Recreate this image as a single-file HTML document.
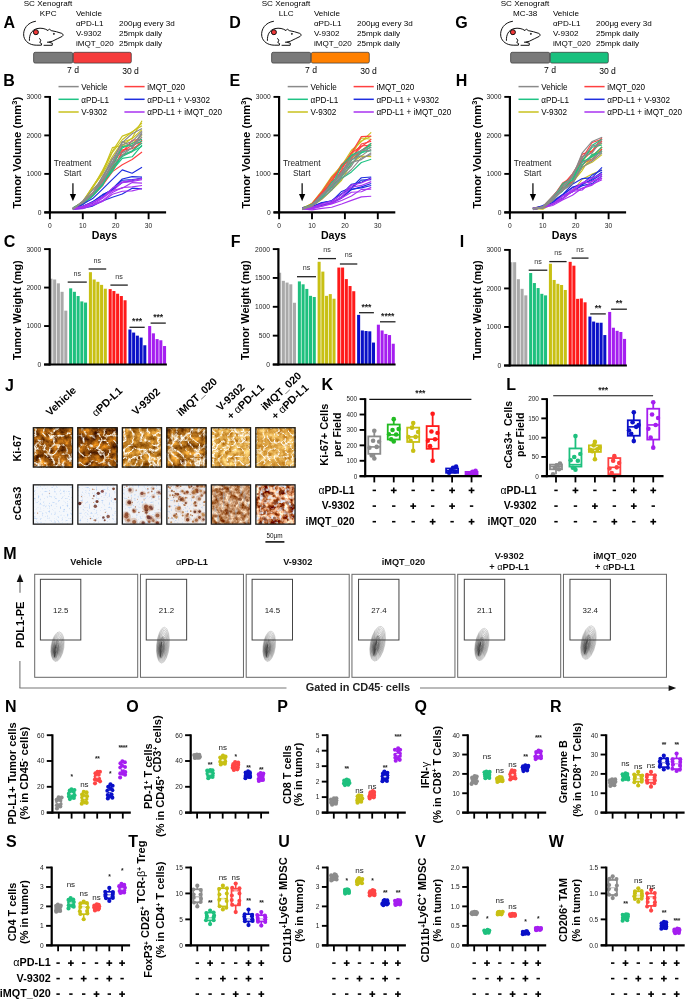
<!DOCTYPE html>
<html><head><meta charset="utf-8"><style>
html,body{margin:0;padding:0;background:#fff;}
svg{display:block;font-family:"Liberation Sans", sans-serif;will-change:transform;}
</style></head><body>
<svg width="685" height="1000" viewBox="0 0 685 1000">
<defs><filter id="ki0" x="0" y="0" width="1" height="1" color-interpolation-filters="sRGB"><feTurbulence type="fractalNoise" baseFrequency="0.15" numOctaves="4" seed="3" result="n1"/><feColorMatrix in="n1" type="matrix" values="1.155 0 0 0 0.033  0.852 0 0 0 -0.086  0.275 0 0 0 -0.083  0 0 0 0 1" result="c1"/><feTurbulence type="turbulence" baseFrequency="0.11" numOctaves="3" seed="53" result="n2"/><feColorMatrix in="n2" type="matrix" values="0 0 0 0 1  0 0 0 0 0.99  0 0 0 0 0.95  -4.6 0 0 0 1.26" result="w"/><feMerge><feMergeNode in="c1"/><feMergeNode in="w"/></feMerge></filter><filter id="ki1" x="0" y="0" width="1" height="1" color-interpolation-filters="sRGB"><feTurbulence type="fractalNoise" baseFrequency="0.14" numOctaves="4" seed="5" result="n1"/><feColorMatrix in="n1" type="matrix" values="1.210 0 0 0 -0.023  0.880 0 0 0 -0.124  0.220 0 0 0 -0.066  0 0 0 0 1" result="c1"/><feTurbulence type="turbulence" baseFrequency="0.11" numOctaves="3" seed="55" result="n2"/><feColorMatrix in="n2" type="matrix" values="0 0 0 0 1  0 0 0 0 0.99  0 0 0 0 0.95  -4.6 0 0 0 1.18" result="w"/><feMerge><feMergeNode in="c1"/><feMergeNode in="w"/></feMerge></filter><filter id="ki2" x="0" y="0" width="1" height="1" color-interpolation-filters="sRGB"><feTurbulence type="fractalNoise" baseFrequency="0.16" numOctaves="4" seed="8" result="n1"/><feColorMatrix in="n1" type="matrix" values="0.840 0 0 0 0.308  0.787 0 0 0 0.084  0.499 0 0 0 -0.120  0 0 0 0 1" result="c1"/><feTurbulence type="turbulence" baseFrequency="0.12" numOctaves="3" seed="58" result="n2"/><feColorMatrix in="n2" type="matrix" values="0 0 0 0 1  0 0 0 0 0.99  0 0 0 0 0.95  -4.4 0 0 0 1.32" result="w"/><feMerge><feMergeNode in="c1"/><feMergeNode in="w"/></feMerge></filter><filter id="ki3" x="0" y="0" width="1" height="1" color-interpolation-filters="sRGB"><feTurbulence type="fractalNoise" baseFrequency="0.14" numOctaves="4" seed="11" result="n1"/><feColorMatrix in="n1" type="matrix" values="0.998 0 0 0 0.181  0.866 0 0 0 -0.010  0.446 0 0 0 -0.124  0 0 0 0 1" result="c1"/><feTurbulence type="turbulence" baseFrequency="0.11" numOctaves="3" seed="61" result="n2"/><feColorMatrix in="n2" type="matrix" values="0 0 0 0 1  0 0 0 0 0.99  0 0 0 0 0.95  -4.4 0 0 0 1.24" result="w"/><feMerge><feMergeNode in="c1"/><feMergeNode in="w"/></feMerge></filter><filter id="ki4" x="0" y="0" width="1" height="1" color-interpolation-filters="sRGB"><feTurbulence type="fractalNoise" baseFrequency="0.18" numOctaves="4" seed="14" result="n1"/><feColorMatrix in="n1" type="matrix" values="0.551 0 0 0 0.595  0.788 0 0 0 0.264  0.840 0 0 0 -0.132  0 0 0 0 1" result="c1"/><feTurbulence type="turbulence" baseFrequency="0.14" numOctaves="3" seed="64" result="n2"/><feColorMatrix in="n2" type="matrix" values="0 0 0 0 1  0 0 0 0 0.99  0 0 0 0 0.95  -4.6 0 0 0 1.3" result="w"/><feMerge><feMergeNode in="c1"/><feMergeNode in="w"/></feMerge></filter><filter id="ki5" x="0" y="0" width="1" height="1" color-interpolation-filters="sRGB"><feTurbulence type="fractalNoise" baseFrequency="0.18" numOctaves="4" seed="17" result="n1"/><feColorMatrix in="n1" type="matrix" values="0.450 0 0 0 0.645  0.650 0 0 0 0.325  0.700 0 0 0 -0.070  0 0 0 0 1" result="c1"/><feTurbulence type="turbulence" baseFrequency="0.14" numOctaves="3" seed="67" result="n2"/><feColorMatrix in="n2" type="matrix" values="0 0 0 0 1  0 0 0 0 0.99  0 0 0 0 0.95  -5.0 0 0 0 1.22" result="w"/><feMerge><feMergeNode in="c1"/><feMergeNode in="w"/></feMerge></filter><filter id="ccbg" x="0" y="0" width="1" height="1" color-interpolation-filters="sRGB"><feTurbulence type="fractalNoise" baseFrequency="0.55" numOctaves="1" seed="4"/><feColorMatrix type="matrix" values="0 0 0 0 0.55  0 0 0 0 0.72  0 0 0 0 0.95  2.6 0 0 0 -1.45"/></filter><filter id="bl" x="-50%" y="-50%" width="200%" height="200%"><feGaussianBlur stdDeviation="0.45"/></filter><filter id="cc4" x="0" y="0" width="1" height="1" color-interpolation-filters="sRGB"><feTurbulence type="fractalNoise" baseFrequency="0.2" numOctaves="3" seed="21" result="n"/><feColorMatrix in="n" type="matrix" values="-1.0 0 0 0 1.28  -1.4 0 0 0 1.28  -1.6 0 0 0 1.22  0 0 0 0 1" result="c"/><feTurbulence type="fractalNoise" baseFrequency="0.35 0.12" numOctaves="2" seed="5" result="n3"/><feColorMatrix in="n3" type="matrix" values="0 0 0 0 0.64  0 0 0 0 0.68  0 0 0 0 0.74  2.6 0 0 0 -1.45" result="b"/><feMerge><feMergeNode in="c"/><feMergeNode in="b"/></feMerge></filter><filter id="cc5" x="0" y="0" width="1" height="1" color-interpolation-filters="sRGB"><feTurbulence type="fractalNoise" baseFrequency="0.2" numOctaves="3" seed="33" result="n"/><feColorMatrix in="n" type="matrix" values="-1.5 0 0 0 1.55  -1.9 0 0 0 1.45  -2.0 0 0 0 1.32  0 0 0 0 1" result="c"/><feTurbulence type="fractalNoise" baseFrequency="0.25" numOctaves="2" seed="9" result="n3"/><feColorMatrix in="n3" type="matrix" values="0 0 0 0 0.88  0 0 0 0 0.92  0 0 0 0 0.98  4.0 0 0 0 -2.0" result="b"/><feMerge><feMergeNode in="c"/><feMergeNode in="b"/></feMerge></filter><clipPath id="cc0c"><rect x="33.35" y="484.85" width="39.2" height="39.3"/></clipPath><clipPath id="cc1c"><rect x="77.85" y="484.85" width="39.2" height="39.3"/></clipPath><clipPath id="cc2c"><rect x="122.35" y="484.85" width="39.2" height="39.3"/></clipPath><clipPath id="cc3c"><rect x="166.85" y="484.85" width="39.2" height="39.3"/></clipPath><clipPath id="cc4c"><rect x="211.35" y="484.85" width="39.2" height="39.3"/></clipPath><clipPath id="cc5c"><rect x="255.85" y="484.85" width="39.2" height="39.3"/></clipPath><filter id="mb" x="-50%" y="-50%" width="200%" height="200%"><feGaussianBlur stdDeviation="0.7"/></filter></defs>
<rect x="0" y="0" width="685" height="1000" fill="#fff"/>
<text x="48.00" y="5.60" font-size="8.1" text-anchor="middle" fill="#000">SC Xenograft</text>
<text x="48.20" y="15.90" font-size="8.1" text-anchor="middle" fill="#000">KPC</text>
<text x="75.90" y="15.90" font-size="8.1" text-anchor="start" fill="#000">Vehicle</text>
<text x="75.90" y="25.85" font-size="8.1" text-anchor="start" fill="#000">&#945;PD-L1</text>
<text x="75.90" y="35.80" font-size="8.1" text-anchor="start" fill="#000">V-9302</text>
<text x="75.90" y="45.75" font-size="8.1" text-anchor="start" fill="#000">iMQT_020</text>
<text x="118.90" y="25.80" font-size="8.1" text-anchor="start" fill="#000">200&#956;g every 3d</text>
<text x="118.90" y="35.80" font-size="8.1" text-anchor="start" fill="#000">25mpk daily</text>
<text x="118.90" y="45.70" font-size="8.1" text-anchor="start" fill="#000">25mpk daily</text>
<g transform="translate(0.00,0.00)" fill="none" stroke="#111" stroke-width="1.0" stroke-linecap="round" stroke-linejoin="round"><path d="M35.5,21.3 C27.5,22.4 22.6,29.2 23.8,36.4 C25,41.8 29.8,45 36.2,45.2 L41.4,45.2 L41.6,43.6 L39.8,42.6 L40.8,40.2 L39.6,38.6"/><path d="M29.4,40.4 C29.2,35 31.2,30.2 37,28.6 C41,27.6 45.5,28.6 48,30.6 L49.4,29 L51.2,30.6 C54.5,31.3 58.5,32 61.8,33.4 C63.5,34.2 63.4,35.6 62.2,36.4 C59,38 55.5,39.6 52.2,41.3 L49,42 M44,45.3 L52.2,45.3 L52.4,43.3 L49,42.2 L47.4,42.2"/><circle cx="53.8" cy="33.9" r="0.35" fill="#111"/></g>
<circle cx="35.90" cy="32.20" r="2.5" fill="#f03838" stroke="#111" stroke-width="1.0"/>
<rect x="33.60" y="52.3" width="39.2" height="10.8" rx="1.6" fill="#7a7a7a" stroke="#333" stroke-width="0.7"/>
<rect x="73.30" y="52.3" width="58.0" height="10.8" rx="1.6" fill="#f53c3c" stroke="#333" stroke-width="0.7"/>
<text x="73.00" y="73.00" font-size="8.6" text-anchor="middle" fill="#000">7 d</text>
<text x="130.50" y="73.60" font-size="8.6" text-anchor="middle" fill="#000">30 d</text>
<text x="286.00" y="5.60" font-size="8.1" text-anchor="middle" fill="#000">SC Xenograft</text>
<text x="286.20" y="15.90" font-size="8.1" text-anchor="middle" fill="#000">LLC</text>
<text x="313.90" y="15.90" font-size="8.1" text-anchor="start" fill="#000">Vehicle</text>
<text x="313.90" y="25.85" font-size="8.1" text-anchor="start" fill="#000">&#945;PD-L1</text>
<text x="313.90" y="35.80" font-size="8.1" text-anchor="start" fill="#000">V-9302</text>
<text x="313.90" y="45.75" font-size="8.1" text-anchor="start" fill="#000">iMQT_020</text>
<text x="356.90" y="25.80" font-size="8.1" text-anchor="start" fill="#000">200&#956;g every 3d</text>
<text x="356.90" y="35.80" font-size="8.1" text-anchor="start" fill="#000">25mpk daily</text>
<text x="356.90" y="45.70" font-size="8.1" text-anchor="start" fill="#000">25mpk daily</text>
<g transform="translate(238.00,0.00)" fill="none" stroke="#111" stroke-width="1.0" stroke-linecap="round" stroke-linejoin="round"><path d="M35.5,21.3 C27.5,22.4 22.6,29.2 23.8,36.4 C25,41.8 29.8,45 36.2,45.2 L41.4,45.2 L41.6,43.6 L39.8,42.6 L40.8,40.2 L39.6,38.6"/><path d="M29.4,40.4 C29.2,35 31.2,30.2 37,28.6 C41,27.6 45.5,28.6 48,30.6 L49.4,29 L51.2,30.6 C54.5,31.3 58.5,32 61.8,33.4 C63.5,34.2 63.4,35.6 62.2,36.4 C59,38 55.5,39.6 52.2,41.3 L49,42 M44,45.3 L52.2,45.3 L52.4,43.3 L49,42.2 L47.4,42.2"/><circle cx="53.8" cy="33.9" r="0.35" fill="#111"/></g>
<circle cx="273.90" cy="32.20" r="2.5" fill="#f03838" stroke="#111" stroke-width="1.0"/>
<rect x="271.60" y="52.3" width="39.2" height="10.8" rx="1.6" fill="#7a7a7a" stroke="#333" stroke-width="0.7"/>
<rect x="311.30" y="52.3" width="58.0" height="10.8" rx="1.6" fill="#ff8000" stroke="#333" stroke-width="0.7"/>
<text x="311.00" y="73.00" font-size="8.6" text-anchor="middle" fill="#000">7 d</text>
<text x="368.50" y="73.60" font-size="8.6" text-anchor="middle" fill="#000">30 d</text>
<text x="525.00" y="5.60" font-size="8.1" text-anchor="middle" fill="#000">SC Xenograft</text>
<text x="525.20" y="15.90" font-size="8.1" text-anchor="middle" fill="#000">MC-38</text>
<text x="552.90" y="15.90" font-size="8.1" text-anchor="start" fill="#000">Vehicle</text>
<text x="552.90" y="25.85" font-size="8.1" text-anchor="start" fill="#000">&#945;PD-L1</text>
<text x="552.90" y="35.80" font-size="8.1" text-anchor="start" fill="#000">V-9302</text>
<text x="552.90" y="45.75" font-size="8.1" text-anchor="start" fill="#000">iMQT_020</text>
<text x="595.90" y="25.80" font-size="8.1" text-anchor="start" fill="#000">200&#956;g every 3d</text>
<text x="595.90" y="35.80" font-size="8.1" text-anchor="start" fill="#000">25mpk daily</text>
<text x="595.90" y="45.70" font-size="8.1" text-anchor="start" fill="#000">25mpk daily</text>
<g transform="translate(477.00,0.00)" fill="none" stroke="#111" stroke-width="1.0" stroke-linecap="round" stroke-linejoin="round"><path d="M35.5,21.3 C27.5,22.4 22.6,29.2 23.8,36.4 C25,41.8 29.8,45 36.2,45.2 L41.4,45.2 L41.6,43.6 L39.8,42.6 L40.8,40.2 L39.6,38.6"/><path d="M29.4,40.4 C29.2,35 31.2,30.2 37,28.6 C41,27.6 45.5,28.6 48,30.6 L49.4,29 L51.2,30.6 C54.5,31.3 58.5,32 61.8,33.4 C63.5,34.2 63.4,35.6 62.2,36.4 C59,38 55.5,39.6 52.2,41.3 L49,42 M44,45.3 L52.2,45.3 L52.4,43.3 L49,42.2 L47.4,42.2"/><circle cx="53.8" cy="33.9" r="0.35" fill="#111"/></g>
<circle cx="512.90" cy="32.20" r="2.5" fill="#f03838" stroke="#111" stroke-width="1.0"/>
<rect x="510.60" y="52.3" width="39.2" height="10.8" rx="1.6" fill="#7a7a7a" stroke="#333" stroke-width="0.7"/>
<rect x="550.30" y="52.3" width="58.0" height="10.8" rx="1.6" fill="#19c07e" stroke="#333" stroke-width="0.7"/>
<text x="550.00" y="73.00" font-size="8.6" text-anchor="middle" fill="#000">7 d</text>
<text x="607.50" y="73.60" font-size="8.6" text-anchor="middle" fill="#000">30 d</text>
<line x1="58.50" y1="86.60" x2="78.70" y2="86.60" stroke="#8a8a8a" stroke-width="1.5"/>
<text x="81.30" y="90.00" font-size="8.15" text-anchor="start" fill="#000">Vehicle</text>
<line x1="58.50" y1="99.30" x2="78.70" y2="99.30" stroke="#1fc384" stroke-width="1.5"/>
<text x="81.30" y="102.70" font-size="8.15" text-anchor="start" fill="#000">&#945;PD-L1</text>
<line x1="58.50" y1="112.00" x2="78.70" y2="112.00" stroke="#c9c21e" stroke-width="1.5"/>
<text x="81.30" y="115.40" font-size="8.15" text-anchor="start" fill="#000">V-9302</text>
<line x1="124.40" y1="86.60" x2="144.60" y2="86.60" stroke="#ff4040" stroke-width="1.5"/>
<text x="147.20" y="90.00" font-size="8.15" text-anchor="start" fill="#000">iMQT_020</text>
<line x1="124.40" y1="99.30" x2="144.60" y2="99.30" stroke="#1e2ee0" stroke-width="1.5"/>
<text x="147.20" y="102.70" font-size="8.15" text-anchor="start" fill="#000">&#945;PD-L1 + V-9302</text>
<line x1="124.40" y1="112.00" x2="144.60" y2="112.00" stroke="#a832f0" stroke-width="1.5"/>
<text x="147.20" y="115.40" font-size="8.15" text-anchor="start" fill="#000">&#945;PD-L1 + iMQT_020</text>
<path d="M72.93,209.25 L82.80,201.31 L92.67,186.52 L102.54,172.18 L112.41,147.59 L122.28,145.47 L132.15,137.96 L142.02,120.77" fill="none" stroke="#c9c21e" stroke-width="1.15" stroke-linejoin="round"/>
<path d="M72.93,208.09 L82.80,202.20 L92.67,187.87 L102.54,170.19 L112.41,151.14 L122.28,136.14 L132.15,132.39 L142.02,123.08" fill="none" stroke="#c9c21e" stroke-width="1.15" stroke-linejoin="round"/>
<path d="M72.93,208.47 L82.80,202.73 L92.67,186.60 L102.54,172.41 L112.41,152.35 L122.28,139.76 L132.15,131.76 L142.02,125.78" fill="none" stroke="#c9c21e" stroke-width="1.15" stroke-linejoin="round"/>
<path d="M72.93,209.58 L82.80,202.68 L92.67,189.66 L102.54,180.61 L112.41,164.25 L122.28,146.30 L132.15,143.48 L142.02,135.40" fill="none" stroke="#c9c21e" stroke-width="1.15" stroke-linejoin="round"/>
<path d="M72.93,208.32 L82.80,201.71 L92.67,187.37 L102.54,173.81 L112.41,156.49 L122.28,142.19 L132.15,138.73 L142.02,129.62" fill="none" stroke="#c9c21e" stroke-width="1.15" stroke-linejoin="round"/>
<path d="M72.93,209.25 L82.80,203.85 L92.67,194.21 L102.54,183.80 L112.41,169.91 L122.28,152.16 L132.15,140.27 L142.02,139.25" fill="none" stroke="#ff4040" stroke-width="1.15" stroke-linejoin="round"/>
<path d="M72.93,208.16 L82.80,202.72 L92.67,195.04 L102.54,181.78 L112.41,168.42 L122.28,155.58 L132.15,151.72 L142.02,140.02" fill="none" stroke="#ff4040" stroke-width="1.15" stroke-linejoin="round"/>
<path d="M72.93,209.29 L82.80,204.07 L92.67,196.04 L102.54,185.46 L112.41,171.65 L122.28,164.74 L132.15,159.49 L142.02,151.96" fill="none" stroke="#ff4040" stroke-width="1.15" stroke-linejoin="round"/>
<path d="M72.93,208.50 L82.80,202.93 L92.67,193.03 L102.54,180.21 L112.41,170.85 L122.28,151.30 L132.15,145.36 L142.02,141.18" fill="none" stroke="#ff4040" stroke-width="1.15" stroke-linejoin="round"/>
<path d="M72.93,208.73 L82.80,204.17 L92.67,194.89 L102.54,185.68 L112.41,164.49 L122.28,149.93 L132.15,148.74 L142.02,143.10" fill="none" stroke="#ff4040" stroke-width="1.15" stroke-linejoin="round"/>
<path d="M72.93,207.86 L82.80,202.28 L92.67,195.47 L102.54,184.23 L112.41,162.75 L122.28,148.05 L132.15,143.57 L142.02,139.25" fill="none" stroke="#1fc384" stroke-width="1.15" stroke-linejoin="round"/>
<path d="M72.93,209.11 L82.80,203.41 L92.67,194.42 L102.54,182.82 L112.41,171.34 L122.28,155.00 L132.15,150.68 L142.02,143.10" fill="none" stroke="#1fc384" stroke-width="1.15" stroke-linejoin="round"/>
<path d="M72.93,208.31 L82.80,203.00 L92.67,193.75 L102.54,183.85 L112.41,170.02 L122.28,158.43 L132.15,156.78 L142.02,145.03" fill="none" stroke="#1fc384" stroke-width="1.15" stroke-linejoin="round"/>
<path d="M72.93,209.65 L82.80,204.05 L92.67,196.19 L102.54,185.26 L112.41,166.98 L122.28,156.49 L132.15,151.41 L142.02,146.18" fill="none" stroke="#1fc384" stroke-width="1.15" stroke-linejoin="round"/>
<path d="M72.93,209.25 L82.80,204.22 L92.67,194.94 L102.54,184.66 L112.41,167.01 L122.28,146.60 L132.15,145.32 L142.02,141.18" fill="none" stroke="#1fc384" stroke-width="1.15" stroke-linejoin="round"/>
<path d="M72.93,208.51 L82.80,204.37 L92.67,198.57 L102.54,189.11 L112.41,179.36 L122.28,169.90 L132.15,173.23 L142.02,167.36" fill="none" stroke="#1e2ee0" stroke-width="1.15" stroke-linejoin="round"/>
<path d="M72.93,208.81 L82.80,205.99 L92.67,202.05 L102.54,194.62 L112.41,190.02 L122.28,182.44 L132.15,180.82 L142.02,177.75" fill="none" stroke="#1e2ee0" stroke-width="1.15" stroke-linejoin="round"/>
<path d="M72.93,208.66 L82.80,206.29 L92.67,203.13 L102.54,196.53 L112.41,188.70 L122.28,179.02 L132.15,176.59 L142.02,176.98" fill="none" stroke="#1e2ee0" stroke-width="1.15" stroke-linejoin="round"/>
<path d="M72.93,209.40 L82.80,208.17 L92.67,206.08 L102.54,200.98 L112.41,197.19 L122.28,194.00 L132.15,188.18 L142.02,188.92" fill="none" stroke="#1e2ee0" stroke-width="1.15" stroke-linejoin="round"/>
<path d="M72.93,209.30 L82.80,206.97 L92.67,201.63 L102.54,195.11 L112.41,189.68 L122.28,180.20 L132.15,179.62 L142.02,178.52" fill="none" stroke="#1e2ee0" stroke-width="1.15" stroke-linejoin="round"/>
<path d="M72.93,208.18 L82.80,206.27 L92.67,202.60 L102.54,197.07 L112.41,191.05 L122.28,181.96 L132.15,180.07 L142.02,178.52" fill="none" stroke="#a832f0" stroke-width="1.15" stroke-linejoin="round"/>
<path d="M72.93,208.24 L82.80,206.98 L92.67,202.40 L102.54,197.56 L112.41,188.11 L122.28,182.62 L132.15,181.52 L142.02,179.68" fill="none" stroke="#a832f0" stroke-width="1.15" stroke-linejoin="round"/>
<path d="M72.93,208.67 L82.80,207.24 L92.67,204.44 L102.54,198.35 L112.41,190.67 L122.28,188.14 L132.15,182.61 L142.02,183.14" fill="none" stroke="#a832f0" stroke-width="1.15" stroke-linejoin="round"/>
<path d="M72.93,208.39 L82.80,207.50 L92.67,204.84 L102.54,200.64 L112.41,192.40 L122.28,187.52 L132.15,186.81 L142.02,185.45" fill="none" stroke="#a832f0" stroke-width="1.15" stroke-linejoin="round"/>
<path d="M72.93,209.52 L82.80,208.59 L92.67,205.29 L102.54,201.54 L112.41,194.18 L122.28,191.27 L132.15,190.86 L142.02,188.53" fill="none" stroke="#a832f0" stroke-width="1.15" stroke-linejoin="round"/>
<path d="M72.93,209.45 L82.80,201.00 L92.67,189.96 L102.54,178.88 L112.41,159.07 L122.28,142.61 L132.15,133.71 L142.02,128.47" fill="none" stroke="#8a8a8a" stroke-width="1.15" stroke-linejoin="round"/>
<path d="M72.93,208.19 L82.80,203.06 L92.67,193.98 L102.54,176.51 L112.41,162.15 L122.28,141.60 L132.15,146.78 L142.02,132.32" fill="none" stroke="#8a8a8a" stroke-width="1.15" stroke-linejoin="round"/>
<path d="M72.93,208.85 L82.80,201.98 L92.67,193.53 L102.54,176.48 L112.41,158.44 L122.28,152.62 L132.15,147.71 L142.02,133.86" fill="none" stroke="#8a8a8a" stroke-width="1.15" stroke-linejoin="round"/>
<path d="M72.93,208.66 L82.80,201.97 L92.67,193.69 L102.54,182.50 L112.41,165.16 L122.28,154.98 L132.15,147.55 L142.02,136.94" fill="none" stroke="#8a8a8a" stroke-width="1.15" stroke-linejoin="round"/>
<path d="M72.93,208.86 L82.80,202.09 L92.67,192.87 L102.54,180.12 L112.41,163.64 L122.28,144.71 L132.15,141.58 L142.02,131.17" fill="none" stroke="#8a8a8a" stroke-width="1.15" stroke-linejoin="round"/>
<line x1="49.90" y1="96.00" x2="49.90" y2="213.40" stroke="#000" stroke-width="2.2"/>
<line x1="44.30" y1="212.40" x2="166.10" y2="212.40" stroke="#000" stroke-width="2.2"/>
<line x1="44.30" y1="212.40" x2="49.90" y2="212.40" stroke="#000" stroke-width="1.9"/>
<text x="41.50" y="214.80" font-size="6.5" text-anchor="end" fill="#222" textLength="3.72" lengthAdjust="spacingAndGlyphs">0</text>
<line x1="44.30" y1="173.90" x2="49.90" y2="173.90" stroke="#000" stroke-width="1.9"/>
<text x="41.50" y="176.30" font-size="6.5" text-anchor="end" fill="#222" textLength="14.88" lengthAdjust="spacingAndGlyphs">1000</text>
<line x1="44.30" y1="135.40" x2="49.90" y2="135.40" stroke="#000" stroke-width="1.9"/>
<text x="41.50" y="137.80" font-size="6.5" text-anchor="end" fill="#222" textLength="14.88" lengthAdjust="spacingAndGlyphs">2000</text>
<line x1="44.30" y1="96.90" x2="49.90" y2="96.90" stroke="#000" stroke-width="1.9"/>
<text x="41.50" y="99.30" font-size="6.5" text-anchor="end" fill="#222" textLength="14.88" lengthAdjust="spacingAndGlyphs">3000</text>
<line x1="49.90" y1="212.40" x2="49.90" y2="219.20" stroke="#000" stroke-width="1.9"/>
<text x="49.90" y="227.60" font-size="6.5" text-anchor="middle" fill="#222" textLength="3.72" lengthAdjust="spacingAndGlyphs">0</text>
<line x1="82.80" y1="212.40" x2="82.80" y2="219.20" stroke="#000" stroke-width="1.9"/>
<text x="82.80" y="227.60" font-size="6.5" text-anchor="middle" fill="#222" textLength="7.44" lengthAdjust="spacingAndGlyphs">10</text>
<line x1="115.70" y1="212.40" x2="115.70" y2="219.20" stroke="#000" stroke-width="1.9"/>
<text x="115.70" y="227.60" font-size="6.5" text-anchor="middle" fill="#222" textLength="7.44" lengthAdjust="spacingAndGlyphs">20</text>
<line x1="148.60" y1="212.40" x2="148.60" y2="219.20" stroke="#000" stroke-width="1.9"/>
<text x="148.60" y="227.60" font-size="6.5" text-anchor="middle" fill="#222" textLength="7.44" lengthAdjust="spacingAndGlyphs">30</text>
<text x="104.40" y="238.70" font-size="10.6" font-weight="bold" text-anchor="middle" fill="#000">Days</text>
<text x="21.00" y="152.80" font-size="10.9" font-weight="bold" fill="#000" text-anchor="middle" textLength="111.9" lengthAdjust="spacingAndGlyphs" transform="rotate(-90 21.00 152.80)">Tumor Volume (mm<tspan font-size="7.2" dy="-3.8">3</tspan><tspan dy="3.8">)</tspan></text>
<text x="72.50" y="166.20" font-size="8.3" text-anchor="middle" fill="#222">Treatment</text>
<text x="72.50" y="175.60" font-size="8.3" text-anchor="middle" fill="#222">Start</text>
<line x1="72.93" y1="183.20" x2="72.93" y2="195.00" stroke="#000" stroke-width="1.2"/>
<path d="M69.83,194 L76.03,194 L72.93,201.2 Z" fill="#000"/>
<line x1="287.70" y1="86.60" x2="307.90" y2="86.60" stroke="#8a8a8a" stroke-width="1.5"/>
<text x="310.50" y="90.00" font-size="8.15" text-anchor="start" fill="#000">Vehicle</text>
<line x1="287.70" y1="99.30" x2="307.90" y2="99.30" stroke="#1fc384" stroke-width="1.5"/>
<text x="310.50" y="102.70" font-size="8.15" text-anchor="start" fill="#000">&#945;PD-L1</text>
<line x1="287.70" y1="112.00" x2="307.90" y2="112.00" stroke="#c9c21e" stroke-width="1.5"/>
<text x="310.50" y="115.40" font-size="8.15" text-anchor="start" fill="#000">V-9302</text>
<line x1="353.60" y1="86.60" x2="373.80" y2="86.60" stroke="#ff4040" stroke-width="1.5"/>
<text x="376.40" y="90.00" font-size="8.15" text-anchor="start" fill="#000">iMQT_020</text>
<line x1="353.60" y1="99.30" x2="373.80" y2="99.30" stroke="#1e2ee0" stroke-width="1.5"/>
<text x="376.40" y="102.70" font-size="8.15" text-anchor="start" fill="#000">&#945;PD-L1 + V-9302</text>
<line x1="353.60" y1="112.00" x2="373.80" y2="112.00" stroke="#a832f0" stroke-width="1.5"/>
<text x="376.40" y="115.40" font-size="8.15" text-anchor="start" fill="#000">&#945;PD-L1 + iMQT_020</text>
<path d="M302.13,209.21 L312.00,203.26 L321.87,190.81 L331.74,176.42 L341.61,165.87 L351.48,150.27 L361.35,141.69 L371.22,132.32" fill="none" stroke="#c9c21e" stroke-width="1.15" stroke-linejoin="round"/>
<path d="M302.13,209.27 L312.00,203.62 L321.87,194.05 L331.74,180.18 L341.61,167.84 L351.48,152.46 L361.35,140.97 L371.22,136.17" fill="none" stroke="#c9c21e" stroke-width="1.15" stroke-linejoin="round"/>
<path d="M302.13,208.09 L312.00,206.13 L321.87,199.30 L331.74,190.00 L341.61,180.23 L351.48,163.22 L361.35,156.08 L371.22,156.57" fill="none" stroke="#c9c21e" stroke-width="1.15" stroke-linejoin="round"/>
<path d="M302.13,208.15 L312.00,203.83 L321.87,192.45 L331.74,178.92 L341.61,164.38 L351.48,155.34 L361.35,138.04 L371.22,139.25" fill="none" stroke="#c9c21e" stroke-width="1.15" stroke-linejoin="round"/>
<path d="M302.13,208.77 L312.00,204.61 L321.87,194.66 L331.74,184.50 L341.61,171.76 L351.48,157.93 L361.35,150.78 L371.22,145.03" fill="none" stroke="#c9c21e" stroke-width="1.15" stroke-linejoin="round"/>
<path d="M302.13,209.50 L312.00,203.67 L321.87,191.98 L331.74,177.56 L341.61,167.30 L351.48,152.94 L361.35,136.59 L371.22,136.17" fill="none" stroke="#ff4040" stroke-width="1.15" stroke-linejoin="round"/>
<path d="M302.13,208.44 L312.00,204.67 L321.87,192.68 L331.74,182.31 L341.61,164.53 L351.48,156.99 L361.35,146.75 L371.22,139.25" fill="none" stroke="#ff4040" stroke-width="1.15" stroke-linejoin="round"/>
<path d="M302.13,207.97 L312.00,204.79 L321.87,194.77 L331.74,180.67 L341.61,167.08 L351.48,158.09 L361.35,144.04 L371.22,141.18" fill="none" stroke="#ff4040" stroke-width="1.15" stroke-linejoin="round"/>
<path d="M302.13,208.43 L312.00,205.29 L321.87,193.84 L331.74,185.49 L341.61,170.83 L351.48,160.31 L361.35,150.46 L371.22,143.10" fill="none" stroke="#ff4040" stroke-width="1.15" stroke-linejoin="round"/>
<path d="M302.13,207.82 L312.00,205.13 L321.87,193.16 L331.74,184.45 L341.61,169.73 L351.48,153.04 L361.35,146.00 L371.22,145.03" fill="none" stroke="#ff4040" stroke-width="1.15" stroke-linejoin="round"/>
<path d="M302.13,208.79 L312.00,204.97 L321.87,194.82 L331.74,186.88 L341.61,175.79 L351.48,160.08 L361.35,153.03 L371.22,146.95" fill="none" stroke="#1fc384" stroke-width="1.15" stroke-linejoin="round"/>
<path d="M302.13,208.15 L312.00,206.33 L321.87,198.31 L331.74,189.83 L341.61,178.40 L351.48,171.92 L361.35,162.53 L371.22,159.27" fill="none" stroke="#1fc384" stroke-width="1.15" stroke-linejoin="round"/>
<path d="M302.13,209.39 L312.00,204.39 L321.87,196.43 L331.74,182.30 L341.61,174.18 L351.48,155.09 L361.35,150.48 L371.22,145.03" fill="none" stroke="#1fc384" stroke-width="1.15" stroke-linejoin="round"/>
<path d="M302.13,208.93 L312.00,204.25 L321.87,196.12 L331.74,185.85 L341.61,165.87 L351.48,155.47 L361.35,151.95 L371.22,143.10" fill="none" stroke="#1fc384" stroke-width="1.15" stroke-linejoin="round"/>
<path d="M302.13,207.80 L312.00,205.02 L321.87,197.63 L331.74,186.93 L341.61,177.00 L351.48,163.78 L361.35,152.46 L371.22,150.80" fill="none" stroke="#1fc384" stroke-width="1.15" stroke-linejoin="round"/>
<path d="M302.13,207.85 L312.00,207.45 L321.87,202.76 L331.74,201.18 L341.61,191.41 L351.48,187.44 L361.35,177.72 L371.22,176.98" fill="none" stroke="#1e2ee0" stroke-width="1.15" stroke-linejoin="round"/>
<path d="M302.13,208.39 L312.00,206.65 L321.87,202.49 L331.74,201.23 L341.61,194.29 L351.48,184.25 L361.35,182.25 L371.22,177.75" fill="none" stroke="#1e2ee0" stroke-width="1.15" stroke-linejoin="round"/>
<path d="M302.13,209.20 L312.00,207.60 L321.87,203.28 L331.74,200.44 L341.61,193.68 L351.48,188.29 L361.35,180.09 L371.22,179.68" fill="none" stroke="#1e2ee0" stroke-width="1.15" stroke-linejoin="round"/>
<path d="M302.13,208.72 L312.00,208.16 L321.87,204.96 L331.74,202.74 L341.61,198.12 L351.48,189.59 L361.35,186.86 L371.22,183.53" fill="none" stroke="#1e2ee0" stroke-width="1.15" stroke-linejoin="round"/>
<path d="M302.13,208.61 L312.00,207.86 L321.87,205.19 L331.74,203.41 L341.61,196.79 L351.48,189.30 L361.35,187.92 L371.22,185.45" fill="none" stroke="#1e2ee0" stroke-width="1.15" stroke-linejoin="round"/>
<path d="M302.13,209.01 L312.00,207.17 L321.87,203.74 L331.74,201.00 L341.61,194.44 L351.48,185.14 L361.35,183.06 L371.22,178.52" fill="none" stroke="#a832f0" stroke-width="1.15" stroke-linejoin="round"/>
<path d="M302.13,208.48 L312.00,208.09 L321.87,204.71 L331.74,202.27 L341.61,196.96 L351.48,187.21 L361.35,185.44 L371.22,181.60" fill="none" stroke="#a832f0" stroke-width="1.15" stroke-linejoin="round"/>
<path d="M302.13,208.19 L312.00,208.17 L321.87,206.21 L331.74,203.22 L341.61,198.06 L351.48,192.23 L361.35,191.78 L371.22,187.38" fill="none" stroke="#a832f0" stroke-width="1.15" stroke-linejoin="round"/>
<path d="M302.13,208.83 L312.00,209.83 L321.87,208.37 L331.74,207.21 L341.61,204.00 L351.48,200.40 L361.35,196.84 L371.22,196.23" fill="none" stroke="#a832f0" stroke-width="1.15" stroke-linejoin="round"/>
<path d="M302.13,209.04 L312.00,208.87 L321.87,206.22 L331.74,203.84 L341.61,200.44 L351.48,196.03 L361.35,189.39 L371.22,189.30" fill="none" stroke="#a832f0" stroke-width="1.15" stroke-linejoin="round"/>
<path d="M302.13,208.83 L312.00,205.33 L321.87,194.48 L331.74,185.90 L341.61,172.95 L351.48,159.40 L361.35,155.86 L371.22,148.88" fill="none" stroke="#8a8a8a" stroke-width="1.15" stroke-linejoin="round"/>
<path d="M302.13,208.72 L312.00,205.45 L321.87,195.45 L331.74,188.63 L341.61,175.71 L351.48,166.02 L361.35,150.26 L371.22,150.80" fill="none" stroke="#8a8a8a" stroke-width="1.15" stroke-linejoin="round"/>
<path d="M302.13,208.37 L312.00,206.44 L321.87,195.39 L331.74,185.01 L341.61,174.26 L351.48,162.34 L361.35,159.59 L371.22,152.73" fill="none" stroke="#8a8a8a" stroke-width="1.15" stroke-linejoin="round"/>
<path d="M302.13,209.68 L312.00,206.01 L321.87,198.71 L331.74,189.65 L341.61,178.44 L351.48,169.50 L361.35,157.93 L371.22,154.65" fill="none" stroke="#8a8a8a" stroke-width="1.15" stroke-linejoin="round"/>
<path d="M302.13,208.86 L312.00,204.71 L321.87,195.32 L331.74,184.14 L341.61,171.82 L351.48,156.99 L361.35,150.75 L371.22,146.95" fill="none" stroke="#8a8a8a" stroke-width="1.15" stroke-linejoin="round"/>
<line x1="279.10" y1="96.00" x2="279.10" y2="213.40" stroke="#000" stroke-width="2.2"/>
<line x1="273.50" y1="212.40" x2="395.30" y2="212.40" stroke="#000" stroke-width="2.2"/>
<line x1="273.50" y1="212.40" x2="279.10" y2="212.40" stroke="#000" stroke-width="1.9"/>
<text x="270.70" y="214.80" font-size="6.5" text-anchor="end" fill="#222" textLength="3.72" lengthAdjust="spacingAndGlyphs">0</text>
<line x1="273.50" y1="173.90" x2="279.10" y2="173.90" stroke="#000" stroke-width="1.9"/>
<text x="270.70" y="176.30" font-size="6.5" text-anchor="end" fill="#222" textLength="14.88" lengthAdjust="spacingAndGlyphs">1000</text>
<line x1="273.50" y1="135.40" x2="279.10" y2="135.40" stroke="#000" stroke-width="1.9"/>
<text x="270.70" y="137.80" font-size="6.5" text-anchor="end" fill="#222" textLength="14.88" lengthAdjust="spacingAndGlyphs">2000</text>
<line x1="273.50" y1="96.90" x2="279.10" y2="96.90" stroke="#000" stroke-width="1.9"/>
<text x="270.70" y="99.30" font-size="6.5" text-anchor="end" fill="#222" textLength="14.88" lengthAdjust="spacingAndGlyphs">3000</text>
<line x1="279.10" y1="212.40" x2="279.10" y2="219.20" stroke="#000" stroke-width="1.9"/>
<text x="279.10" y="227.60" font-size="6.5" text-anchor="middle" fill="#222" textLength="3.72" lengthAdjust="spacingAndGlyphs">0</text>
<line x1="312.00" y1="212.40" x2="312.00" y2="219.20" stroke="#000" stroke-width="1.9"/>
<text x="312.00" y="227.60" font-size="6.5" text-anchor="middle" fill="#222" textLength="7.44" lengthAdjust="spacingAndGlyphs">10</text>
<line x1="344.90" y1="212.40" x2="344.90" y2="219.20" stroke="#000" stroke-width="1.9"/>
<text x="344.90" y="227.60" font-size="6.5" text-anchor="middle" fill="#222" textLength="7.44" lengthAdjust="spacingAndGlyphs">20</text>
<line x1="377.80" y1="212.40" x2="377.80" y2="219.20" stroke="#000" stroke-width="1.9"/>
<text x="377.80" y="227.60" font-size="6.5" text-anchor="middle" fill="#222" textLength="7.44" lengthAdjust="spacingAndGlyphs">30</text>
<text x="333.60" y="238.70" font-size="10.6" font-weight="bold" text-anchor="middle" fill="#000">Days</text>
<text x="250.20" y="152.80" font-size="10.9" font-weight="bold" fill="#000" text-anchor="middle" textLength="111.9" lengthAdjust="spacingAndGlyphs" transform="rotate(-90 250.20 152.80)">Tumor Volume (mm<tspan font-size="7.2" dy="-3.8">3</tspan><tspan dy="3.8">)</tspan></text>
<text x="301.70" y="166.20" font-size="8.3" text-anchor="middle" fill="#222">Treatment</text>
<text x="301.70" y="175.60" font-size="8.3" text-anchor="middle" fill="#222">Start</text>
<line x1="302.13" y1="183.20" x2="302.13" y2="195.00" stroke="#000" stroke-width="1.2"/>
<path d="M299.03,194 L305.23,194 L302.13,201.2 Z" fill="#000"/>
<line x1="518.50" y1="86.60" x2="538.70" y2="86.60" stroke="#8a8a8a" stroke-width="1.5"/>
<text x="541.30" y="90.00" font-size="8.15" text-anchor="start" fill="#000">Vehicle</text>
<line x1="518.50" y1="99.30" x2="538.70" y2="99.30" stroke="#1fc384" stroke-width="1.5"/>
<text x="541.30" y="102.70" font-size="8.15" text-anchor="start" fill="#000">&#945;PD-L1</text>
<line x1="518.50" y1="112.00" x2="538.70" y2="112.00" stroke="#c9c21e" stroke-width="1.5"/>
<text x="541.30" y="115.40" font-size="8.15" text-anchor="start" fill="#000">V-9302</text>
<line x1="584.40" y1="86.60" x2="604.60" y2="86.60" stroke="#ff4040" stroke-width="1.5"/>
<text x="607.20" y="90.00" font-size="8.15" text-anchor="start" fill="#000">iMQT_020</text>
<line x1="584.40" y1="99.30" x2="604.60" y2="99.30" stroke="#1e2ee0" stroke-width="1.5"/>
<text x="607.20" y="102.70" font-size="8.15" text-anchor="start" fill="#000">&#945;PD-L1 + V-9302</text>
<line x1="584.40" y1="112.00" x2="604.60" y2="112.00" stroke="#a832f0" stroke-width="1.5"/>
<text x="607.20" y="115.40" font-size="8.15" text-anchor="start" fill="#000">&#945;PD-L1 + iMQT_020</text>
<path d="M532.93,207.92 L542.80,206.74 L552.67,196.70 L562.54,189.85 L572.41,177.11 L582.28,161.22 L592.15,150.35 L602.02,143.10" fill="none" stroke="#c9c21e" stroke-width="1.15" stroke-linejoin="round"/>
<path d="M532.93,209.45 L542.80,207.79 L552.67,198.81 L562.54,190.46 L572.41,179.97 L582.28,167.98 L592.15,158.98 L602.02,146.95" fill="none" stroke="#c9c21e" stroke-width="1.15" stroke-linejoin="round"/>
<path d="M532.93,208.34 L542.80,207.85 L552.67,199.43 L562.54,189.51 L572.41,182.47 L582.28,170.29 L592.15,154.47 L602.02,150.80" fill="none" stroke="#c9c21e" stroke-width="1.15" stroke-linejoin="round"/>
<path d="M532.93,208.57 L542.80,207.93 L552.67,199.98 L562.54,189.97 L572.41,184.32 L582.28,166.84 L592.15,162.35 L602.02,154.65" fill="none" stroke="#c9c21e" stroke-width="1.15" stroke-linejoin="round"/>
<path d="M532.93,208.60 L542.80,209.12 L552.67,203.84 L562.54,198.61 L572.41,191.33 L582.28,179.25 L592.15,174.03 L602.02,170.05" fill="none" stroke="#c9c21e" stroke-width="1.15" stroke-linejoin="round"/>
<path d="M532.93,208.33 L542.80,206.39 L552.67,197.64 L562.54,183.09 L572.41,177.16 L582.28,154.17 L592.15,151.04 L602.02,137.32" fill="none" stroke="#ff4040" stroke-width="1.15" stroke-linejoin="round"/>
<path d="M532.93,208.25 L542.80,207.30 L552.67,196.40 L562.54,185.27 L572.41,173.88 L582.28,158.18 L592.15,142.53 L602.02,139.25" fill="none" stroke="#ff4040" stroke-width="1.15" stroke-linejoin="round"/>
<path d="M532.93,207.80 L542.80,207.47 L552.67,197.39 L562.54,184.80 L572.41,175.08 L582.28,159.58 L592.15,151.49 L602.02,141.18" fill="none" stroke="#ff4040" stroke-width="1.15" stroke-linejoin="round"/>
<path d="M532.93,207.87 L542.80,207.90 L552.67,197.94 L562.54,187.57 L572.41,181.92 L582.28,165.01 L592.15,156.42 L602.02,146.95" fill="none" stroke="#ff4040" stroke-width="1.15" stroke-linejoin="round"/>
<path d="M532.93,208.66 L542.80,207.76 L552.67,198.01 L562.54,187.93 L572.41,181.81 L582.28,160.99 L592.15,160.73 L602.02,148.88" fill="none" stroke="#ff4040" stroke-width="1.15" stroke-linejoin="round"/>
<path d="M532.93,207.86 L542.80,207.31 L552.67,198.50 L562.54,183.84 L572.41,178.13 L582.28,161.70 L592.15,145.32 L602.02,139.25" fill="none" stroke="#1fc384" stroke-width="1.15" stroke-linejoin="round"/>
<path d="M532.93,209.04 L542.80,206.95 L552.67,199.01 L562.54,186.28 L572.41,179.93 L582.28,160.85 L592.15,147.25 L602.02,145.03" fill="none" stroke="#1fc384" stroke-width="1.15" stroke-linejoin="round"/>
<path d="M532.93,208.39 L542.80,207.08 L552.67,198.08 L562.54,191.26 L572.41,177.18 L582.28,162.43 L592.15,156.36 L602.02,146.95" fill="none" stroke="#1fc384" stroke-width="1.15" stroke-linejoin="round"/>
<path d="M532.93,209.34 L542.80,207.46 L552.67,199.25 L562.54,188.62 L572.41,179.91 L582.28,161.94 L592.15,156.85 L602.02,150.80" fill="none" stroke="#1fc384" stroke-width="1.15" stroke-linejoin="round"/>
<path d="M532.93,208.36 L542.80,207.82 L552.67,200.47 L562.54,189.28 L572.41,183.68 L582.28,165.13 L592.15,154.46 L602.02,152.73" fill="none" stroke="#1fc384" stroke-width="1.15" stroke-linejoin="round"/>
<path d="M532.93,208.98 L542.80,205.56 L552.67,201.33 L562.54,194.56 L572.41,184.33 L582.28,178.62 L592.15,177.62 L602.02,167.36" fill="none" stroke="#1e2ee0" stroke-width="1.15" stroke-linejoin="round"/>
<path d="M532.93,207.87 L542.80,206.76 L552.67,203.04 L562.54,194.88 L572.41,187.40 L582.28,183.81 L592.15,175.06 L602.02,170.05" fill="none" stroke="#1e2ee0" stroke-width="1.15" stroke-linejoin="round"/>
<path d="M532.93,208.10 L542.80,206.73 L552.67,202.55 L562.54,195.00 L572.41,187.43 L582.28,184.77 L592.15,179.01 L602.02,171.98" fill="none" stroke="#1e2ee0" stroke-width="1.15" stroke-linejoin="round"/>
<path d="M532.93,208.80 L542.80,207.44 L552.67,202.71 L562.54,195.79 L572.41,191.86 L582.28,183.83 L592.15,180.24 L602.02,173.90" fill="none" stroke="#1e2ee0" stroke-width="1.15" stroke-linejoin="round"/>
<path d="M532.93,209.34 L542.80,207.63 L552.67,204.05 L562.54,198.36 L572.41,190.92 L582.28,185.62 L592.15,183.63 L602.02,175.82" fill="none" stroke="#1e2ee0" stroke-width="1.15" stroke-linejoin="round"/>
<path d="M532.93,208.27 L542.80,207.33 L552.67,204.07 L562.54,195.90 L572.41,192.05 L582.28,182.74 L592.15,177.94 L602.02,173.90" fill="none" stroke="#a832f0" stroke-width="1.15" stroke-linejoin="round"/>
<path d="M532.93,209.62 L542.80,207.09 L552.67,203.98 L562.54,196.62 L572.41,189.26 L582.28,183.10 L592.15,181.88 L602.02,175.82" fill="none" stroke="#a832f0" stroke-width="1.15" stroke-linejoin="round"/>
<path d="M532.93,208.08 L542.80,207.27 L552.67,203.68 L562.54,199.22 L572.41,190.54 L582.28,188.51 L592.15,185.13 L602.02,177.75" fill="none" stroke="#a832f0" stroke-width="1.15" stroke-linejoin="round"/>
<path d="M532.93,208.55 L542.80,207.34 L552.67,203.90 L562.54,198.56 L572.41,191.46 L582.28,189.99 L592.15,180.90 L602.02,178.52" fill="none" stroke="#a832f0" stroke-width="1.15" stroke-linejoin="round"/>
<path d="M532.93,209.14 L542.80,207.78 L552.67,205.44 L562.54,199.91 L572.41,195.29 L582.28,188.03 L592.15,184.24 L602.02,179.68" fill="none" stroke="#a832f0" stroke-width="1.15" stroke-linejoin="round"/>
<path d="M532.93,209.39 L542.80,206.56 L552.67,196.21 L562.54,185.86 L572.41,176.99 L582.28,152.80 L592.15,141.47 L602.02,137.32" fill="none" stroke="#8a8a8a" stroke-width="1.15" stroke-linejoin="round"/>
<path d="M532.93,208.72 L542.80,206.91 L552.67,197.85 L562.54,189.01 L572.41,176.77 L582.28,156.60 L592.15,152.90 L602.02,139.25" fill="none" stroke="#8a8a8a" stroke-width="1.15" stroke-linejoin="round"/>
<path d="M532.93,208.18 L542.80,207.48 L552.67,198.63 L562.54,190.05 L572.41,174.30 L582.28,157.94 L592.15,146.10 L602.02,143.10" fill="none" stroke="#8a8a8a" stroke-width="1.15" stroke-linejoin="round"/>
<path d="M532.93,208.52 L542.80,208.21 L552.67,199.91 L562.54,190.54 L572.41,183.97 L582.28,162.02 L592.15,159.02 L602.02,150.80" fill="none" stroke="#8a8a8a" stroke-width="1.15" stroke-linejoin="round"/>
<path d="M532.93,209.41 L542.80,207.64 L552.67,200.81 L562.54,189.40 L572.41,182.84 L582.28,167.18 L592.15,160.96 L602.02,152.73" fill="none" stroke="#8a8a8a" stroke-width="1.15" stroke-linejoin="round"/>
<line x1="509.90" y1="96.00" x2="509.90" y2="213.40" stroke="#000" stroke-width="2.2"/>
<line x1="504.30" y1="212.40" x2="626.10" y2="212.40" stroke="#000" stroke-width="2.2"/>
<line x1="504.30" y1="212.40" x2="509.90" y2="212.40" stroke="#000" stroke-width="1.9"/>
<text x="501.50" y="214.80" font-size="6.5" text-anchor="end" fill="#222" textLength="3.72" lengthAdjust="spacingAndGlyphs">0</text>
<line x1="504.30" y1="173.90" x2="509.90" y2="173.90" stroke="#000" stroke-width="1.9"/>
<text x="501.50" y="176.30" font-size="6.5" text-anchor="end" fill="#222" textLength="14.88" lengthAdjust="spacingAndGlyphs">1000</text>
<line x1="504.30" y1="135.40" x2="509.90" y2="135.40" stroke="#000" stroke-width="1.9"/>
<text x="501.50" y="137.80" font-size="6.5" text-anchor="end" fill="#222" textLength="14.88" lengthAdjust="spacingAndGlyphs">2000</text>
<line x1="504.30" y1="96.90" x2="509.90" y2="96.90" stroke="#000" stroke-width="1.9"/>
<text x="501.50" y="99.30" font-size="6.5" text-anchor="end" fill="#222" textLength="14.88" lengthAdjust="spacingAndGlyphs">3000</text>
<line x1="509.90" y1="212.40" x2="509.90" y2="219.20" stroke="#000" stroke-width="1.9"/>
<text x="509.90" y="227.60" font-size="6.5" text-anchor="middle" fill="#222" textLength="3.72" lengthAdjust="spacingAndGlyphs">0</text>
<line x1="542.80" y1="212.40" x2="542.80" y2="219.20" stroke="#000" stroke-width="1.9"/>
<text x="542.80" y="227.60" font-size="6.5" text-anchor="middle" fill="#222" textLength="7.44" lengthAdjust="spacingAndGlyphs">10</text>
<line x1="575.70" y1="212.40" x2="575.70" y2="219.20" stroke="#000" stroke-width="1.9"/>
<text x="575.70" y="227.60" font-size="6.5" text-anchor="middle" fill="#222" textLength="7.44" lengthAdjust="spacingAndGlyphs">20</text>
<line x1="608.60" y1="212.40" x2="608.60" y2="219.20" stroke="#000" stroke-width="1.9"/>
<text x="608.60" y="227.60" font-size="6.5" text-anchor="middle" fill="#222" textLength="7.44" lengthAdjust="spacingAndGlyphs">30</text>
<text x="564.40" y="238.70" font-size="10.6" font-weight="bold" text-anchor="middle" fill="#000">Days</text>
<text x="481.00" y="152.80" font-size="10.9" font-weight="bold" fill="#000" text-anchor="middle" textLength="111.9" lengthAdjust="spacingAndGlyphs" transform="rotate(-90 481.00 152.80)">Tumor Volume (mm<tspan font-size="7.2" dy="-3.8">3</tspan><tspan dy="3.8">)</tspan></text>
<text x="532.50" y="166.20" font-size="8.3" text-anchor="middle" fill="#222">Treatment</text>
<text x="532.50" y="175.60" font-size="8.3" text-anchor="middle" fill="#222">Start</text>
<line x1="532.93" y1="183.20" x2="532.93" y2="195.00" stroke="#000" stroke-width="1.2"/>
<path d="M529.83,194 L536.03,194 L532.93,201.2 Z" fill="#000"/>
<rect x="49.40" y="278.72" width="3.05" height="85.78" fill="#a9a9a9"/>
<rect x="53.12" y="279.49" width="3.05" height="85.01" fill="#a9a9a9"/>
<rect x="56.84" y="283.34" width="3.05" height="81.16" fill="#a9a9a9"/>
<rect x="60.56" y="291.80" width="3.05" height="72.70" fill="#a9a9a9"/>
<rect x="64.28" y="310.65" width="3.05" height="53.85" fill="#a9a9a9"/>
<rect x="69.15" y="288.34" width="3.05" height="76.16" fill="#1ec07e"/>
<rect x="72.87" y="291.80" width="3.05" height="72.70" fill="#1ec07e"/>
<rect x="76.59" y="296.03" width="3.05" height="68.47" fill="#1ec07e"/>
<rect x="80.31" y="301.41" width="3.05" height="63.09" fill="#1ec07e"/>
<rect x="84.03" y="302.57" width="3.05" height="61.93" fill="#1ec07e"/>
<rect x="88.90" y="272.18" width="3.05" height="92.32" fill="#c8c014"/>
<rect x="92.62" y="279.49" width="3.05" height="85.01" fill="#c8c014"/>
<rect x="96.34" y="281.80" width="3.05" height="82.70" fill="#c8c014"/>
<rect x="100.06" y="284.87" width="3.05" height="79.63" fill="#c8c014"/>
<rect x="103.78" y="288.72" width="3.05" height="75.78" fill="#c8c014"/>
<rect x="108.65" y="289.11" width="3.05" height="75.39" fill="#ff1a1a"/>
<rect x="112.37" y="291.03" width="3.05" height="73.47" fill="#ff1a1a"/>
<rect x="116.09" y="293.72" width="3.05" height="70.78" fill="#ff1a1a"/>
<rect x="119.81" y="296.03" width="3.05" height="68.47" fill="#ff1a1a"/>
<rect x="123.53" y="300.26" width="3.05" height="64.24" fill="#ff1a1a"/>
<rect x="128.40" y="329.50" width="3.05" height="35.00" fill="#0a10c8"/>
<rect x="132.12" y="332.57" width="3.05" height="31.93" fill="#0a10c8"/>
<rect x="135.84" y="335.65" width="3.05" height="28.85" fill="#0a10c8"/>
<rect x="139.56" y="337.57" width="3.05" height="26.93" fill="#0a10c8"/>
<rect x="143.28" y="345.27" width="3.05" height="19.23" fill="#0a10c8"/>
<rect x="148.15" y="326.03" width="3.05" height="38.47" fill="#a51ef0"/>
<rect x="151.87" y="333.34" width="3.05" height="31.16" fill="#a51ef0"/>
<rect x="155.59" y="339.11" width="3.05" height="25.39" fill="#a51ef0"/>
<rect x="159.31" y="340.27" width="3.05" height="24.23" fill="#a51ef0"/>
<rect x="163.03" y="346.04" width="3.05" height="18.46" fill="#a51ef0"/>
<line x1="67.70" y1="282.10" x2="86.80" y2="282.10" stroke="#222" stroke-width="1.3"/>
<text x="77.25" y="275.70" font-size="7.2" text-anchor="middle" fill="#333">ns</text>
<line x1="88.60" y1="269.00" x2="106.20" y2="269.00" stroke="#222" stroke-width="1.3"/>
<text x="97.40" y="262.50" font-size="7.2" text-anchor="middle" fill="#333">ns</text>
<line x1="110.40" y1="285.10" x2="127.80" y2="285.10" stroke="#222" stroke-width="1.3"/>
<text x="119.10" y="278.60" font-size="7.2" text-anchor="middle" fill="#333">ns</text>
<line x1="129.50" y1="327.30" x2="144.70" y2="327.30" stroke="#222" stroke-width="1.3"/>
<text x="137.10" y="324.30" font-size="8.6" font-weight="bold" text-anchor="middle" fill="#222">***</text>
<line x1="150.60" y1="323.10" x2="165.80" y2="323.10" stroke="#222" stroke-width="1.3"/>
<text x="158.20" y="320.30" font-size="8.6" font-weight="bold" text-anchor="middle" fill="#222">***</text>
<line x1="49.70" y1="248.20" x2="49.70" y2="365.50" stroke="#000" stroke-width="2.2"/>
<line x1="44.10" y1="364.50" x2="166.90" y2="364.50" stroke="#000" stroke-width="2.2"/>
<line x1="44.10" y1="364.50" x2="49.70" y2="364.50" stroke="#000" stroke-width="1.9"/>
<text x="41.30" y="366.90" font-size="6.5" text-anchor="end" fill="#222" textLength="3.72" lengthAdjust="spacingAndGlyphs">0</text>
<line x1="44.10" y1="326.03" x2="49.70" y2="326.03" stroke="#000" stroke-width="1.9"/>
<text x="41.30" y="328.43" font-size="6.5" text-anchor="end" fill="#222" textLength="14.88" lengthAdjust="spacingAndGlyphs">1000</text>
<line x1="44.10" y1="287.57" x2="49.70" y2="287.57" stroke="#000" stroke-width="1.9"/>
<text x="41.30" y="289.97" font-size="6.5" text-anchor="end" fill="#222" textLength="14.88" lengthAdjust="spacingAndGlyphs">2000</text>
<line x1="44.10" y1="249.10" x2="49.70" y2="249.10" stroke="#000" stroke-width="1.9"/>
<text x="41.30" y="251.50" font-size="6.5" text-anchor="end" fill="#222" textLength="14.88" lengthAdjust="spacingAndGlyphs">3000</text>
<text x="20.60" y="310.30" font-size="10.9" font-weight="bold" fill="#000" text-anchor="middle" textLength="99.8" lengthAdjust="spacingAndGlyphs" transform="rotate(-90 20.60 310.30)">Tumor Weight (mg)</text>
<rect x="278.10" y="272.76" width="3.05" height="91.74" fill="#a9a9a9"/>
<rect x="281.82" y="280.83" width="3.05" height="83.67" fill="#a9a9a9"/>
<rect x="285.54" y="282.57" width="3.05" height="81.93" fill="#a9a9a9"/>
<rect x="289.26" y="284.30" width="3.05" height="80.20" fill="#a9a9a9"/>
<rect x="292.98" y="302.76" width="3.05" height="61.74" fill="#a9a9a9"/>
<rect x="297.85" y="281.41" width="3.05" height="83.09" fill="#1ec07e"/>
<rect x="301.57" y="284.30" width="3.05" height="80.20" fill="#1ec07e"/>
<rect x="305.29" y="288.91" width="3.05" height="75.59" fill="#1ec07e"/>
<rect x="309.01" y="295.84" width="3.05" height="68.66" fill="#1ec07e"/>
<rect x="312.73" y="296.99" width="3.05" height="67.51" fill="#1ec07e"/>
<rect x="317.60" y="261.79" width="3.05" height="102.71" fill="#c8c014"/>
<rect x="321.32" y="271.60" width="3.05" height="92.90" fill="#c8c014"/>
<rect x="325.04" y="295.84" width="3.05" height="68.66" fill="#c8c014"/>
<rect x="328.76" y="294.11" width="3.05" height="70.39" fill="#c8c014"/>
<rect x="332.48" y="298.72" width="3.05" height="65.78" fill="#c8c014"/>
<rect x="337.35" y="267.56" width="3.05" height="96.94" fill="#ff1a1a"/>
<rect x="341.07" y="267.56" width="3.05" height="96.94" fill="#ff1a1a"/>
<rect x="344.79" y="279.10" width="3.05" height="85.40" fill="#ff1a1a"/>
<rect x="348.51" y="286.03" width="3.05" height="78.47" fill="#ff1a1a"/>
<rect x="352.23" y="291.22" width="3.05" height="73.28" fill="#ff1a1a"/>
<rect x="357.10" y="314.88" width="3.05" height="49.62" fill="#0a10c8"/>
<rect x="360.82" y="330.46" width="3.05" height="34.04" fill="#0a10c8"/>
<rect x="364.54" y="331.03" width="3.05" height="33.47" fill="#0a10c8"/>
<rect x="368.26" y="331.32" width="3.05" height="33.18" fill="#0a10c8"/>
<rect x="371.98" y="342.57" width="3.05" height="21.93" fill="#0a10c8"/>
<rect x="376.85" y="324.69" width="3.05" height="39.81" fill="#a51ef0"/>
<rect x="380.57" y="330.46" width="3.05" height="34.04" fill="#a51ef0"/>
<rect x="384.29" y="333.92" width="3.05" height="30.58" fill="#a51ef0"/>
<rect x="388.01" y="335.07" width="3.05" height="29.43" fill="#a51ef0"/>
<rect x="391.73" y="343.73" width="3.05" height="20.77" fill="#a51ef0"/>
<line x1="297.00" y1="276.70" x2="316.00" y2="276.70" stroke="#222" stroke-width="1.3"/>
<text x="306.50" y="270.00" font-size="7.2" text-anchor="middle" fill="#333">ns</text>
<line x1="318.00" y1="258.60" x2="336.00" y2="258.60" stroke="#222" stroke-width="1.3"/>
<text x="327.00" y="252.10" font-size="7.2" text-anchor="middle" fill="#333">ns</text>
<line x1="339.90" y1="264.00" x2="357.30" y2="264.00" stroke="#222" stroke-width="1.3"/>
<text x="348.60" y="257.10" font-size="7.2" text-anchor="middle" fill="#333">ns</text>
<line x1="359.00" y1="312.70" x2="373.90" y2="312.70" stroke="#222" stroke-width="1.3"/>
<text x="366.45" y="309.90" font-size="8.6" font-weight="bold" text-anchor="middle" fill="#222">***</text>
<line x1="380.00" y1="321.80" x2="395.50" y2="321.80" stroke="#222" stroke-width="1.3"/>
<text x="387.75" y="319.10" font-size="8.6" font-weight="bold" text-anchor="middle" fill="#222">****</text>
<line x1="278.40" y1="248.20" x2="278.40" y2="365.50" stroke="#000" stroke-width="2.2"/>
<line x1="272.80" y1="364.50" x2="395.60" y2="364.50" stroke="#000" stroke-width="2.2"/>
<line x1="272.80" y1="364.50" x2="278.40" y2="364.50" stroke="#000" stroke-width="1.9"/>
<text x="270.00" y="366.90" font-size="6.5" text-anchor="end" fill="#222" textLength="3.72" lengthAdjust="spacingAndGlyphs">0</text>
<line x1="272.80" y1="335.65" x2="278.40" y2="335.65" stroke="#000" stroke-width="1.9"/>
<text x="270.00" y="338.05" font-size="6.5" text-anchor="end" fill="#222" textLength="11.16" lengthAdjust="spacingAndGlyphs">500</text>
<line x1="272.80" y1="306.80" x2="278.40" y2="306.80" stroke="#000" stroke-width="1.9"/>
<text x="270.00" y="309.20" font-size="6.5" text-anchor="end" fill="#222" textLength="14.88" lengthAdjust="spacingAndGlyphs">1000</text>
<line x1="272.80" y1="277.95" x2="278.40" y2="277.95" stroke="#000" stroke-width="1.9"/>
<text x="270.00" y="280.35" font-size="6.5" text-anchor="end" fill="#222" textLength="14.88" lengthAdjust="spacingAndGlyphs">1500</text>
<line x1="272.80" y1="249.10" x2="278.40" y2="249.10" stroke="#000" stroke-width="1.9"/>
<text x="270.00" y="251.50" font-size="6.5" text-anchor="end" fill="#222" textLength="14.88" lengthAdjust="spacingAndGlyphs">2000</text>
<text x="249.30" y="310.30" font-size="10.9" font-weight="bold" fill="#000" text-anchor="middle" textLength="99.8" lengthAdjust="spacingAndGlyphs" transform="rotate(-90 249.30 310.30)">Tumor Weight (mg)</text>
<rect x="509.40" y="262.23" width="3.05" height="103.27" fill="#a9a9a9"/>
<rect x="513.12" y="262.23" width="3.05" height="103.27" fill="#a9a9a9"/>
<rect x="516.84" y="279.19" width="3.05" height="86.31" fill="#a9a9a9"/>
<rect x="520.56" y="288.82" width="3.05" height="76.68" fill="#a9a9a9"/>
<rect x="524.28" y="295.37" width="3.05" height="70.13" fill="#a9a9a9"/>
<rect x="529.15" y="273.02" width="3.05" height="92.48" fill="#1ec07e"/>
<rect x="532.87" y="283.04" width="3.05" height="82.46" fill="#1ec07e"/>
<rect x="536.59" y="288.05" width="3.05" height="77.45" fill="#1ec07e"/>
<rect x="540.31" y="293.83" width="3.05" height="71.67" fill="#1ec07e"/>
<rect x="544.03" y="295.37" width="3.05" height="70.13" fill="#1ec07e"/>
<rect x="548.90" y="263.77" width="3.05" height="101.73" fill="#c8c014"/>
<rect x="552.62" y="279.96" width="3.05" height="85.54" fill="#c8c014"/>
<rect x="556.34" y="283.81" width="3.05" height="81.69" fill="#c8c014"/>
<rect x="560.06" y="284.97" width="3.05" height="80.53" fill="#c8c014"/>
<rect x="563.78" y="289.97" width="3.05" height="75.53" fill="#c8c014"/>
<rect x="568.65" y="261.85" width="3.05" height="103.65" fill="#ff1a1a"/>
<rect x="572.37" y="265.70" width="3.05" height="99.80" fill="#ff1a1a"/>
<rect x="576.09" y="298.84" width="3.05" height="66.66" fill="#ff1a1a"/>
<rect x="579.81" y="298.45" width="3.05" height="67.05" fill="#ff1a1a"/>
<rect x="583.53" y="302.31" width="3.05" height="63.19" fill="#ff1a1a"/>
<rect x="588.40" y="316.56" width="3.05" height="48.94" fill="#0a10c8"/>
<rect x="592.12" y="321.57" width="3.05" height="43.93" fill="#0a10c8"/>
<rect x="595.84" y="322.73" width="3.05" height="42.77" fill="#0a10c8"/>
<rect x="599.56" y="322.73" width="3.05" height="42.77" fill="#0a10c8"/>
<rect x="603.28" y="335.06" width="3.05" height="30.44" fill="#0a10c8"/>
<rect x="608.15" y="311.94" width="3.05" height="53.56" fill="#a51ef0"/>
<rect x="611.87" y="327.74" width="3.05" height="37.76" fill="#a51ef0"/>
<rect x="615.59" y="330.82" width="3.05" height="34.68" fill="#a51ef0"/>
<rect x="619.31" y="331.98" width="3.05" height="33.52" fill="#a51ef0"/>
<rect x="623.03" y="338.91" width="3.05" height="26.59" fill="#a51ef0"/>
<line x1="528.70" y1="270.20" x2="547.30" y2="270.20" stroke="#222" stroke-width="1.3"/>
<text x="538.00" y="264.00" font-size="7.2" text-anchor="middle" fill="#333">ns</text>
<line x1="549.30" y1="261.60" x2="566.60" y2="261.60" stroke="#222" stroke-width="1.3"/>
<text x="557.95" y="255.10" font-size="7.2" text-anchor="middle" fill="#333">ns</text>
<line x1="571.60" y1="258.10" x2="588.50" y2="258.10" stroke="#222" stroke-width="1.3"/>
<text x="580.05" y="251.60" font-size="7.2" text-anchor="middle" fill="#333">ns</text>
<line x1="590.20" y1="313.90" x2="605.80" y2="313.90" stroke="#222" stroke-width="1.3"/>
<text x="598.00" y="311.20" font-size="8.6" font-weight="bold" text-anchor="middle" fill="#222">**</text>
<line x1="611.10" y1="309.20" x2="626.90" y2="309.20" stroke="#222" stroke-width="1.3"/>
<text x="619.00" y="306.10" font-size="8.6" font-weight="bold" text-anchor="middle" fill="#222">**</text>
<line x1="509.70" y1="249.00" x2="509.70" y2="366.50" stroke="#000" stroke-width="2.2"/>
<line x1="504.10" y1="365.50" x2="626.90" y2="365.50" stroke="#000" stroke-width="2.2"/>
<line x1="504.10" y1="365.50" x2="509.70" y2="365.50" stroke="#000" stroke-width="1.9"/>
<text x="501.30" y="367.90" font-size="6.5" text-anchor="end" fill="#222" textLength="3.72" lengthAdjust="spacingAndGlyphs">0</text>
<line x1="504.10" y1="326.97" x2="509.70" y2="326.97" stroke="#000" stroke-width="1.9"/>
<text x="501.30" y="329.37" font-size="6.5" text-anchor="end" fill="#222" textLength="14.88" lengthAdjust="spacingAndGlyphs">1000</text>
<line x1="504.10" y1="288.43" x2="509.70" y2="288.43" stroke="#000" stroke-width="1.9"/>
<text x="501.30" y="290.83" font-size="6.5" text-anchor="end" fill="#222" textLength="14.88" lengthAdjust="spacingAndGlyphs">2000</text>
<line x1="504.10" y1="249.90" x2="509.70" y2="249.90" stroke="#000" stroke-width="1.9"/>
<text x="501.30" y="252.30" font-size="6.5" text-anchor="end" fill="#222" textLength="14.88" lengthAdjust="spacingAndGlyphs">3000</text>
<text x="480.60" y="310.30" font-size="10.9" font-weight="bold" fill="#000" text-anchor="middle" textLength="99.8" lengthAdjust="spacingAndGlyphs" transform="rotate(-90 480.60 310.30)">Tumor Weight (mg)</text>
<rect x="33.35" y="427.75" width="39.2" height="39.3" filter="url(#ki0)"/>
<rect x="33.35" y="427.75" width="39.20" height="39.30" fill="none" stroke="#1a1a1a" stroke-width="1.3"/>
<rect x="77.85" y="427.75" width="39.2" height="39.3" filter="url(#ki1)"/>
<rect x="77.85" y="427.75" width="39.20" height="39.30" fill="none" stroke="#1a1a1a" stroke-width="1.3"/>
<rect x="122.35" y="427.75" width="39.2" height="39.3" filter="url(#ki2)"/>
<rect x="122.35" y="427.75" width="39.20" height="39.30" fill="none" stroke="#1a1a1a" stroke-width="1.3"/>
<rect x="166.85" y="427.75" width="39.2" height="39.3" filter="url(#ki3)"/>
<rect x="166.85" y="427.75" width="39.20" height="39.30" fill="none" stroke="#1a1a1a" stroke-width="1.3"/>
<rect x="211.35" y="427.75" width="39.2" height="39.3" filter="url(#ki4)"/>
<rect x="211.35" y="427.75" width="39.20" height="39.30" fill="none" stroke="#1a1a1a" stroke-width="1.3"/>
<rect x="255.85" y="427.75" width="39.2" height="39.3" filter="url(#ki5)"/>
<rect x="255.85" y="427.75" width="39.20" height="39.30" fill="none" stroke="#1a1a1a" stroke-width="1.3"/>
<g clip-path="url(#cc0c)">
<rect x="33.35" y="484.85" width="39.20" height="39.30" fill="#f5f8fc"/>
<rect x="33.35" y="484.85" width="39.2" height="39.3" filter="url(#ccbg)" opacity="0.9"/>
<g filter="url(#bl)">
<circle cx="49.38" cy="493.31" r="0.55" fill="#c08060" opacity="0.73"/>
<circle cx="37.57" cy="513.04" r="0.66" fill="#c08060" opacity="0.93"/>
</g></g>
<rect x="33.35" y="484.85" width="39.20" height="39.30" fill="none" stroke="#1a1a1a" stroke-width="1.3"/>
<g clip-path="url(#cc1c)">
<rect x="77.85" y="484.85" width="39.20" height="39.30" fill="#f4f6fa"/>
<rect x="77.85" y="484.85" width="39.2" height="39.3" filter="url(#ccbg)" opacity="0.9"/>
<g filter="url(#bl)">
<circle cx="97.05" cy="501.58" r="1.51" fill="#6a2a18" opacity="0.90"/>
<circle cx="108.18" cy="516.52" r="1.76" fill="#6a2a18" opacity="0.74"/>
<circle cx="103.42" cy="517.55" r="1.24" fill="#5a2018" opacity="0.82"/>
<circle cx="93.83" cy="495.90" r="0.91" fill="#6a2a18" opacity="0.79"/>
<circle cx="113.56" cy="488.86" r="1.42" fill="#6a2a18" opacity="0.85"/>
<circle cx="115.18" cy="499.19" r="1.12" fill="#6a2a18" opacity="0.89"/>
<circle cx="95.28" cy="520.35" r="1.08" fill="#6a2a18" opacity="0.71"/>
<circle cx="79.72" cy="503.52" r="1.72" fill="#5a2018" opacity="0.93"/>
<circle cx="102.36" cy="491.18" r="1.52" fill="#6a2020" opacity="0.78"/>
<circle cx="98.32" cy="493.34" r="1.69" fill="#5a2018" opacity="0.86"/>
<circle cx="95.33" cy="506.20" r="1.73" fill="#6a2a18" opacity="0.79"/>
<circle cx="104.70" cy="520.25" r="1.03" fill="#6a2a18" opacity="0.85"/>
<circle cx="94.04" cy="489.45" r="0.46" fill="#b07048" opacity="0.95"/>
<circle cx="94.10" cy="520.32" r="0.75" fill="#c08058" opacity="0.89"/>
<circle cx="108.53" cy="517.41" r="0.45" fill="#c08058" opacity="0.75"/>
<circle cx="81.54" cy="496.58" r="0.63" fill="#b07048" opacity="0.78"/>
<circle cx="92.87" cy="498.41" r="0.72" fill="#c08058" opacity="0.80"/>
<circle cx="92.65" cy="489.31" r="0.75" fill="#c08058" opacity="0.88"/>
<circle cx="93.68" cy="502.41" r="0.52" fill="#b07048" opacity="0.86"/>
<circle cx="90.41" cy="518.46" r="0.69" fill="#b07048" opacity="0.89"/>
<circle cx="105.32" cy="512.39" r="0.55" fill="#c08058" opacity="0.89"/>
<circle cx="81.83" cy="502.18" r="0.79" fill="#c08058" opacity="0.72"/>
</g></g>
<rect x="77.85" y="484.85" width="39.20" height="39.30" fill="none" stroke="#1a1a1a" stroke-width="1.3"/>
<g clip-path="url(#cc2c)">
<rect x="122.35" y="484.85" width="39.20" height="39.30" fill="#f0f2f6"/>
<rect x="122.35" y="484.85" width="39.2" height="39.3" filter="url(#ccbg)" opacity="0.9"/>
<g filter="url(#bl)">
<circle cx="134.21" cy="510.80" r="2.69" fill="#b8784a" opacity="0.30"/>
<circle cx="134.25" cy="511.39" r="1.42" fill="#8c4428" opacity="0.81"/>
<circle cx="133.63" cy="521.77" r="3.94" fill="#b8784a" opacity="0.30"/>
<circle cx="134.17" cy="521.96" r="2.07" fill="#9a5a38" opacity="0.92"/>
<circle cx="146.10" cy="512.03" r="2.38" fill="#b8784a" opacity="0.30"/>
<circle cx="146.36" cy="512.51" r="1.25" fill="#6a2a1a" opacity="0.87"/>
<circle cx="149.44" cy="521.31" r="2.38" fill="#b8784a" opacity="0.30"/>
<circle cx="149.18" cy="521.83" r="1.25" fill="#8c4428" opacity="0.86"/>
<circle cx="151.57" cy="517.91" r="2.47" fill="#b8784a" opacity="0.30"/>
<circle cx="150.99" cy="518.16" r="1.30" fill="#6a3030" opacity="0.70"/>
<circle cx="142.73" cy="494.17" r="3.19" fill="#b8784a" opacity="0.30"/>
<circle cx="142.01" cy="493.40" r="1.68" fill="#7a3420" opacity="0.83"/>
<circle cx="153.89" cy="520.52" r="2.55" fill="#b8784a" opacity="0.30"/>
<circle cx="153.33" cy="520.65" r="1.34" fill="#9a5a38" opacity="0.83"/>
<circle cx="146.84" cy="508.93" r="3.79" fill="#b8784a" opacity="0.30"/>
<circle cx="146.41" cy="509.41" r="1.99" fill="#6a2a1a" opacity="0.95"/>
<circle cx="152.64" cy="488.35" r="1.98" fill="#b8784a" opacity="0.30"/>
<circle cx="153.35" cy="488.67" r="1.04" fill="#9a5a38" opacity="0.86"/>
<circle cx="149.16" cy="507.88" r="2.38" fill="#b8784a" opacity="0.30"/>
<circle cx="149.80" cy="507.29" r="1.25" fill="#6a3030" opacity="0.80"/>
<circle cx="129.17" cy="502.95" r="2.22" fill="#b8784a" opacity="0.30"/>
<circle cx="129.76" cy="503.04" r="1.17" fill="#6a3030" opacity="0.80"/>
<circle cx="158.49" cy="492.64" r="2.52" fill="#b8784a" opacity="0.30"/>
<circle cx="158.85" cy="492.52" r="1.33" fill="#6a3030" opacity="0.75"/>
<circle cx="157.50" cy="523.75" r="3.31" fill="#b8784a" opacity="0.30"/>
<circle cx="157.30" cy="523.08" r="1.74" fill="#7a3420" opacity="0.95"/>
<circle cx="142.51" cy="523.52" r="3.19" fill="#b8784a" opacity="0.30"/>
<circle cx="143.13" cy="523.04" r="1.68" fill="#6a2a1a" opacity="0.78"/>
<circle cx="150.86" cy="507.23" r="3.22" fill="#b8784a" opacity="0.30"/>
<circle cx="150.64" cy="507.10" r="1.69" fill="#6a3030" opacity="0.77"/>
<circle cx="127.69" cy="520.18" r="2.88" fill="#b8784a" opacity="0.30"/>
<circle cx="128.41" cy="520.17" r="1.52" fill="#9a5a38" opacity="0.89"/>
<circle cx="129.12" cy="502.72" r="3.62" fill="#b8784a" opacity="0.30"/>
<circle cx="129.25" cy="502.23" r="1.90" fill="#6a2a1a" opacity="0.82"/>
<circle cx="134.17" cy="510.79" r="2.07" fill="#b8784a" opacity="0.30"/>
<circle cx="133.50" cy="510.35" r="1.09" fill="#7a3420" opacity="0.88"/>
<circle cx="147.91" cy="516.62" r="2.10" fill="#b8784a" opacity="0.30"/>
<circle cx="147.63" cy="516.26" r="1.11" fill="#7a3420" opacity="0.74"/>
<circle cx="126.03" cy="514.76" r="3.50" fill="#b8784a" opacity="0.30"/>
<circle cx="126.57" cy="514.17" r="1.84" fill="#7a3420" opacity="0.85"/>
<circle cx="150.93" cy="508.39" r="2.74" fill="#b8784a" opacity="0.30"/>
<circle cx="151.64" cy="508.64" r="1.44" fill="#6a3030" opacity="0.75"/>
<circle cx="130.78" cy="490.36" r="3.13" fill="#b8784a" opacity="0.30"/>
<circle cx="130.03" cy="490.00" r="1.65" fill="#6a2a1a" opacity="0.76"/>
<circle cx="158.24" cy="515.55" r="3.83" fill="#b8784a" opacity="0.30"/>
<circle cx="157.46" cy="515.44" r="2.02" fill="#9a5a38" opacity="0.92"/>
<circle cx="126.87" cy="516.77" r="4.06" fill="#b8784a" opacity="0.30"/>
<circle cx="126.33" cy="516.33" r="2.14" fill="#8c4428" opacity="0.76"/>
<circle cx="145.99" cy="507.06" r="1.95" fill="#b8784a" opacity="0.30"/>
<circle cx="145.27" cy="507.65" r="1.03" fill="#6a2a1a" opacity="0.92"/>
<circle cx="153.35" cy="496.20" r="2.21" fill="#b8784a" opacity="0.30"/>
<circle cx="153.47" cy="496.88" r="1.16" fill="#8c4428" opacity="0.74"/>
<circle cx="149.27" cy="518.18" r="3.54" fill="#b8784a" opacity="0.30"/>
<circle cx="148.78" cy="517.43" r="1.86" fill="#6a3030" opacity="0.90"/>
<circle cx="145.28" cy="506.87" r="3.61" fill="#b8784a" opacity="0.30"/>
<circle cx="146.05" cy="506.29" r="1.90" fill="#8c4428" opacity="0.88"/>
<circle cx="138.94" cy="512.54" r="0.79" fill="#a06040" opacity="0.83"/>
<circle cx="160.24" cy="493.76" r="0.72" fill="#a06040" opacity="0.91"/>
<circle cx="126.85" cy="486.01" r="0.87" fill="#a06040" opacity="0.73"/>
<circle cx="158.82" cy="509.32" r="0.43" fill="#b87a50" opacity="0.75"/>
<circle cx="151.78" cy="491.40" r="0.87" fill="#a06040" opacity="0.83"/>
<circle cx="158.20" cy="522.28" r="0.44" fill="#a06040" opacity="0.79"/>
<circle cx="128.26" cy="520.05" r="0.45" fill="#a06040" opacity="0.76"/>
<circle cx="144.66" cy="493.62" r="0.83" fill="#b87a50" opacity="0.85"/>
<circle cx="157.06" cy="492.32" r="0.64" fill="#a06040" opacity="0.74"/>
<circle cx="148.89" cy="492.11" r="0.66" fill="#a06040" opacity="0.76"/>
<circle cx="142.86" cy="511.48" r="0.61" fill="#a06040" opacity="0.76"/>
<circle cx="135.40" cy="506.91" r="0.65" fill="#a06040" opacity="0.90"/>
<circle cx="124.45" cy="487.28" r="0.43" fill="#a06040" opacity="0.93"/>
<circle cx="148.02" cy="492.75" r="0.85" fill="#b87a50" opacity="0.70"/>
<circle cx="143.08" cy="493.17" r="0.58" fill="#a06040" opacity="0.79"/>
<circle cx="128.64" cy="497.23" r="0.53" fill="#b87a50" opacity="0.71"/>
<circle cx="159.00" cy="499.09" r="0.47" fill="#a06040" opacity="0.91"/>
<circle cx="137.47" cy="499.23" r="0.56" fill="#b87a50" opacity="0.76"/>
<circle cx="129.06" cy="488.61" r="0.41" fill="#a06040" opacity="0.76"/>
<circle cx="146.44" cy="514.22" r="0.44" fill="#a06040" opacity="0.81"/>
<circle cx="147.81" cy="488.87" r="0.82" fill="#b87a50" opacity="0.82"/>
<circle cx="144.12" cy="499.87" r="0.68" fill="#b87a50" opacity="0.78"/>
<circle cx="136.18" cy="490.20" r="0.67" fill="#a06040" opacity="0.93"/>
<circle cx="131.52" cy="498.01" r="0.45" fill="#b87a50" opacity="0.86"/>
<circle cx="132.39" cy="502.35" r="0.62" fill="#a06040" opacity="0.85"/>
</g></g>
<rect x="122.35" y="484.85" width="39.20" height="39.30" fill="none" stroke="#1a1a1a" stroke-width="1.3"/>
<g clip-path="url(#cc3c)">
<rect x="166.85" y="484.85" width="39.20" height="39.30" fill="#f1eeee"/>
<rect x="166.85" y="484.85" width="39.2" height="39.3" filter="url(#ccbg)" opacity="0.9"/>
<g filter="url(#bl)">
<circle cx="182.13" cy="512.31" r="1.92" fill="#b8784a" opacity="0.30"/>
<circle cx="182.90" cy="512.32" r="1.01" fill="#b87a40" opacity="0.81"/>
<circle cx="199.17" cy="511.85" r="2.58" fill="#b8784a" opacity="0.30"/>
<circle cx="199.59" cy="511.54" r="1.36" fill="#6a2a14" opacity="0.93"/>
<circle cx="186.83" cy="492.61" r="2.72" fill="#b8784a" opacity="0.30"/>
<circle cx="187.18" cy="492.22" r="1.43" fill="#8c4420" opacity="0.95"/>
<circle cx="177.57" cy="486.13" r="2.67" fill="#b8784a" opacity="0.30"/>
<circle cx="177.36" cy="485.55" r="1.41" fill="#7a3418" opacity="0.81"/>
<circle cx="194.88" cy="505.30" r="1.74" fill="#b8784a" opacity="0.30"/>
<circle cx="195.48" cy="505.59" r="0.92" fill="#7a3418" opacity="0.87"/>
<circle cx="206.54" cy="484.96" r="2.44" fill="#b8784a" opacity="0.30"/>
<circle cx="205.84" cy="485.30" r="1.29" fill="#7a3418" opacity="0.90"/>
<circle cx="195.72" cy="520.71" r="2.92" fill="#b8784a" opacity="0.30"/>
<circle cx="196.35" cy="520.16" r="1.54" fill="#9a5428" opacity="0.80"/>
<circle cx="177.31" cy="495.14" r="2.61" fill="#b8784a" opacity="0.30"/>
<circle cx="177.71" cy="494.36" r="1.37" fill="#7a3418" opacity="0.89"/>
<circle cx="196.82" cy="486.05" r="2.74" fill="#b8784a" opacity="0.30"/>
<circle cx="197.51" cy="486.09" r="1.44" fill="#7a3418" opacity="0.92"/>
<circle cx="193.87" cy="492.23" r="3.41" fill="#b8784a" opacity="0.30"/>
<circle cx="193.43" cy="492.54" r="1.80" fill="#9a5428" opacity="0.76"/>
<circle cx="182.13" cy="491.39" r="2.19" fill="#b8784a" opacity="0.30"/>
<circle cx="182.62" cy="491.37" r="1.15" fill="#a8642e" opacity="0.76"/>
<circle cx="185.72" cy="502.53" r="2.10" fill="#b8784a" opacity="0.30"/>
<circle cx="185.82" cy="503.10" r="1.10" fill="#6a2a14" opacity="0.78"/>
<circle cx="198.54" cy="498.32" r="3.07" fill="#b8784a" opacity="0.30"/>
<circle cx="199.32" cy="498.98" r="1.61" fill="#9a5428" opacity="0.73"/>
<circle cx="174.43" cy="515.11" r="1.86" fill="#b8784a" opacity="0.30"/>
<circle cx="174.84" cy="515.60" r="0.98" fill="#7a3418" opacity="0.88"/>
<circle cx="197.12" cy="490.32" r="2.66" fill="#b8784a" opacity="0.30"/>
<circle cx="196.90" cy="490.98" r="1.40" fill="#6a2a14" opacity="0.78"/>
<circle cx="204.98" cy="492.47" r="2.40" fill="#b8784a" opacity="0.30"/>
<circle cx="204.97" cy="492.56" r="1.26" fill="#8c4420" opacity="0.82"/>
<circle cx="194.35" cy="492.88" r="1.93" fill="#b8784a" opacity="0.30"/>
<circle cx="194.02" cy="492.57" r="1.02" fill="#a8642e" opacity="0.94"/>
<circle cx="203.56" cy="515.11" r="3.10" fill="#b8784a" opacity="0.30"/>
<circle cx="203.35" cy="514.94" r="1.63" fill="#b87a40" opacity="0.82"/>
<circle cx="179.85" cy="497.62" r="2.01" fill="#b8784a" opacity="0.30"/>
<circle cx="179.82" cy="497.14" r="1.06" fill="#8c4420" opacity="0.71"/>
<circle cx="192.96" cy="497.07" r="1.93" fill="#b8784a" opacity="0.30"/>
<circle cx="193.69" cy="497.02" r="1.02" fill="#b87a40" opacity="0.84"/>
<circle cx="201.57" cy="491.27" r="2.27" fill="#b8784a" opacity="0.30"/>
<circle cx="200.84" cy="490.97" r="1.20" fill="#b87a40" opacity="0.84"/>
<circle cx="175.94" cy="516.23" r="2.43" fill="#b8784a" opacity="0.30"/>
<circle cx="175.72" cy="516.97" r="1.28" fill="#b87a40" opacity="0.72"/>
<circle cx="186.75" cy="515.76" r="2.64" fill="#b8784a" opacity="0.30"/>
<circle cx="186.95" cy="515.53" r="1.39" fill="#9a5428" opacity="0.76"/>
<circle cx="202.79" cy="519.87" r="2.31" fill="#b8784a" opacity="0.30"/>
<circle cx="203.49" cy="519.58" r="1.22" fill="#6a2a14" opacity="0.79"/>
<circle cx="184.78" cy="492.89" r="1.92" fill="#b8784a" opacity="0.30"/>
<circle cx="184.52" cy="493.23" r="1.01" fill="#8c4420" opacity="0.80"/>
<circle cx="178.14" cy="509.19" r="3.39" fill="#b8784a" opacity="0.30"/>
<circle cx="178.73" cy="508.44" r="1.78" fill="#b87a40" opacity="0.90"/>
<circle cx="201.19" cy="485.40" r="2.58" fill="#b8784a" opacity="0.30"/>
<circle cx="201.57" cy="485.81" r="1.36" fill="#a8642e" opacity="0.84"/>
<circle cx="183.54" cy="499.96" r="2.37" fill="#b8784a" opacity="0.30"/>
<circle cx="183.00" cy="500.21" r="1.25" fill="#9a5428" opacity="0.76"/>
<circle cx="195.56" cy="503.31" r="2.23" fill="#b8784a" opacity="0.30"/>
<circle cx="195.11" cy="502.53" r="1.17" fill="#7a3418" opacity="0.81"/>
<circle cx="198.93" cy="517.74" r="2.67" fill="#b8784a" opacity="0.30"/>
<circle cx="199.53" cy="517.51" r="1.41" fill="#8c4420" opacity="0.89"/>
<circle cx="191.03" cy="486.65" r="1.74" fill="#b8784a" opacity="0.30"/>
<circle cx="191.49" cy="486.27" r="0.91" fill="#6a2a14" opacity="0.81"/>
<circle cx="195.21" cy="511.35" r="2.56" fill="#b8784a" opacity="0.30"/>
<circle cx="194.86" cy="511.80" r="1.35" fill="#6a2a14" opacity="0.85"/>
<circle cx="178.97" cy="508.08" r="2.03" fill="#b8784a" opacity="0.30"/>
<circle cx="179.57" cy="507.50" r="1.07" fill="#a8642e" opacity="0.81"/>
<circle cx="201.36" cy="485.27" r="3.13" fill="#b8784a" opacity="0.30"/>
<circle cx="200.85" cy="485.59" r="1.65" fill="#b87a40" opacity="0.71"/>
<circle cx="182.92" cy="499.19" r="2.35" fill="#b8784a" opacity="0.30"/>
<circle cx="182.50" cy="498.77" r="1.23" fill="#8c4420" opacity="0.84"/>
<circle cx="197.02" cy="490.26" r="3.28" fill="#b8784a" opacity="0.30"/>
<circle cx="196.56" cy="490.14" r="1.73" fill="#8c4420" opacity="0.83"/>
<circle cx="180.47" cy="499.13" r="2.87" fill="#b8784a" opacity="0.30"/>
<circle cx="180.99" cy="499.53" r="1.51" fill="#6a2a14" opacity="0.80"/>
<circle cx="187.31" cy="519.05" r="3.35" fill="#b8784a" opacity="0.30"/>
<circle cx="187.62" cy="519.85" r="1.76" fill="#7a3418" opacity="0.89"/>
<circle cx="175.92" cy="494.42" r="2.01" fill="#b8784a" opacity="0.30"/>
<circle cx="175.64" cy="493.70" r="1.06" fill="#6a2a14" opacity="0.74"/>
<circle cx="201.48" cy="494.91" r="2.26" fill="#b8784a" opacity="0.30"/>
<circle cx="201.71" cy="495.45" r="1.19" fill="#8c4420" opacity="0.79"/>
<circle cx="174.02" cy="491.66" r="0.82" fill="#a8642e" opacity="0.88"/>
<circle cx="185.76" cy="497.73" r="0.94" fill="#a8642e" opacity="0.84"/>
<circle cx="193.55" cy="487.65" r="0.78" fill="#c08a50" opacity="0.74"/>
<circle cx="203.45" cy="493.76" r="0.58" fill="#b87a40" opacity="0.95"/>
<circle cx="196.61" cy="505.69" r="0.73" fill="#9a5428" opacity="0.88"/>
<circle cx="171.18" cy="522.19" r="1.03" fill="#b87a40" opacity="0.74"/>
<circle cx="176.94" cy="501.05" r="1.17" fill="#a8642e" opacity="0.72"/>
<circle cx="170.06" cy="487.96" r="0.94" fill="#b87a40" opacity="0.75"/>
<circle cx="204.15" cy="502.18" r="0.85" fill="#9a5428" opacity="0.86"/>
<circle cx="204.77" cy="501.84" r="1.11" fill="#b87a40" opacity="0.78"/>
<circle cx="195.26" cy="492.14" r="1.15" fill="#b87a40" opacity="0.84"/>
<circle cx="193.56" cy="490.92" r="0.84" fill="#b87a40" opacity="0.82"/>
<circle cx="184.76" cy="505.20" r="0.92" fill="#a8642e" opacity="0.83"/>
<circle cx="190.72" cy="514.91" r="0.84" fill="#b87a40" opacity="0.75"/>
<circle cx="180.70" cy="486.28" r="0.81" fill="#a8642e" opacity="0.91"/>
<circle cx="194.97" cy="490.56" r="1.05" fill="#c08a50" opacity="0.81"/>
<circle cx="187.98" cy="514.00" r="1.11" fill="#8a4420" opacity="0.73"/>
<circle cx="195.55" cy="490.84" r="0.65" fill="#a8642e" opacity="0.71"/>
<circle cx="194.09" cy="488.09" r="0.53" fill="#9a5428" opacity="0.71"/>
<circle cx="176.02" cy="508.35" r="0.64" fill="#c08a50" opacity="0.89"/>
<circle cx="174.69" cy="495.71" r="0.75" fill="#a8642e" opacity="0.79"/>
<circle cx="201.34" cy="494.95" r="0.51" fill="#b87a40" opacity="0.73"/>
<circle cx="189.49" cy="487.38" r="1.11" fill="#9a5428" opacity="0.90"/>
<circle cx="182.73" cy="515.58" r="1.04" fill="#a8642e" opacity="0.79"/>
<circle cx="194.17" cy="503.41" r="0.96" fill="#b87a40" opacity="0.86"/>
<circle cx="168.39" cy="486.92" r="0.88" fill="#8a4420" opacity="0.78"/>
<circle cx="204.34" cy="486.90" r="0.80" fill="#a8642e" opacity="0.87"/>
<circle cx="202.31" cy="485.98" r="0.76" fill="#a8642e" opacity="0.85"/>
<circle cx="192.93" cy="521.64" r="1.14" fill="#a8642e" opacity="0.80"/>
<circle cx="190.28" cy="494.46" r="0.72" fill="#c08a50" opacity="0.72"/>
<circle cx="192.71" cy="488.54" r="0.56" fill="#9a5428" opacity="0.73"/>
<circle cx="182.31" cy="497.82" r="0.65" fill="#9a5428" opacity="0.71"/>
<circle cx="172.79" cy="495.22" r="0.89" fill="#9a5428" opacity="0.91"/>
<circle cx="168.12" cy="498.58" r="0.63" fill="#a8642e" opacity="0.82"/>
<circle cx="197.36" cy="492.17" r="1.00" fill="#8a4420" opacity="0.86"/>
<circle cx="173.63" cy="497.23" r="0.75" fill="#9a5428" opacity="0.71"/>
<circle cx="178.55" cy="499.05" r="0.68" fill="#a8642e" opacity="0.93"/>
<circle cx="170.17" cy="495.30" r="1.15" fill="#c08a50" opacity="0.72"/>
<circle cx="188.68" cy="485.89" r="0.91" fill="#9a5428" opacity="0.78"/>
<circle cx="182.15" cy="491.06" r="0.93" fill="#9a5428" opacity="0.75"/>
<circle cx="183.78" cy="504.86" r="0.70" fill="#9a5428" opacity="0.81"/>
<circle cx="176.28" cy="513.92" r="0.86" fill="#9a5428" opacity="0.92"/>
<circle cx="203.99" cy="515.13" r="0.64" fill="#c08a50" opacity="0.88"/>
<circle cx="169.27" cy="487.02" r="0.64" fill="#b87a40" opacity="0.70"/>
<circle cx="171.09" cy="486.44" r="0.56" fill="#8a4420" opacity="0.72"/>
<circle cx="168.56" cy="517.94" r="0.69" fill="#a8642e" opacity="0.89"/>
<circle cx="174.33" cy="500.23" r="0.53" fill="#9a5428" opacity="0.82"/>
<circle cx="186.92" cy="497.81" r="0.55" fill="#9a5428" opacity="0.87"/>
<circle cx="192.38" cy="497.31" r="0.53" fill="#9a5428" opacity="0.87"/>
<circle cx="169.51" cy="506.42" r="1.02" fill="#9a5428" opacity="0.85"/>
<circle cx="171.97" cy="517.93" r="0.79" fill="#9a5428" opacity="0.73"/>
<circle cx="173.93" cy="515.81" r="1.05" fill="#9a5428" opacity="0.75"/>
<circle cx="174.22" cy="501.74" r="0.55" fill="#a8642e" opacity="0.72"/>
<circle cx="176.86" cy="516.93" r="1.04" fill="#c08a50" opacity="0.70"/>
<circle cx="190.80" cy="511.15" r="0.82" fill="#a8642e" opacity="0.89"/>
<circle cx="204.00" cy="505.21" r="0.59" fill="#b87a40" opacity="0.83"/>
<circle cx="202.59" cy="513.90" r="1.03" fill="#c08a50" opacity="0.85"/>
<circle cx="171.89" cy="490.89" r="1.11" fill="#8a4420" opacity="0.74"/>
<circle cx="176.61" cy="518.48" r="0.59" fill="#c08a50" opacity="0.80"/>
<circle cx="192.38" cy="515.65" r="0.70" fill="#9a5428" opacity="0.87"/>
</g></g>
<rect x="166.85" y="484.85" width="39.20" height="39.30" fill="none" stroke="#1a1a1a" stroke-width="1.3"/>
<g clip-path="url(#cc4c)">
<rect x="211.35" y="484.85" width="39.20" height="39.30" fill="#d8c2b0"/>
<g filter="url(#bl)">
<rect x="211.35" y="484.85" width="39.2" height="39.3" filter="url(#cc4)"/>
<circle cx="245.02" cy="508.17" r="0.87" fill="#8c4a20" opacity="0.73"/>
<circle cx="240.13" cy="499.32" r="1.75" fill="#7a3a18" opacity="0.73"/>
<circle cx="225.33" cy="517.62" r="1.76" fill="#9a5a28" opacity="0.61"/>
<circle cx="221.37" cy="510.77" r="1.08" fill="#7a3a18" opacity="0.65"/>
<circle cx="216.13" cy="515.93" r="1.50" fill="#8c4a20" opacity="0.64"/>
<circle cx="236.46" cy="502.98" r="1.66" fill="#8c4a20" opacity="0.56"/>
<circle cx="235.50" cy="513.88" r="1.32" fill="#9a5a28" opacity="0.51"/>
<circle cx="225.91" cy="514.60" r="1.18" fill="#8c4a20" opacity="0.69"/>
<circle cx="222.47" cy="489.21" r="1.19" fill="#7a3a18" opacity="0.75"/>
<circle cx="234.88" cy="505.88" r="0.99" fill="#8c4a20" opacity="0.74"/>
<circle cx="216.18" cy="489.75" r="1.68" fill="#9a5a28" opacity="0.70"/>
<circle cx="247.43" cy="500.73" r="1.38" fill="#7a3a18" opacity="0.72"/>
<circle cx="249.35" cy="508.69" r="1.26" fill="#7a3a18" opacity="0.68"/>
<circle cx="221.44" cy="497.93" r="1.49" fill="#8c4a20" opacity="0.69"/>
<circle cx="216.79" cy="491.87" r="1.04" fill="#9a5a28" opacity="0.77"/>
<circle cx="220.12" cy="494.38" r="1.28" fill="#8c4a20" opacity="0.59"/>
<circle cx="226.59" cy="510.81" r="1.64" fill="#7a3a18" opacity="0.52"/>
<circle cx="220.03" cy="489.08" r="1.18" fill="#7a3a18" opacity="0.63"/>
</g></g>
<rect x="211.35" y="484.85" width="39.20" height="39.30" fill="none" stroke="#1a1a1a" stroke-width="1.3"/>
<g clip-path="url(#cc5c)">
<rect x="255.85" y="484.85" width="39.20" height="39.30" fill="#d6b8a2"/>
<g filter="url(#bl)">
<rect x="255.85" y="484.85" width="39.2" height="39.3" filter="url(#cc5)"/>
<circle cx="280.05" cy="493.66" r="1.23" fill="#7a3418" opacity="0.78"/>
<circle cx="259.95" cy="488.41" r="1.13" fill="#7a3418" opacity="0.55"/>
<circle cx="287.62" cy="520.49" r="0.87" fill="#6a2a14" opacity="0.68"/>
<circle cx="274.45" cy="518.06" r="1.59" fill="#7a3418" opacity="0.71"/>
<circle cx="290.23" cy="508.38" r="1.53" fill="#7a3418" opacity="0.55"/>
<circle cx="265.43" cy="501.07" r="1.28" fill="#7a3418" opacity="0.74"/>
<circle cx="269.89" cy="509.01" r="0.85" fill="#7a3418" opacity="0.68"/>
<circle cx="276.72" cy="502.35" r="1.68" fill="#5a2010" opacity="0.52"/>
<circle cx="264.99" cy="489.33" r="1.39" fill="#5a2010" opacity="0.64"/>
<circle cx="257.54" cy="494.24" r="1.05" fill="#5a2010" opacity="0.64"/>
<circle cx="262.08" cy="494.22" r="1.18" fill="#5a2010" opacity="0.73"/>
<circle cx="282.77" cy="507.67" r="1.37" fill="#7a3418" opacity="0.51"/>
<circle cx="264.21" cy="506.58" r="1.71" fill="#5a2010" opacity="0.55"/>
<circle cx="290.18" cy="505.87" r="0.99" fill="#7a3418" opacity="0.54"/>
<circle cx="274.43" cy="503.00" r="1.42" fill="#7a3418" opacity="0.82"/>
<circle cx="281.99" cy="491.72" r="1.80" fill="#6a2a14" opacity="0.79"/>
<circle cx="292.85" cy="504.98" r="1.32" fill="#5a2010" opacity="0.61"/>
<circle cx="287.36" cy="503.13" r="1.65" fill="#5a2010" opacity="0.52"/>
<circle cx="263.77" cy="517.96" r="1.72" fill="#7a3418" opacity="0.61"/>
<circle cx="264.04" cy="495.89" r="1.28" fill="#5a2010" opacity="0.71"/>
<circle cx="271.60" cy="493.37" r="1.67" fill="#7a3418" opacity="0.69"/>
<circle cx="264.91" cy="512.54" r="1.28" fill="#6a2a14" opacity="0.67"/>
<circle cx="260.94" cy="523.12" r="1.40" fill="#5a2010" opacity="0.85"/>
<circle cx="292.92" cy="488.03" r="1.33" fill="#7a3418" opacity="0.58"/>
<circle cx="265.25" cy="519.30" r="1.52" fill="#5a2010" opacity="0.55"/>
</g></g>
<rect x="255.85" y="484.85" width="39.20" height="39.30" fill="none" stroke="#1a1a1a" stroke-width="1.3"/>
<text x="50.00" y="416.40" font-size="10.7" font-weight="bold" transform="rotate(-43 50.00 416.40)">Vehicle</text>
<text x="96.00" y="417.00" font-size="10.7" font-weight="bold" transform="rotate(-43 96.00 417.00)"><tspan font-weight="normal">&#945;</tspan>PD-L1</text>
<text x="136.00" y="415.80" font-size="10.7" font-weight="bold" transform="rotate(-43 136.00 415.80)">V-9302</text>
<text x="181.00" y="416.80" font-size="10.7" font-weight="bold" transform="rotate(-43 181.00 416.80)">iMQT_020</text>
<text x="220.60" y="411.40" font-size="10.7" font-weight="bold" transform="rotate(-43 220.60 411.40)">V-9302</text>
<text x="231.00" y="420.20" font-size="10.7" font-weight="bold" transform="rotate(-43 231.00 420.20)">+ <tspan font-weight="normal">&#945;</tspan>PD-L1</text>
<text x="265.20" y="411.10" font-size="10.7" font-weight="bold" transform="rotate(-43 265.20 411.10)">iMQT_020</text>
<text x="275.40" y="420.20" font-size="10.7" font-weight="bold" transform="rotate(-43 275.40 420.20)">+ <tspan font-weight="normal">&#945;</tspan>PD-L1</text>
<text x="21.30" y="448.30" font-size="10.5" font-weight="bold" fill="#000" text-anchor="middle" textLength="26.5" lengthAdjust="spacingAndGlyphs" transform="rotate(-90 21.30 448.30)">Ki-67</text>
<text x="21.30" y="503.50" font-size="10.5" font-weight="bold" fill="#000" text-anchor="middle" textLength="33.9" lengthAdjust="spacingAndGlyphs" transform="rotate(-90 21.30 503.50)">cCas3</text>
<text x="274.50" y="537.90" font-size="6.4" text-anchor="middle" fill="#111">50&#956;m</text>
<line x1="265.40" y1="541.90" x2="284.40" y2="541.90" stroke="#111" stroke-width="1.6"/>
<line x1="374.30" y1="430.71" x2="374.30" y2="436.42" stroke="#8c8c8c" stroke-width="1.8"/>
<line x1="374.30" y1="453.84" x2="374.30" y2="458.47" stroke="#8c8c8c" stroke-width="1.8"/>
<rect x="368.30" y="436.42" width="12.00" height="17.42" fill="#fff" stroke="#8c8c8c" stroke-width="1.8"/>
<line x1="368.30" y1="446.90" x2="380.30" y2="446.90" stroke="#8c8c8c" stroke-width="1.6"/>
<circle cx="374.30" cy="458.47" r="2.3" fill="#8c8c8c"/>
<circle cx="371.70" cy="455.38" r="2.3" fill="#8c8c8c"/>
<circle cx="376.70" cy="446.90" r="2.3" fill="#8c8c8c"/>
<circle cx="373.10" cy="440.73" r="2.3" fill="#8c8c8c"/>
<circle cx="374.30" cy="430.71" r="2.3" fill="#8c8c8c"/>
<circle cx="369.50" cy="447.74" r="2.2" fill="#8c8c8c"/>
<circle cx="379.10" cy="441.64" r="2.2" fill="#8c8c8c"/>
<line x1="393.75" y1="419.15" x2="393.75" y2="424.54" stroke="#22bb22" stroke-width="1.8"/>
<line x1="393.75" y1="439.50" x2="393.75" y2="441.50" stroke="#22bb22" stroke-width="1.8"/>
<rect x="387.75" y="424.54" width="12.00" height="14.96" fill="#fff" stroke="#22bb22" stroke-width="1.8"/>
<line x1="387.75" y1="434.87" x2="399.75" y2="434.87" stroke="#22bb22" stroke-width="1.6"/>
<circle cx="393.75" cy="441.50" r="2.3" fill="#22bb22"/>
<circle cx="391.15" cy="439.19" r="2.3" fill="#22bb22"/>
<circle cx="396.15" cy="434.57" r="2.3" fill="#22bb22"/>
<circle cx="392.55" cy="429.94" r="2.3" fill="#22bb22"/>
<circle cx="393.75" cy="419.15" r="2.3" fill="#22bb22"/>
<circle cx="388.95" cy="434.27" r="2.2" fill="#22bb22"/>
<circle cx="398.55" cy="429.03" r="2.2" fill="#22bb22"/>
<line x1="413.20" y1="423.00" x2="413.20" y2="427.63" stroke="#c8c014" stroke-width="1.8"/>
<line x1="413.20" y1="441.97" x2="413.20" y2="450.76" stroke="#c8c014" stroke-width="1.8"/>
<rect x="407.20" y="427.63" width="12.00" height="14.34" fill="#fff" stroke="#c8c014" stroke-width="1.8"/>
<line x1="407.20" y1="436.88" x2="419.20" y2="436.88" stroke="#c8c014" stroke-width="1.6"/>
<circle cx="413.20" cy="450.76" r="2.3" fill="#c8c014"/>
<circle cx="410.60" cy="440.73" r="2.3" fill="#c8c014"/>
<circle cx="415.60" cy="436.88" r="2.3" fill="#c8c014"/>
<circle cx="412.00" cy="427.63" r="2.3" fill="#c8c014"/>
<circle cx="413.20" cy="423.00" r="2.3" fill="#c8c014"/>
<circle cx="408.40" cy="436.95" r="2.2" fill="#c8c014"/>
<circle cx="418.00" cy="431.93" r="2.2" fill="#c8c014"/>
<line x1="432.65" y1="413.75" x2="432.65" y2="426.09" stroke="#ff1a1a" stroke-width="1.8"/>
<line x1="432.65" y1="448.75" x2="432.65" y2="460.78" stroke="#ff1a1a" stroke-width="1.8"/>
<rect x="426.65" y="426.09" width="12.00" height="22.67" fill="#fff" stroke="#ff1a1a" stroke-width="1.8"/>
<line x1="426.65" y1="439.19" x2="438.65" y2="439.19" stroke="#ff1a1a" stroke-width="1.6"/>
<circle cx="432.65" cy="460.78" r="2.3" fill="#ff1a1a"/>
<circle cx="430.05" cy="446.13" r="2.3" fill="#ff1a1a"/>
<circle cx="435.05" cy="439.19" r="2.3" fill="#ff1a1a"/>
<circle cx="431.45" cy="431.48" r="2.3" fill="#ff1a1a"/>
<circle cx="432.65" cy="413.75" r="2.3" fill="#ff1a1a"/>
<circle cx="427.85" cy="440.82" r="2.2" fill="#ff1a1a"/>
<circle cx="437.45" cy="432.89" r="2.2" fill="#ff1a1a"/>
<line x1="452.10" y1="466.64" x2="452.10" y2="468.49" stroke="#0a10c8" stroke-width="1.8"/>
<line x1="452.10" y1="472.81" x2="452.10" y2="473.12" stroke="#0a10c8" stroke-width="1.8"/>
<rect x="446.10" y="468.49" width="12.00" height="4.32" fill="#fff" stroke="#0a10c8" stroke-width="1.8"/>
<line x1="446.10" y1="470.80" x2="458.10" y2="470.80" stroke="#0a10c8" stroke-width="1.6"/>
<circle cx="449.10" cy="472.81" r="2.3" fill="#0a10c8"/>
<circle cx="455.10" cy="471.57" r="2.3" fill="#0a10c8"/>
<circle cx="451.10" cy="470.03" r="2.3" fill="#0a10c8"/>
<circle cx="453.10" cy="467.72" r="2.3" fill="#0a10c8"/>
<circle cx="456.10" cy="466.64" r="2.3" fill="#0a10c8"/>
<line x1="471.55" y1="470.80" x2="471.55" y2="471.88" stroke="#a51ef0" stroke-width="1.8"/>
<line x1="471.55" y1="474.35" x2="471.55" y2="474.66" stroke="#a51ef0" stroke-width="1.8"/>
<rect x="465.55" y="471.88" width="12.00" height="2.47" fill="#fff" stroke="#a51ef0" stroke-width="1.8"/>
<line x1="465.55" y1="473.12" x2="477.55" y2="473.12" stroke="#a51ef0" stroke-width="1.6"/>
<circle cx="468.55" cy="474.66" r="2.3" fill="#a51ef0"/>
<circle cx="474.55" cy="473.89" r="2.3" fill="#a51ef0"/>
<circle cx="470.55" cy="473.12" r="2.3" fill="#a51ef0"/>
<circle cx="472.55" cy="471.88" r="2.3" fill="#a51ef0"/>
<circle cx="475.55" cy="470.80" r="2.3" fill="#a51ef0"/>
<line x1="369.30" y1="399.40" x2="471.40" y2="399.40" stroke="#111" stroke-width="1.1"/>
<text x="420.35" y="396.40" font-size="8.6" font-weight="bold" text-anchor="middle" fill="#222">***</text>
<line x1="365.20" y1="398.20" x2="365.20" y2="477.20" stroke="#000" stroke-width="2.2"/>
<line x1="359.60" y1="476.20" x2="481.85" y2="476.20" stroke="#000" stroke-width="2.2"/>
<line x1="359.60" y1="476.20" x2="365.20" y2="476.20" stroke="#000" stroke-width="1.9"/>
<text x="357.20" y="478.50" font-size="6.4" text-anchor="end" fill="#222">0</text>
<line x1="359.60" y1="460.78" x2="365.20" y2="460.78" stroke="#000" stroke-width="1.9"/>
<text x="357.20" y="463.08" font-size="6.4" text-anchor="end" fill="#222">100</text>
<line x1="359.60" y1="445.36" x2="365.20" y2="445.36" stroke="#000" stroke-width="1.9"/>
<text x="357.20" y="447.66" font-size="6.4" text-anchor="end" fill="#222">200</text>
<line x1="359.60" y1="429.94" x2="365.20" y2="429.94" stroke="#000" stroke-width="1.9"/>
<text x="357.20" y="432.24" font-size="6.4" text-anchor="end" fill="#222">300</text>
<line x1="359.60" y1="414.52" x2="365.20" y2="414.52" stroke="#000" stroke-width="1.9"/>
<text x="357.20" y="416.82" font-size="6.4" text-anchor="end" fill="#222">400</text>
<line x1="359.60" y1="399.10" x2="365.20" y2="399.10" stroke="#000" stroke-width="1.9"/>
<text x="357.20" y="401.40" font-size="6.4" text-anchor="end" fill="#222">500</text>
<line x1="374.30" y1="476.20" x2="374.30" y2="482.40" stroke="#000" stroke-width="1.8"/>
<line x1="393.75" y1="476.20" x2="393.75" y2="482.40" stroke="#000" stroke-width="1.8"/>
<line x1="413.20" y1="476.20" x2="413.20" y2="482.40" stroke="#000" stroke-width="1.8"/>
<line x1="432.65" y1="476.20" x2="432.65" y2="482.40" stroke="#000" stroke-width="1.8"/>
<line x1="452.10" y1="476.20" x2="452.10" y2="482.40" stroke="#000" stroke-width="1.8"/>
<line x1="471.55" y1="476.20" x2="471.55" y2="482.40" stroke="#000" stroke-width="1.8"/>
<text x="328.20" y="434.75" font-size="10.7" font-weight="bold" fill="#000" text-anchor="middle" textLength="61.9" lengthAdjust="spacingAndGlyphs" transform="rotate(-90 328.20 434.75)">Ki-67+ Cells</text>
<text x="341.50" y="434.80" font-size="10.7" font-weight="bold" fill="#000" text-anchor="middle" textLength="44.4" lengthAdjust="spacingAndGlyphs" transform="rotate(-90 341.50 434.80)">per Field</text>
<text x="354.60" y="493.60" font-size="10.4" font-weight="bold" text-anchor="end" fill="#000"><tspan font-weight="normal">&#945;</tspan>PD-L1</text>
<line x1="372.60" y1="490.40" x2="376.00" y2="490.40" stroke="#000" stroke-width="1.6"/>
<line x1="390.85" y1="490.40" x2="396.65" y2="490.40" stroke="#000" stroke-width="1.6"/>
<line x1="393.75" y1="487.50" x2="393.75" y2="493.30" stroke="#000" stroke-width="1.6"/>
<line x1="411.50" y1="490.40" x2="414.90" y2="490.40" stroke="#000" stroke-width="1.6"/>
<line x1="430.95" y1="490.40" x2="434.35" y2="490.40" stroke="#000" stroke-width="1.6"/>
<line x1="449.20" y1="490.40" x2="455.00" y2="490.40" stroke="#000" stroke-width="1.6"/>
<line x1="452.10" y1="487.50" x2="452.10" y2="493.30" stroke="#000" stroke-width="1.6"/>
<line x1="468.65" y1="490.40" x2="474.45" y2="490.40" stroke="#000" stroke-width="1.6"/>
<line x1="471.55" y1="487.50" x2="471.55" y2="493.30" stroke="#000" stroke-width="1.6"/>
<text x="354.60" y="509.30" font-size="10.4" font-weight="bold" text-anchor="end" fill="#000">V-9302</text>
<line x1="372.60" y1="506.10" x2="376.00" y2="506.10" stroke="#000" stroke-width="1.6"/>
<line x1="392.05" y1="506.10" x2="395.45" y2="506.10" stroke="#000" stroke-width="1.6"/>
<line x1="410.30" y1="506.10" x2="416.10" y2="506.10" stroke="#000" stroke-width="1.6"/>
<line x1="413.20" y1="503.20" x2="413.20" y2="509.00" stroke="#000" stroke-width="1.6"/>
<line x1="430.95" y1="506.10" x2="434.35" y2="506.10" stroke="#000" stroke-width="1.6"/>
<line x1="449.20" y1="506.10" x2="455.00" y2="506.10" stroke="#000" stroke-width="1.6"/>
<line x1="452.10" y1="503.20" x2="452.10" y2="509.00" stroke="#000" stroke-width="1.6"/>
<line x1="469.85" y1="506.10" x2="473.25" y2="506.10" stroke="#000" stroke-width="1.6"/>
<text x="354.60" y="524.90" font-size="10.4" font-weight="bold" text-anchor="end" fill="#000">iMQT_020</text>
<line x1="372.60" y1="521.70" x2="376.00" y2="521.70" stroke="#000" stroke-width="1.6"/>
<line x1="392.05" y1="521.70" x2="395.45" y2="521.70" stroke="#000" stroke-width="1.6"/>
<line x1="411.50" y1="521.70" x2="414.90" y2="521.70" stroke="#000" stroke-width="1.6"/>
<line x1="429.75" y1="521.70" x2="435.55" y2="521.70" stroke="#000" stroke-width="1.6"/>
<line x1="432.65" y1="518.80" x2="432.65" y2="524.60" stroke="#000" stroke-width="1.6"/>
<line x1="450.40" y1="521.70" x2="453.80" y2="521.70" stroke="#000" stroke-width="1.6"/>
<line x1="468.65" y1="521.70" x2="474.45" y2="521.70" stroke="#000" stroke-width="1.6"/>
<line x1="471.55" y1="518.80" x2="471.55" y2="524.60" stroke="#000" stroke-width="1.6"/>
<line x1="556.00" y1="463.48" x2="556.00" y2="464.63" stroke="#8c8c8c" stroke-width="1.8"/>
<line x1="556.00" y1="469.26" x2="556.00" y2="474.27" stroke="#8c8c8c" stroke-width="1.8"/>
<rect x="550.00" y="464.63" width="12.00" height="4.63" fill="#fff" stroke="#8c8c8c" stroke-width="1.8"/>
<line x1="550.00" y1="466.56" x2="562.00" y2="466.56" stroke="#8c8c8c" stroke-width="1.6"/>
<circle cx="553.00" cy="474.27" r="2.3" fill="#8c8c8c"/>
<circle cx="559.00" cy="469.26" r="2.3" fill="#8c8c8c"/>
<circle cx="555.00" cy="467.72" r="2.3" fill="#8c8c8c"/>
<circle cx="557.00" cy="465.41" r="2.3" fill="#8c8c8c"/>
<circle cx="560.00" cy="463.48" r="2.3" fill="#8c8c8c"/>
<line x1="575.45" y1="436.11" x2="575.45" y2="448.44" stroke="#1ec07e" stroke-width="1.8"/>
<line x1="575.45" y1="466.56" x2="575.45" y2="469.65" stroke="#1ec07e" stroke-width="1.8"/>
<rect x="569.45" y="448.44" width="12.00" height="18.12" fill="#fff" stroke="#1ec07e" stroke-width="1.8"/>
<line x1="569.45" y1="464.63" x2="581.45" y2="464.63" stroke="#1ec07e" stroke-width="1.6"/>
<circle cx="575.45" cy="469.65" r="2.3" fill="#1ec07e"/>
<circle cx="572.85" cy="467.72" r="2.3" fill="#1ec07e"/>
<circle cx="577.85" cy="460.78" r="2.3" fill="#1ec07e"/>
<circle cx="574.25" cy="456.93" r="2.3" fill="#1ec07e"/>
<circle cx="575.45" cy="436.11" r="2.3" fill="#1ec07e"/>
<circle cx="570.65" cy="460.22" r="2.2" fill="#1ec07e"/>
<circle cx="580.25" cy="453.88" r="2.2" fill="#1ec07e"/>
<line x1="594.90" y1="441.89" x2="594.90" y2="445.36" stroke="#c8c014" stroke-width="1.8"/>
<line x1="594.90" y1="451.91" x2="594.90" y2="459.24" stroke="#c8c014" stroke-width="1.8"/>
<rect x="588.90" y="445.36" width="12.00" height="6.55" fill="#fff" stroke="#c8c014" stroke-width="1.8"/>
<line x1="588.90" y1="449.22" x2="600.90" y2="449.22" stroke="#c8c014" stroke-width="1.6"/>
<circle cx="594.90" cy="459.24" r="2.3" fill="#c8c014"/>
<circle cx="592.30" cy="451.14" r="2.3" fill="#c8c014"/>
<circle cx="597.30" cy="449.22" r="2.3" fill="#c8c014"/>
<circle cx="593.70" cy="445.36" r="2.3" fill="#c8c014"/>
<circle cx="594.90" cy="441.89" r="2.3" fill="#c8c014"/>
<circle cx="590.10" cy="449.62" r="2.2" fill="#c8c014"/>
<circle cx="599.70" cy="447.33" r="2.2" fill="#c8c014"/>
<line x1="614.35" y1="456.15" x2="614.35" y2="458.08" stroke="#ff4040" stroke-width="1.8"/>
<line x1="614.35" y1="474.27" x2="614.35" y2="476.20" stroke="#ff4040" stroke-width="1.8"/>
<rect x="608.35" y="458.08" width="12.00" height="16.19" fill="#fff" stroke="#ff4040" stroke-width="1.8"/>
<line x1="608.35" y1="467.33" x2="620.35" y2="467.33" stroke="#ff4040" stroke-width="1.6"/>
<circle cx="614.35" cy="476.20" r="2.3" fill="#ff4040"/>
<circle cx="611.75" cy="473.12" r="2.3" fill="#ff4040"/>
<circle cx="616.75" cy="467.33" r="2.3" fill="#ff4040"/>
<circle cx="613.15" cy="460.78" r="2.3" fill="#ff4040"/>
<circle cx="614.35" cy="456.15" r="2.3" fill="#ff4040"/>
<circle cx="609.55" cy="468.61" r="2.2" fill="#ff4040"/>
<circle cx="619.15" cy="462.94" r="2.2" fill="#ff4040"/>
<line x1="633.80" y1="412.21" x2="633.80" y2="420.30" stroke="#0a10c8" stroke-width="1.8"/>
<line x1="633.80" y1="435.72" x2="633.80" y2="441.12" stroke="#0a10c8" stroke-width="1.8"/>
<rect x="627.80" y="420.30" width="12.00" height="15.42" fill="#fff" stroke="#0a10c8" stroke-width="1.8"/>
<line x1="627.80" y1="426.86" x2="639.80" y2="426.86" stroke="#0a10c8" stroke-width="1.6"/>
<circle cx="633.80" cy="441.12" r="2.3" fill="#0a10c8"/>
<circle cx="631.20" cy="433.80" r="2.3" fill="#0a10c8"/>
<circle cx="636.20" cy="426.86" r="2.3" fill="#0a10c8"/>
<circle cx="632.60" cy="422.23" r="2.3" fill="#0a10c8"/>
<circle cx="633.80" cy="412.21" r="2.3" fill="#0a10c8"/>
<circle cx="629.00" cy="430.33" r="2.2" fill="#0a10c8"/>
<circle cx="638.60" cy="424.93" r="2.2" fill="#0a10c8"/>
<line x1="653.25" y1="402.18" x2="653.25" y2="408.74" stroke="#a51ef0" stroke-width="1.8"/>
<line x1="653.25" y1="439.58" x2="653.25" y2="447.67" stroke="#a51ef0" stroke-width="1.8"/>
<rect x="647.25" y="408.74" width="12.00" height="30.84" fill="#fff" stroke="#a51ef0" stroke-width="1.8"/>
<line x1="647.25" y1="424.93" x2="659.25" y2="424.93" stroke="#a51ef0" stroke-width="1.6"/>
<circle cx="653.25" cy="447.67" r="2.3" fill="#a51ef0"/>
<circle cx="650.65" cy="437.65" r="2.3" fill="#a51ef0"/>
<circle cx="655.65" cy="424.93" r="2.3" fill="#a51ef0"/>
<circle cx="652.05" cy="414.52" r="2.3" fill="#a51ef0"/>
<circle cx="653.25" cy="402.18" r="2.3" fill="#a51ef0"/>
<circle cx="648.45" cy="428.78" r="2.2" fill="#a51ef0"/>
<circle cx="658.05" cy="417.99" r="2.2" fill="#a51ef0"/>
<line x1="553.20" y1="395.80" x2="653.10" y2="395.80" stroke="#111" stroke-width="1.1"/>
<text x="603.15" y="393.10" font-size="8.6" font-weight="bold" text-anchor="middle" fill="#222">***</text>
<line x1="546.90" y1="398.20" x2="546.90" y2="477.20" stroke="#000" stroke-width="2.2"/>
<line x1="541.30" y1="476.20" x2="663.55" y2="476.20" stroke="#000" stroke-width="2.2"/>
<line x1="541.30" y1="476.20" x2="546.90" y2="476.20" stroke="#000" stroke-width="1.9"/>
<text x="538.90" y="478.50" font-size="6.4" text-anchor="end" fill="#222">0</text>
<line x1="541.30" y1="456.93" x2="546.90" y2="456.93" stroke="#000" stroke-width="1.9"/>
<text x="538.90" y="459.23" font-size="6.4" text-anchor="end" fill="#222">50</text>
<line x1="541.30" y1="437.65" x2="546.90" y2="437.65" stroke="#000" stroke-width="1.9"/>
<text x="538.90" y="439.95" font-size="6.4" text-anchor="end" fill="#222">100</text>
<line x1="541.30" y1="418.38" x2="546.90" y2="418.38" stroke="#000" stroke-width="1.9"/>
<text x="538.90" y="420.68" font-size="6.4" text-anchor="end" fill="#222">150</text>
<line x1="541.30" y1="399.10" x2="546.90" y2="399.10" stroke="#000" stroke-width="1.9"/>
<text x="538.90" y="401.40" font-size="6.4" text-anchor="end" fill="#222">200</text>
<line x1="556.00" y1="476.20" x2="556.00" y2="482.40" stroke="#000" stroke-width="1.8"/>
<line x1="575.45" y1="476.20" x2="575.45" y2="482.40" stroke="#000" stroke-width="1.8"/>
<line x1="594.90" y1="476.20" x2="594.90" y2="482.40" stroke="#000" stroke-width="1.8"/>
<line x1="614.35" y1="476.20" x2="614.35" y2="482.40" stroke="#000" stroke-width="1.8"/>
<line x1="633.80" y1="476.20" x2="633.80" y2="482.40" stroke="#000" stroke-width="1.8"/>
<line x1="653.25" y1="476.20" x2="653.25" y2="482.40" stroke="#000" stroke-width="1.8"/>
<text x="512.40" y="434.75" font-size="10.7" font-weight="bold" fill="#000" text-anchor="middle" textLength="67.5" lengthAdjust="spacingAndGlyphs" transform="rotate(-90 512.40 434.75)">cCas3+ &#160;Cells</text>
<text x="524.50" y="434.80" font-size="10.7" font-weight="bold" fill="#000" text-anchor="middle" textLength="44.4" lengthAdjust="spacingAndGlyphs" transform="rotate(-90 524.50 434.80)">per Field</text>
<text x="536.60" y="493.60" font-size="10.4" font-weight="bold" text-anchor="end" fill="#000"><tspan font-weight="normal">&#945;</tspan>PD-L1</text>
<line x1="554.30" y1="490.40" x2="557.70" y2="490.40" stroke="#000" stroke-width="1.6"/>
<line x1="572.55" y1="490.40" x2="578.35" y2="490.40" stroke="#000" stroke-width="1.6"/>
<line x1="575.45" y1="487.50" x2="575.45" y2="493.30" stroke="#000" stroke-width="1.6"/>
<line x1="593.20" y1="490.40" x2="596.60" y2="490.40" stroke="#000" stroke-width="1.6"/>
<line x1="612.65" y1="490.40" x2="616.05" y2="490.40" stroke="#000" stroke-width="1.6"/>
<line x1="630.90" y1="490.40" x2="636.70" y2="490.40" stroke="#000" stroke-width="1.6"/>
<line x1="633.80" y1="487.50" x2="633.80" y2="493.30" stroke="#000" stroke-width="1.6"/>
<line x1="650.35" y1="490.40" x2="656.15" y2="490.40" stroke="#000" stroke-width="1.6"/>
<line x1="653.25" y1="487.50" x2="653.25" y2="493.30" stroke="#000" stroke-width="1.6"/>
<text x="536.60" y="509.30" font-size="10.4" font-weight="bold" text-anchor="end" fill="#000">V-9302</text>
<line x1="554.30" y1="506.10" x2="557.70" y2="506.10" stroke="#000" stroke-width="1.6"/>
<line x1="573.75" y1="506.10" x2="577.15" y2="506.10" stroke="#000" stroke-width="1.6"/>
<line x1="592.00" y1="506.10" x2="597.80" y2="506.10" stroke="#000" stroke-width="1.6"/>
<line x1="594.90" y1="503.20" x2="594.90" y2="509.00" stroke="#000" stroke-width="1.6"/>
<line x1="612.65" y1="506.10" x2="616.05" y2="506.10" stroke="#000" stroke-width="1.6"/>
<line x1="630.90" y1="506.10" x2="636.70" y2="506.10" stroke="#000" stroke-width="1.6"/>
<line x1="633.80" y1="503.20" x2="633.80" y2="509.00" stroke="#000" stroke-width="1.6"/>
<line x1="651.55" y1="506.10" x2="654.95" y2="506.10" stroke="#000" stroke-width="1.6"/>
<text x="536.60" y="524.90" font-size="10.4" font-weight="bold" text-anchor="end" fill="#000">iMQT_020</text>
<line x1="554.30" y1="521.70" x2="557.70" y2="521.70" stroke="#000" stroke-width="1.6"/>
<line x1="573.75" y1="521.70" x2="577.15" y2="521.70" stroke="#000" stroke-width="1.6"/>
<line x1="593.20" y1="521.70" x2="596.60" y2="521.70" stroke="#000" stroke-width="1.6"/>
<line x1="611.45" y1="521.70" x2="617.25" y2="521.70" stroke="#000" stroke-width="1.6"/>
<line x1="614.35" y1="518.80" x2="614.35" y2="524.60" stroke="#000" stroke-width="1.6"/>
<line x1="632.10" y1="521.70" x2="635.50" y2="521.70" stroke="#000" stroke-width="1.6"/>
<line x1="650.35" y1="521.70" x2="656.15" y2="521.70" stroke="#000" stroke-width="1.6"/>
<line x1="653.25" y1="518.80" x2="653.25" y2="524.60" stroke="#000" stroke-width="1.6"/>
<rect x="34.70" y="574.30" width="103.00" height="103.00" fill="none" stroke="#666" stroke-width="1.0"/>
<rect x="40.40" y="579.30" width="40.40" height="60.70" fill="none" stroke="#444" stroke-width="1.0"/>
<text x="60.70" y="612.50" font-size="7.9" text-anchor="middle" fill="#222">12.5</text>
<g transform="rotate(8 57.50 646.70)" fill="none"><ellipse cx="56.50" cy="649.20" rx="2.88" ry="9.24" fill="#555" fill-opacity="0.45" filter="url(#mb)"/><ellipse cx="57.50" cy="646.70" rx="6.40" ry="14.90" stroke="#3a3a3a" stroke-opacity="0.45" stroke-width="0.45"/><ellipse cx="57.39" cy="646.97" rx="5.96" ry="13.89" stroke="#3a3a3a" stroke-opacity="0.48" stroke-width="0.45"/><ellipse cx="57.28" cy="647.24" rx="5.53" ry="12.87" stroke="#3a3a3a" stroke-opacity="0.52" stroke-width="0.45"/><ellipse cx="57.17" cy="647.52" rx="5.09" ry="11.86" stroke="#3a3a3a" stroke-opacity="0.56" stroke-width="0.45"/><ellipse cx="57.06" cy="647.79" rx="4.66" ry="10.85" stroke="#3a3a3a" stroke-opacity="0.59" stroke-width="0.45"/><ellipse cx="56.96" cy="648.06" rx="4.22" ry="9.83" stroke="#3a3a3a" stroke-opacity="0.62" stroke-width="0.45"/><ellipse cx="56.85" cy="648.33" rx="3.79" ry="8.82" stroke="#3a3a3a" stroke-opacity="0.66" stroke-width="0.45"/><ellipse cx="56.74" cy="648.60" rx="3.35" ry="7.81" stroke="#3a3a3a" stroke-opacity="0.70" stroke-width="0.45"/><ellipse cx="56.63" cy="648.88" rx="2.92" ry="6.79" stroke="#3a3a3a" stroke-opacity="0.73" stroke-width="0.45"/><ellipse cx="56.52" cy="649.15" rx="2.48" ry="5.78" stroke="#3a3a3a" stroke-opacity="0.77" stroke-width="0.45"/><ellipse cx="56.41" cy="649.42" rx="2.05" ry="4.77" stroke="#3a3a3a" stroke-opacity="0.80" stroke-width="0.45"/><ellipse cx="56.30" cy="649.69" rx="1.61" ry="3.75" stroke="#3a3a3a" stroke-opacity="0.83" stroke-width="0.45"/><ellipse cx="56.19" cy="649.96" rx="1.18" ry="2.74" stroke="#3a3a3a" stroke-opacity="0.87" stroke-width="0.45"/><ellipse cx="55.90" cy="651.20" rx="0.90" ry="6.71" fill="#222" fill-opacity="0.6"/></g>
<text x="86.20" y="564.70" font-size="9.2" font-weight="bold" text-anchor="middle" fill="#111">Vehicle</text>
<rect x="140.45" y="574.30" width="103.00" height="103.00" fill="none" stroke="#666" stroke-width="1.0"/>
<rect x="146.25" y="579.30" width="40.40" height="60.70" fill="none" stroke="#444" stroke-width="1.0"/>
<text x="166.55" y="612.50" font-size="7.9" text-anchor="middle" fill="#222">21.2</text>
<g transform="rotate(5 162.95 645.20)" fill="none"><ellipse cx="161.95" cy="647.70" rx="2.83" ry="11.16" fill="#555" fill-opacity="0.45" filter="url(#mb)"/><ellipse cx="162.95" cy="645.20" rx="6.30" ry="18.00" stroke="#3a3a3a" stroke-opacity="0.45" stroke-width="0.45"/><ellipse cx="162.84" cy="645.47" rx="5.87" ry="16.78" stroke="#3a3a3a" stroke-opacity="0.48" stroke-width="0.45"/><ellipse cx="162.73" cy="645.74" rx="5.44" ry="15.55" stroke="#3a3a3a" stroke-opacity="0.52" stroke-width="0.45"/><ellipse cx="162.62" cy="646.02" rx="5.01" ry="14.33" stroke="#3a3a3a" stroke-opacity="0.56" stroke-width="0.45"/><ellipse cx="162.51" cy="646.29" rx="4.59" ry="13.10" stroke="#3a3a3a" stroke-opacity="0.59" stroke-width="0.45"/><ellipse cx="162.41" cy="646.56" rx="4.16" ry="11.88" stroke="#3a3a3a" stroke-opacity="0.62" stroke-width="0.45"/><ellipse cx="162.30" cy="646.83" rx="3.73" ry="10.66" stroke="#3a3a3a" stroke-opacity="0.66" stroke-width="0.45"/><ellipse cx="162.19" cy="647.10" rx="3.30" ry="9.43" stroke="#3a3a3a" stroke-opacity="0.70" stroke-width="0.45"/><ellipse cx="162.08" cy="647.38" rx="2.87" ry="8.21" stroke="#3a3a3a" stroke-opacity="0.73" stroke-width="0.45"/><ellipse cx="161.97" cy="647.65" rx="2.44" ry="6.98" stroke="#3a3a3a" stroke-opacity="0.77" stroke-width="0.45"/><ellipse cx="161.86" cy="647.92" rx="2.02" ry="5.76" stroke="#3a3a3a" stroke-opacity="0.80" stroke-width="0.45"/><ellipse cx="161.75" cy="648.19" rx="1.59" ry="4.54" stroke="#3a3a3a" stroke-opacity="0.83" stroke-width="0.45"/><ellipse cx="161.64" cy="648.46" rx="1.16" ry="3.31" stroke="#3a3a3a" stroke-opacity="0.87" stroke-width="0.45"/><ellipse cx="161.35" cy="649.70" rx="0.88" ry="8.10" fill="#222" fill-opacity="0.6"/></g>
<text x="191.95" y="564.70" font-size="9.2" font-weight="bold" text-anchor="middle" fill="#111"><tspan font-weight="normal">&#945;</tspan>PD-L1</text>
<rect x="246.20" y="574.30" width="103.00" height="103.00" fill="none" stroke="#666" stroke-width="1.0"/>
<rect x="252.10" y="579.30" width="40.40" height="60.70" fill="none" stroke="#444" stroke-width="1.0"/>
<text x="272.40" y="612.50" font-size="7.9" text-anchor="middle" fill="#222">14.5</text>
<g transform="rotate(7 269.20 646.30)" fill="none"><ellipse cx="268.20" cy="648.80" rx="2.75" ry="9.49" fill="#555" fill-opacity="0.45" filter="url(#mb)"/><ellipse cx="269.20" cy="646.30" rx="6.10" ry="15.30" stroke="#3a3a3a" stroke-opacity="0.45" stroke-width="0.45"/><ellipse cx="269.09" cy="646.57" rx="5.69" ry="14.26" stroke="#3a3a3a" stroke-opacity="0.48" stroke-width="0.45"/><ellipse cx="268.98" cy="646.84" rx="5.27" ry="13.22" stroke="#3a3a3a" stroke-opacity="0.52" stroke-width="0.45"/><ellipse cx="268.87" cy="647.12" rx="4.86" ry="12.18" stroke="#3a3a3a" stroke-opacity="0.56" stroke-width="0.45"/><ellipse cx="268.76" cy="647.39" rx="4.44" ry="11.14" stroke="#3a3a3a" stroke-opacity="0.59" stroke-width="0.45"/><ellipse cx="268.66" cy="647.66" rx="4.03" ry="10.10" stroke="#3a3a3a" stroke-opacity="0.62" stroke-width="0.45"/><ellipse cx="268.55" cy="647.93" rx="3.61" ry="9.06" stroke="#3a3a3a" stroke-opacity="0.66" stroke-width="0.45"/><ellipse cx="268.44" cy="648.20" rx="3.20" ry="8.02" stroke="#3a3a3a" stroke-opacity="0.70" stroke-width="0.45"/><ellipse cx="268.33" cy="648.48" rx="2.78" ry="6.98" stroke="#3a3a3a" stroke-opacity="0.73" stroke-width="0.45"/><ellipse cx="268.22" cy="648.75" rx="2.37" ry="5.94" stroke="#3a3a3a" stroke-opacity="0.77" stroke-width="0.45"/><ellipse cx="268.11" cy="649.02" rx="1.95" ry="4.90" stroke="#3a3a3a" stroke-opacity="0.80" stroke-width="0.45"/><ellipse cx="268.00" cy="649.29" rx="1.54" ry="3.86" stroke="#3a3a3a" stroke-opacity="0.83" stroke-width="0.45"/><ellipse cx="267.89" cy="649.56" rx="1.12" ry="2.82" stroke="#3a3a3a" stroke-opacity="0.87" stroke-width="0.45"/><ellipse cx="267.60" cy="650.80" rx="0.85" ry="6.89" fill="#222" fill-opacity="0.6"/></g>
<text x="297.70" y="564.70" font-size="9.2" font-weight="bold" text-anchor="middle" fill="#111">V-9302</text>
<rect x="351.95" y="574.30" width="103.00" height="103.00" fill="none" stroke="#666" stroke-width="1.0"/>
<rect x="358.55" y="579.30" width="40.40" height="60.70" fill="none" stroke="#444" stroke-width="1.0"/>
<text x="378.85" y="612.50" font-size="7.9" text-anchor="middle" fill="#222">27.4</text>
<g transform="rotate(11 377.65 643.70)" fill="none"><ellipse cx="376.65" cy="646.20" rx="3.24" ry="10.97" fill="#555" fill-opacity="0.45" filter="url(#mb)"/><ellipse cx="377.65" cy="643.70" rx="7.20" ry="17.70" stroke="#3a3a3a" stroke-opacity="0.45" stroke-width="0.45"/><ellipse cx="377.54" cy="643.97" rx="6.71" ry="16.50" stroke="#3a3a3a" stroke-opacity="0.48" stroke-width="0.45"/><ellipse cx="377.43" cy="644.24" rx="6.22" ry="15.29" stroke="#3a3a3a" stroke-opacity="0.52" stroke-width="0.45"/><ellipse cx="377.32" cy="644.52" rx="5.73" ry="14.09" stroke="#3a3a3a" stroke-opacity="0.56" stroke-width="0.45"/><ellipse cx="377.21" cy="644.79" rx="5.24" ry="12.89" stroke="#3a3a3a" stroke-opacity="0.59" stroke-width="0.45"/><ellipse cx="377.11" cy="645.06" rx="4.75" ry="11.68" stroke="#3a3a3a" stroke-opacity="0.62" stroke-width="0.45"/><ellipse cx="377.00" cy="645.33" rx="4.26" ry="10.48" stroke="#3a3a3a" stroke-opacity="0.66" stroke-width="0.45"/><ellipse cx="376.89" cy="645.60" rx="3.77" ry="9.27" stroke="#3a3a3a" stroke-opacity="0.70" stroke-width="0.45"/><ellipse cx="376.78" cy="645.88" rx="3.28" ry="8.07" stroke="#3a3a3a" stroke-opacity="0.73" stroke-width="0.45"/><ellipse cx="376.67" cy="646.15" rx="2.79" ry="6.87" stroke="#3a3a3a" stroke-opacity="0.77" stroke-width="0.45"/><ellipse cx="376.56" cy="646.42" rx="2.30" ry="5.66" stroke="#3a3a3a" stroke-opacity="0.80" stroke-width="0.45"/><ellipse cx="376.45" cy="646.69" rx="1.81" ry="4.46" stroke="#3a3a3a" stroke-opacity="0.83" stroke-width="0.45"/><ellipse cx="376.34" cy="646.96" rx="1.32" ry="3.26" stroke="#3a3a3a" stroke-opacity="0.87" stroke-width="0.45"/><ellipse cx="376.05" cy="648.20" rx="1.01" ry="7.96" fill="#222" fill-opacity="0.6"/></g>
<text x="403.45" y="564.70" font-size="9.2" font-weight="bold" text-anchor="middle" fill="#111">iMQT_020</text>
<rect x="457.70" y="574.30" width="103.00" height="103.00" fill="none" stroke="#666" stroke-width="1.0"/>
<rect x="464.30" y="579.30" width="40.40" height="60.70" fill="none" stroke="#444" stroke-width="1.0"/>
<text x="484.60" y="612.50" font-size="7.9" text-anchor="middle" fill="#222">21.1</text>
<g transform="rotate(10 481.90 644.50)" fill="none"><ellipse cx="480.90" cy="647.00" rx="3.02" ry="10.17" fill="#555" fill-opacity="0.45" filter="url(#mb)"/><ellipse cx="481.90" cy="644.50" rx="6.70" ry="16.40" stroke="#3a3a3a" stroke-opacity="0.45" stroke-width="0.45"/><ellipse cx="481.79" cy="644.77" rx="6.24" ry="15.28" stroke="#3a3a3a" stroke-opacity="0.48" stroke-width="0.45"/><ellipse cx="481.68" cy="645.04" rx="5.79" ry="14.17" stroke="#3a3a3a" stroke-opacity="0.52" stroke-width="0.45"/><ellipse cx="481.57" cy="645.32" rx="5.33" ry="13.05" stroke="#3a3a3a" stroke-opacity="0.56" stroke-width="0.45"/><ellipse cx="481.46" cy="645.59" rx="4.88" ry="11.94" stroke="#3a3a3a" stroke-opacity="0.59" stroke-width="0.45"/><ellipse cx="481.36" cy="645.86" rx="4.42" ry="10.82" stroke="#3a3a3a" stroke-opacity="0.62" stroke-width="0.45"/><ellipse cx="481.25" cy="646.13" rx="3.97" ry="9.71" stroke="#3a3a3a" stroke-opacity="0.66" stroke-width="0.45"/><ellipse cx="481.14" cy="646.40" rx="3.51" ry="8.59" stroke="#3a3a3a" stroke-opacity="0.70" stroke-width="0.45"/><ellipse cx="481.03" cy="646.68" rx="3.06" ry="7.48" stroke="#3a3a3a" stroke-opacity="0.73" stroke-width="0.45"/><ellipse cx="480.92" cy="646.95" rx="2.60" ry="6.36" stroke="#3a3a3a" stroke-opacity="0.77" stroke-width="0.45"/><ellipse cx="480.81" cy="647.22" rx="2.14" ry="5.25" stroke="#3a3a3a" stroke-opacity="0.80" stroke-width="0.45"/><ellipse cx="480.70" cy="647.49" rx="1.69" ry="4.13" stroke="#3a3a3a" stroke-opacity="0.83" stroke-width="0.45"/><ellipse cx="480.59" cy="647.76" rx="1.23" ry="3.02" stroke="#3a3a3a" stroke-opacity="0.87" stroke-width="0.45"/><ellipse cx="480.30" cy="649.00" rx="0.94" ry="7.38" fill="#222" fill-opacity="0.6"/></g>
<text x="509.20" y="559.00" font-size="9.2" font-weight="bold" text-anchor="middle" fill="#111">V-9302</text>
<text x="509.20" y="569.60" font-size="9.2" font-weight="bold" text-anchor="middle" fill="#111">+ <tspan font-weight="normal">&#945;</tspan>PD-L1</text>
<rect x="563.45" y="574.30" width="103.00" height="103.00" fill="none" stroke="#666" stroke-width="1.0"/>
<rect x="569.95" y="579.30" width="40.40" height="60.70" fill="none" stroke="#444" stroke-width="1.0"/>
<text x="590.25" y="612.50" font-size="7.9" text-anchor="middle" fill="#222">32.4</text>
<g transform="rotate(11 588.45 642.60)" fill="none"><ellipse cx="587.45" cy="645.10" rx="3.24" ry="10.60" fill="#555" fill-opacity="0.45" filter="url(#mb)"/><ellipse cx="588.45" cy="642.60" rx="7.20" ry="17.10" stroke="#3a3a3a" stroke-opacity="0.45" stroke-width="0.45"/><ellipse cx="588.34" cy="642.87" rx="6.71" ry="15.94" stroke="#3a3a3a" stroke-opacity="0.48" stroke-width="0.45"/><ellipse cx="588.23" cy="643.14" rx="6.22" ry="14.77" stroke="#3a3a3a" stroke-opacity="0.52" stroke-width="0.45"/><ellipse cx="588.12" cy="643.42" rx="5.73" ry="13.61" stroke="#3a3a3a" stroke-opacity="0.56" stroke-width="0.45"/><ellipse cx="588.01" cy="643.69" rx="5.24" ry="12.45" stroke="#3a3a3a" stroke-opacity="0.59" stroke-width="0.45"/><ellipse cx="587.91" cy="643.96" rx="4.75" ry="11.29" stroke="#3a3a3a" stroke-opacity="0.62" stroke-width="0.45"/><ellipse cx="587.80" cy="644.23" rx="4.26" ry="10.12" stroke="#3a3a3a" stroke-opacity="0.66" stroke-width="0.45"/><ellipse cx="587.69" cy="644.50" rx="3.77" ry="8.96" stroke="#3a3a3a" stroke-opacity="0.70" stroke-width="0.45"/><ellipse cx="587.58" cy="644.78" rx="3.28" ry="7.80" stroke="#3a3a3a" stroke-opacity="0.73" stroke-width="0.45"/><ellipse cx="587.47" cy="645.05" rx="2.79" ry="6.63" stroke="#3a3a3a" stroke-opacity="0.77" stroke-width="0.45"/><ellipse cx="587.36" cy="645.32" rx="2.30" ry="5.47" stroke="#3a3a3a" stroke-opacity="0.80" stroke-width="0.45"/><ellipse cx="587.25" cy="645.59" rx="1.81" ry="4.31" stroke="#3a3a3a" stroke-opacity="0.83" stroke-width="0.45"/><ellipse cx="587.14" cy="645.86" rx="1.32" ry="3.15" stroke="#3a3a3a" stroke-opacity="0.87" stroke-width="0.45"/><ellipse cx="586.85" cy="647.10" rx="1.01" ry="7.70" fill="#222" fill-opacity="0.6"/></g>
<text x="614.95" y="559.00" font-size="9.2" font-weight="bold" text-anchor="middle" fill="#111">iMQT_020</text>
<text x="614.95" y="569.60" font-size="9.2" font-weight="bold" text-anchor="middle" fill="#111">+ <tspan font-weight="normal">&#945;</tspan>PD-L1</text>
<line x1="20.00" y1="580.50" x2="20.00" y2="592.80" stroke="#777" stroke-width="1.2"/>
<path d="M16.7,582.0 L23.3,582.0 L20.0,574.0 Z" fill="#111"/>
<text x="24.20" y="624.75" font-size="10.8" font-weight="bold" fill="#000" text-anchor="middle" textLength="46.3" lengthAdjust="spacingAndGlyphs" transform="rotate(-90 24.20 624.75)">PDL1-PE</text>
<line x1="19.90" y1="661.00" x2="19.90" y2="688.00" stroke="#777" stroke-width="1.1"/>
<line x1="19.40" y1="688.00" x2="286.50" y2="688.00" stroke="#777" stroke-width="1.1"/>
<line x1="420.00" y1="688.00" x2="669.00" y2="688.00" stroke="#777" stroke-width="1.1"/>
<path d="M668.6,685.3 L668.6,690.9 L676.2,688.1 Z" fill="#111"/>
<text x="357.9" y="691.4" font-size="10.6" font-weight="bold" text-anchor="middle" fill="#222" textLength="104.5" lengthAdjust="spacingAndGlyphs">Gated in CD45<tspan font-size="6.8" dy="-3.8">-</tspan><tspan dy="3.8"> cells</tspan></text>
<circle cx="56.97" cy="808.50" r="2.05" fill="#8c8c8c"/>
<circle cx="60.30" cy="806.49" r="2.05" fill="#8c8c8c"/>
<circle cx="58.72" cy="805.62" r="2.05" fill="#8c8c8c"/>
<circle cx="56.91" cy="805.36" r="2.05" fill="#8c8c8c"/>
<circle cx="60.62" cy="804.03" r="2.05" fill="#8c8c8c"/>
<circle cx="59.42" cy="803.10" r="2.05" fill="#8c8c8c"/>
<circle cx="57.16" cy="801.83" r="2.05" fill="#8c8c8c"/>
<circle cx="60.34" cy="800.64" r="2.05" fill="#8c8c8c"/>
<circle cx="58.14" cy="800.64" r="2.05" fill="#8c8c8c"/>
<circle cx="56.66" cy="799.75" r="2.05" fill="#8c8c8c"/>
<circle cx="61.61" cy="797.61" r="2.05" fill="#8c8c8c"/>
<circle cx="58.63" cy="797.19" r="2.05" fill="#8c8c8c"/>
<line x1="57.40" y1="802.54" x2="60.20" y2="802.54" stroke="#fff" stroke-width="0.9"/>
<line x1="58.80" y1="801.34" x2="58.80" y2="803.74" stroke="#fff" stroke-width="0.7" stroke-opacity="0.8"/>
<circle cx="69.87" cy="799.10" r="2.05" fill="#1ec07e"/>
<circle cx="73.88" cy="797.93" r="2.05" fill="#1ec07e"/>
<circle cx="71.80" cy="797.54" r="2.05" fill="#1ec07e"/>
<circle cx="68.96" cy="796.39" r="2.05" fill="#1ec07e"/>
<circle cx="74.49" cy="795.20" r="2.05" fill="#1ec07e"/>
<circle cx="72.10" cy="794.22" r="2.05" fill="#1ec07e"/>
<circle cx="68.87" cy="793.66" r="2.05" fill="#1ec07e"/>
<circle cx="73.57" cy="792.76" r="2.05" fill="#1ec07e"/>
<circle cx="71.91" cy="791.87" r="2.05" fill="#1ec07e"/>
<circle cx="69.70" cy="790.66" r="2.05" fill="#1ec07e"/>
<circle cx="74.41" cy="789.98" r="2.05" fill="#1ec07e"/>
<circle cx="71.49" cy="789.42" r="2.05" fill="#1ec07e"/>
<line x1="70.20" y1="793.77" x2="73.00" y2="793.77" stroke="#fff" stroke-width="0.9"/>
<line x1="71.60" y1="792.57" x2="71.60" y2="794.97" stroke="#fff" stroke-width="0.7" stroke-opacity="0.8"/>
<circle cx="81.74" cy="803.75" r="2.05" fill="#c8c014"/>
<circle cx="86.67" cy="802.87" r="2.05" fill="#c8c014"/>
<circle cx="84.68" cy="802.33" r="2.05" fill="#c8c014"/>
<circle cx="82.44" cy="800.73" r="2.05" fill="#c8c014"/>
<circle cx="86.42" cy="799.10" r="2.05" fill="#c8c014"/>
<circle cx="84.31" cy="798.02" r="2.05" fill="#c8c014"/>
<circle cx="82.21" cy="797.44" r="2.05" fill="#c8c014"/>
<circle cx="86.99" cy="796.17" r="2.05" fill="#c8c014"/>
<circle cx="84.43" cy="795.94" r="2.05" fill="#c8c014"/>
<circle cx="82.05" cy="794.46" r="2.05" fill="#c8c014"/>
<circle cx="86.59" cy="792.41" r="2.05" fill="#c8c014"/>
<circle cx="83.74" cy="791.90" r="2.05" fill="#c8c014"/>
<line x1="83.00" y1="798.02" x2="85.80" y2="798.02" stroke="#fff" stroke-width="0.9"/>
<line x1="84.40" y1="796.82" x2="84.40" y2="799.22" stroke="#fff" stroke-width="0.7" stroke-opacity="0.8"/>
<circle cx="95.02" cy="783.35" r="2.05" fill="#ff4545"/>
<circle cx="100.03" cy="781.34" r="2.05" fill="#ff4545"/>
<circle cx="97.31" cy="779.89" r="2.05" fill="#ff4545"/>
<circle cx="94.94" cy="779.44" r="2.05" fill="#ff4545"/>
<circle cx="99.08" cy="778.70" r="2.05" fill="#ff4545"/>
<circle cx="97.27" cy="778.00" r="2.05" fill="#ff4545"/>
<circle cx="95.64" cy="776.48" r="2.05" fill="#ff4545"/>
<circle cx="98.71" cy="774.73" r="2.05" fill="#ff4545"/>
<circle cx="97.60" cy="774.01" r="2.05" fill="#ff4545"/>
<circle cx="95.45" cy="773.33" r="2.05" fill="#ff4545"/>
<circle cx="99.94" cy="771.82" r="2.05" fill="#ff4545"/>
<circle cx="97.54" cy="771.72" r="2.05" fill="#ff4545"/>
<line x1="95.80" y1="777.00" x2="98.60" y2="777.00" stroke="#fff" stroke-width="0.9"/>
<line x1="97.20" y1="775.80" x2="97.20" y2="778.20" stroke="#fff" stroke-width="0.7" stroke-opacity="0.8"/>
<circle cx="107.85" cy="798.42" r="2.05" fill="#0a10c8"/>
<circle cx="112.37" cy="797.63" r="2.05" fill="#0a10c8"/>
<circle cx="110.16" cy="796.19" r="2.05" fill="#0a10c8"/>
<circle cx="107.74" cy="795.10" r="2.05" fill="#0a10c8"/>
<circle cx="111.54" cy="794.47" r="2.05" fill="#0a10c8"/>
<circle cx="109.62" cy="791.53" r="2.05" fill="#0a10c8"/>
<circle cx="107.35" cy="790.76" r="2.05" fill="#0a10c8"/>
<circle cx="112.32" cy="790.13" r="2.05" fill="#0a10c8"/>
<circle cx="110.51" cy="788.18" r="2.05" fill="#0a10c8"/>
<circle cx="108.22" cy="786.86" r="2.05" fill="#0a10c8"/>
<circle cx="112.62" cy="785.76" r="2.05" fill="#0a10c8"/>
<circle cx="110.44" cy="784.42" r="2.05" fill="#0a10c8"/>
<line x1="108.60" y1="791.57" x2="111.40" y2="791.57" stroke="#fff" stroke-width="0.9"/>
<line x1="110.00" y1="790.37" x2="110.00" y2="792.77" stroke="#fff" stroke-width="0.7" stroke-opacity="0.8"/>
<circle cx="120.12" cy="777.55" r="2.05" fill="#a51ef0"/>
<circle cx="125.04" cy="774.77" r="2.05" fill="#a51ef0"/>
<circle cx="122.34" cy="773.63" r="2.05" fill="#a51ef0"/>
<circle cx="120.28" cy="773.41" r="2.05" fill="#a51ef0"/>
<circle cx="125.30" cy="772.04" r="2.05" fill="#a51ef0"/>
<circle cx="122.74" cy="770.54" r="2.05" fill="#a51ef0"/>
<circle cx="120.35" cy="767.43" r="2.05" fill="#a51ef0"/>
<circle cx="124.96" cy="767.03" r="2.05" fill="#a51ef0"/>
<circle cx="122.13" cy="765.82" r="2.05" fill="#a51ef0"/>
<circle cx="120.44" cy="763.20" r="2.05" fill="#a51ef0"/>
<circle cx="124.89" cy="762.30" r="2.05" fill="#a51ef0"/>
<circle cx="122.36" cy="761.40" r="2.05" fill="#a51ef0"/>
<line x1="121.40" y1="768.74" x2="124.20" y2="768.74" stroke="#fff" stroke-width="0.9"/>
<line x1="122.80" y1="767.54" x2="122.80" y2="769.94" stroke="#fff" stroke-width="0.7" stroke-opacity="0.8"/>
<text x="71.60" y="778.80" font-size="6.6" font-weight="bold" text-anchor="middle" fill="#222" letter-spacing="-0.4">*</text>
<text x="84.40" y="786.60" font-size="8.0" text-anchor="middle" fill="#222">ns</text>
<text x="97.20" y="760.80" font-size="6.6" font-weight="bold" text-anchor="middle" fill="#222" letter-spacing="-0.4">**</text>
<text x="110.00" y="775.80" font-size="6.6" font-weight="bold" text-anchor="middle" fill="#222" letter-spacing="-0.4">*</text>
<text x="122.80" y="750.30" font-size="6.6" font-weight="bold" text-anchor="middle" fill="#222" letter-spacing="-0.4">****</text>
<line x1="52.40" y1="734.30" x2="52.40" y2="813.60" stroke="#000" stroke-width="2.2"/>
<line x1="46.80" y1="812.60" x2="130.80" y2="812.60" stroke="#000" stroke-width="2.2"/>
<line x1="46.80" y1="812.60" x2="52.40" y2="812.60" stroke="#000" stroke-width="1.9"/>
<text x="44.40" y="814.90" font-size="6.6" text-anchor="end" fill="#222">0</text>
<line x1="46.80" y1="786.80" x2="52.40" y2="786.80" stroke="#000" stroke-width="1.9"/>
<text x="44.40" y="789.10" font-size="6.6" text-anchor="end" fill="#222">20</text>
<line x1="46.80" y1="761.00" x2="52.40" y2="761.00" stroke="#000" stroke-width="1.9"/>
<text x="44.40" y="763.30" font-size="6.6" text-anchor="end" fill="#222">40</text>
<line x1="46.80" y1="735.20" x2="52.40" y2="735.20" stroke="#000" stroke-width="1.9"/>
<text x="44.40" y="737.50" font-size="6.6" text-anchor="end" fill="#222">60</text>
<line x1="58.80" y1="812.60" x2="58.80" y2="818.60" stroke="#000" stroke-width="1.8"/>
<line x1="71.60" y1="812.60" x2="71.60" y2="818.60" stroke="#000" stroke-width="1.8"/>
<line x1="84.40" y1="812.60" x2="84.40" y2="818.60" stroke="#000" stroke-width="1.8"/>
<line x1="97.20" y1="812.60" x2="97.20" y2="818.60" stroke="#000" stroke-width="1.8"/>
<line x1="110.00" y1="812.60" x2="110.00" y2="818.60" stroke="#000" stroke-width="1.8"/>
<line x1="122.80" y1="812.60" x2="122.80" y2="818.60" stroke="#000" stroke-width="1.8"/>
<text x="15.60" y="773.50" font-size="10.7" font-weight="bold" fill="#000" text-anchor="middle" textLength="102.2" lengthAdjust="spacingAndGlyphs" transform="rotate(-90 15.60 773.50)">PD-L1+ Tumor cells</text>
<text x="27.90" y="773.20" font-size="10.7" font-weight="bold" fill="#000" text-anchor="middle" textLength="93.2" lengthAdjust="spacingAndGlyphs" transform="rotate(-90 27.90 773.20)">(% in CD45<tspan font-size="6.4" dy="-3.4">-</tspan><tspan dy="3.4"> cells)</tspan></text>
<circle cx="194.80" cy="758.02" r="2.05" fill="#8c8c8c"/>
<circle cx="199.15" cy="757.78" r="2.05" fill="#8c8c8c"/>
<circle cx="197.41" cy="757.68" r="2.05" fill="#8c8c8c"/>
<circle cx="195.59" cy="757.42" r="2.05" fill="#8c8c8c"/>
<circle cx="199.93" cy="756.71" r="2.05" fill="#8c8c8c"/>
<circle cx="197.16" cy="756.41" r="2.05" fill="#8c8c8c"/>
<circle cx="194.82" cy="756.10" r="2.05" fill="#8c8c8c"/>
<circle cx="198.98" cy="755.94" r="2.05" fill="#8c8c8c"/>
<circle cx="196.45" cy="755.44" r="2.05" fill="#8c8c8c"/>
<circle cx="194.24" cy="755.10" r="2.05" fill="#8c8c8c"/>
<circle cx="199.25" cy="754.77" r="2.05" fill="#8c8c8c"/>
<circle cx="196.85" cy="754.63" r="2.05" fill="#8c8c8c"/>
<circle cx="208.25" cy="778.29" r="2.05" fill="#1ec07e"/>
<circle cx="212.52" cy="776.95" r="2.05" fill="#1ec07e"/>
<circle cx="210.23" cy="776.58" r="2.05" fill="#1ec07e"/>
<circle cx="208.27" cy="775.77" r="2.05" fill="#1ec07e"/>
<circle cx="212.47" cy="775.36" r="2.05" fill="#1ec07e"/>
<circle cx="210.31" cy="774.82" r="2.05" fill="#1ec07e"/>
<circle cx="207.50" cy="773.71" r="2.05" fill="#1ec07e"/>
<circle cx="212.77" cy="773.14" r="2.05" fill="#1ec07e"/>
<circle cx="210.55" cy="771.95" r="2.05" fill="#1ec07e"/>
<circle cx="207.23" cy="770.64" r="2.05" fill="#1ec07e"/>
<circle cx="212.46" cy="770.22" r="2.05" fill="#1ec07e"/>
<circle cx="210.20" cy="770.00" r="2.05" fill="#1ec07e"/>
<line x1="208.50" y1="773.90" x2="211.30" y2="773.90" stroke="#fff" stroke-width="0.9"/>
<line x1="209.90" y1="772.70" x2="209.90" y2="775.10" stroke="#fff" stroke-width="0.7" stroke-opacity="0.8"/>
<circle cx="220.81" cy="764.53" r="2.05" fill="#c8c014"/>
<circle cx="224.88" cy="763.68" r="2.05" fill="#c8c014"/>
<circle cx="222.31" cy="762.95" r="2.05" fill="#c8c014"/>
<circle cx="220.25" cy="761.69" r="2.05" fill="#c8c014"/>
<circle cx="225.18" cy="761.39" r="2.05" fill="#c8c014"/>
<circle cx="222.23" cy="760.24" r="2.05" fill="#c8c014"/>
<circle cx="221.07" cy="760.00" r="2.05" fill="#c8c014"/>
<circle cx="224.58" cy="758.64" r="2.05" fill="#c8c014"/>
<circle cx="223.28" cy="757.85" r="2.05" fill="#c8c014"/>
<circle cx="220.23" cy="757.56" r="2.05" fill="#c8c014"/>
<circle cx="225.54" cy="756.67" r="2.05" fill="#c8c014"/>
<circle cx="222.99" cy="755.50" r="2.05" fill="#c8c014"/>
<line x1="221.30" y1="760.23" x2="224.10" y2="760.23" stroke="#fff" stroke-width="0.9"/>
<line x1="222.70" y1="759.03" x2="222.70" y2="761.43" stroke="#fff" stroke-width="0.7" stroke-opacity="0.8"/>
<circle cx="233.87" cy="770.06" r="2.05" fill="#ff4545"/>
<circle cx="237.27" cy="769.33" r="2.05" fill="#ff4545"/>
<circle cx="235.84" cy="768.49" r="2.05" fill="#ff4545"/>
<circle cx="232.68" cy="767.84" r="2.05" fill="#ff4545"/>
<circle cx="237.91" cy="767.42" r="2.05" fill="#ff4545"/>
<circle cx="235.18" cy="766.81" r="2.05" fill="#ff4545"/>
<circle cx="232.92" cy="765.79" r="2.05" fill="#ff4545"/>
<circle cx="238.23" cy="764.65" r="2.05" fill="#ff4545"/>
<circle cx="234.95" cy="764.26" r="2.05" fill="#ff4545"/>
<circle cx="233.33" cy="764.11" r="2.05" fill="#ff4545"/>
<circle cx="238.20" cy="762.64" r="2.05" fill="#ff4545"/>
<circle cx="235.14" cy="762.03" r="2.05" fill="#ff4545"/>
<circle cx="245.43" cy="778.24" r="2.05" fill="#0a10c8"/>
<circle cx="250.16" cy="777.10" r="2.05" fill="#0a10c8"/>
<circle cx="248.74" cy="776.90" r="2.05" fill="#0a10c8"/>
<circle cx="245.62" cy="776.07" r="2.05" fill="#0a10c8"/>
<circle cx="250.06" cy="776.07" r="2.05" fill="#0a10c8"/>
<circle cx="248.57" cy="775.21" r="2.05" fill="#0a10c8"/>
<circle cx="245.94" cy="774.79" r="2.05" fill="#0a10c8"/>
<circle cx="249.86" cy="773.79" r="2.05" fill="#0a10c8"/>
<circle cx="248.99" cy="773.70" r="2.05" fill="#0a10c8"/>
<circle cx="245.61" cy="772.59" r="2.05" fill="#0a10c8"/>
<circle cx="249.85" cy="772.39" r="2.05" fill="#0a10c8"/>
<circle cx="248.08" cy="771.42" r="2.05" fill="#0a10c8"/>
<circle cx="258.86" cy="780.91" r="2.05" fill="#a51ef0"/>
<circle cx="262.92" cy="780.07" r="2.05" fill="#a51ef0"/>
<circle cx="261.33" cy="780.00" r="2.05" fill="#a51ef0"/>
<circle cx="258.64" cy="779.07" r="2.05" fill="#a51ef0"/>
<circle cx="262.74" cy="778.67" r="2.05" fill="#a51ef0"/>
<circle cx="261.03" cy="777.53" r="2.05" fill="#a51ef0"/>
<circle cx="259.42" cy="776.50" r="2.05" fill="#a51ef0"/>
<circle cx="262.78" cy="775.82" r="2.05" fill="#a51ef0"/>
<circle cx="261.22" cy="774.94" r="2.05" fill="#a51ef0"/>
<circle cx="258.75" cy="774.38" r="2.05" fill="#a51ef0"/>
<circle cx="263.32" cy="773.56" r="2.05" fill="#a51ef0"/>
<circle cx="260.60" cy="773.01" r="2.05" fill="#a51ef0"/>
<text x="209.90" y="767.40" font-size="6.6" font-weight="bold" text-anchor="middle" fill="#222" letter-spacing="-0.4">**</text>
<text x="222.70" y="750.10" font-size="8.0" text-anchor="middle" fill="#222">ns</text>
<text x="235.50" y="758.60" font-size="6.6" font-weight="bold" text-anchor="middle" fill="#222" letter-spacing="-0.4">*</text>
<text x="248.30" y="770.30" font-size="6.6" font-weight="bold" text-anchor="middle" fill="#222" letter-spacing="-0.4">**</text>
<text x="261.10" y="772.00" font-size="6.6" font-weight="bold" text-anchor="middle" fill="#222" letter-spacing="-0.4">**</text>
<line x1="190.70" y1="734.30" x2="190.70" y2="813.60" stroke="#000" stroke-width="2.2"/>
<line x1="185.10" y1="812.60" x2="269.10" y2="812.60" stroke="#000" stroke-width="2.2"/>
<line x1="185.10" y1="812.60" x2="190.70" y2="812.60" stroke="#000" stroke-width="1.9"/>
<text x="182.70" y="814.90" font-size="6.6" text-anchor="end" fill="#222">0</text>
<line x1="185.10" y1="786.80" x2="190.70" y2="786.80" stroke="#000" stroke-width="1.9"/>
<text x="182.70" y="789.10" font-size="6.6" text-anchor="end" fill="#222">20</text>
<line x1="185.10" y1="761.00" x2="190.70" y2="761.00" stroke="#000" stroke-width="1.9"/>
<text x="182.70" y="763.30" font-size="6.6" text-anchor="end" fill="#222">40</text>
<line x1="185.10" y1="735.20" x2="190.70" y2="735.20" stroke="#000" stroke-width="1.9"/>
<text x="182.70" y="737.50" font-size="6.6" text-anchor="end" fill="#222">60</text>
<line x1="197.10" y1="812.60" x2="197.10" y2="818.60" stroke="#000" stroke-width="1.8"/>
<line x1="209.90" y1="812.60" x2="209.90" y2="818.60" stroke="#000" stroke-width="1.8"/>
<line x1="222.70" y1="812.60" x2="222.70" y2="818.60" stroke="#000" stroke-width="1.8"/>
<line x1="235.50" y1="812.60" x2="235.50" y2="818.60" stroke="#000" stroke-width="1.8"/>
<line x1="248.30" y1="812.60" x2="248.30" y2="818.60" stroke="#000" stroke-width="1.8"/>
<line x1="261.10" y1="812.60" x2="261.10" y2="818.60" stroke="#000" stroke-width="1.8"/>
<text x="152.30" y="776.25" font-size="10.7" font-weight="bold" fill="#000" text-anchor="middle" textLength="65.7" lengthAdjust="spacingAndGlyphs" transform="rotate(-90 152.30 776.25)">PD-1<tspan font-size="6.4" dy="-3.4">+</tspan><tspan dy="3.4"> T cells</tspan></text>
<text x="164.40" y="776.20" font-size="10.7" font-weight="bold" fill="#000" text-anchor="middle" textLength="121.6" lengthAdjust="spacingAndGlyphs" transform="rotate(-90 164.40 776.20)">(% in CD45<tspan font-size="6.4" dy="-3.4">+</tspan><tspan dy="3.4"></tspan> CD3<tspan font-size="6.4" dy="-3.4">+</tspan><tspan dy="3.4"> cells)</tspan></text>
<circle cx="332.07" cy="804.64" r="2.05" fill="#8c8c8c"/>
<circle cx="335.97" cy="803.82" r="2.05" fill="#8c8c8c"/>
<circle cx="333.99" cy="803.39" r="2.05" fill="#8c8c8c"/>
<circle cx="331.11" cy="802.63" r="2.05" fill="#8c8c8c"/>
<circle cx="336.19" cy="802.05" r="2.05" fill="#8c8c8c"/>
<circle cx="334.32" cy="801.94" r="2.05" fill="#8c8c8c"/>
<circle cx="331.63" cy="801.41" r="2.05" fill="#8c8c8c"/>
<circle cx="336.34" cy="800.17" r="2.05" fill="#8c8c8c"/>
<circle cx="334.04" cy="800.08" r="2.05" fill="#8c8c8c"/>
<circle cx="330.99" cy="799.53" r="2.05" fill="#8c8c8c"/>
<circle cx="336.36" cy="798.34" r="2.05" fill="#8c8c8c"/>
<circle cx="333.93" cy="798.20" r="2.05" fill="#8c8c8c"/>
<circle cx="344.93" cy="785.10" r="2.05" fill="#1ec07e"/>
<circle cx="348.24" cy="784.82" r="2.05" fill="#1ec07e"/>
<circle cx="346.09" cy="783.79" r="2.05" fill="#1ec07e"/>
<circle cx="344.00" cy="783.59" r="2.05" fill="#1ec07e"/>
<circle cx="349.45" cy="782.96" r="2.05" fill="#1ec07e"/>
<circle cx="346.51" cy="782.39" r="2.05" fill="#1ec07e"/>
<circle cx="344.58" cy="782.04" r="2.05" fill="#1ec07e"/>
<circle cx="348.52" cy="781.44" r="2.05" fill="#1ec07e"/>
<circle cx="346.61" cy="781.32" r="2.05" fill="#1ec07e"/>
<circle cx="344.24" cy="780.59" r="2.05" fill="#1ec07e"/>
<circle cx="348.59" cy="780.36" r="2.05" fill="#1ec07e"/>
<circle cx="346.72" cy="779.57" r="2.05" fill="#1ec07e"/>
<circle cx="357.50" cy="802.74" r="2.05" fill="#c8c014"/>
<circle cx="361.20" cy="801.76" r="2.05" fill="#c8c014"/>
<circle cx="359.86" cy="801.30" r="2.05" fill="#c8c014"/>
<circle cx="357.30" cy="800.40" r="2.05" fill="#c8c014"/>
<circle cx="361.30" cy="799.79" r="2.05" fill="#c8c014"/>
<circle cx="358.79" cy="798.99" r="2.05" fill="#c8c014"/>
<circle cx="357.70" cy="798.63" r="2.05" fill="#c8c014"/>
<circle cx="362.29" cy="798.45" r="2.05" fill="#c8c014"/>
<circle cx="358.82" cy="797.11" r="2.05" fill="#c8c014"/>
<circle cx="357.62" cy="796.34" r="2.05" fill="#c8c014"/>
<circle cx="361.47" cy="795.72" r="2.05" fill="#c8c014"/>
<circle cx="358.91" cy="795.38" r="2.05" fill="#c8c014"/>
<circle cx="369.73" cy="798.39" r="2.05" fill="#ff4545"/>
<circle cx="373.81" cy="797.34" r="2.05" fill="#ff4545"/>
<circle cx="372.34" cy="796.75" r="2.05" fill="#ff4545"/>
<circle cx="369.34" cy="796.63" r="2.05" fill="#ff4545"/>
<circle cx="373.98" cy="795.62" r="2.05" fill="#ff4545"/>
<circle cx="372.07" cy="795.51" r="2.05" fill="#ff4545"/>
<circle cx="370.15" cy="794.29" r="2.05" fill="#ff4545"/>
<circle cx="373.92" cy="794.02" r="2.05" fill="#ff4545"/>
<circle cx="371.56" cy="792.91" r="2.05" fill="#ff4545"/>
<circle cx="370.51" cy="792.20" r="2.05" fill="#ff4545"/>
<circle cx="374.14" cy="792.01" r="2.05" fill="#ff4545"/>
<circle cx="372.84" cy="790.95" r="2.05" fill="#ff4545"/>
<circle cx="382.43" cy="781.14" r="2.05" fill="#0a10c8"/>
<circle cx="386.92" cy="780.91" r="2.05" fill="#0a10c8"/>
<circle cx="385.67" cy="779.90" r="2.05" fill="#0a10c8"/>
<circle cx="382.83" cy="778.92" r="2.05" fill="#0a10c8"/>
<circle cx="387.27" cy="777.85" r="2.05" fill="#0a10c8"/>
<circle cx="384.32" cy="777.01" r="2.05" fill="#0a10c8"/>
<circle cx="382.68" cy="776.16" r="2.05" fill="#0a10c8"/>
<circle cx="387.31" cy="775.18" r="2.05" fill="#0a10c8"/>
<circle cx="384.33" cy="773.86" r="2.05" fill="#0a10c8"/>
<circle cx="382.96" cy="773.52" r="2.05" fill="#0a10c8"/>
<circle cx="387.39" cy="772.71" r="2.05" fill="#0a10c8"/>
<circle cx="384.38" cy="771.43" r="2.05" fill="#0a10c8"/>
<line x1="383.60" y1="776.69" x2="386.40" y2="776.69" stroke="#fff" stroke-width="0.9"/>
<line x1="385.00" y1="775.49" x2="385.00" y2="777.89" stroke="#fff" stroke-width="0.7" stroke-opacity="0.8"/>
<circle cx="395.73" cy="760.72" r="2.05" fill="#a51ef0"/>
<circle cx="399.75" cy="759.83" r="2.05" fill="#a51ef0"/>
<circle cx="397.61" cy="758.31" r="2.05" fill="#a51ef0"/>
<circle cx="395.34" cy="757.70" r="2.05" fill="#a51ef0"/>
<circle cx="399.82" cy="755.95" r="2.05" fill="#a51ef0"/>
<circle cx="397.93" cy="754.77" r="2.05" fill="#a51ef0"/>
<circle cx="395.32" cy="754.73" r="2.05" fill="#a51ef0"/>
<circle cx="399.83" cy="753.54" r="2.05" fill="#a51ef0"/>
<circle cx="398.18" cy="751.35" r="2.05" fill="#a51ef0"/>
<circle cx="394.94" cy="749.74" r="2.05" fill="#a51ef0"/>
<circle cx="400.10" cy="749.71" r="2.05" fill="#a51ef0"/>
<circle cx="398.13" cy="748.24" r="2.05" fill="#a51ef0"/>
<line x1="396.40" y1="754.55" x2="399.20" y2="754.55" stroke="#fff" stroke-width="0.9"/>
<line x1="397.80" y1="753.35" x2="397.80" y2="755.75" stroke="#fff" stroke-width="0.7" stroke-opacity="0.8"/>
<text x="346.60" y="770.70" font-size="6.6" font-weight="bold" text-anchor="middle" fill="#222" letter-spacing="-0.4">**</text>
<text x="359.40" y="792.90" font-size="8.0" text-anchor="middle" fill="#222">ns</text>
<text x="372.20" y="788.50" font-size="8.0" text-anchor="middle" fill="#222">ns</text>
<text x="385.00" y="769.60" font-size="6.6" font-weight="bold" text-anchor="middle" fill="#222" letter-spacing="-0.4">**</text>
<text x="397.80" y="738.90" font-size="6.6" font-weight="bold" text-anchor="middle" fill="#222" letter-spacing="-0.4">***</text>
<line x1="327.40" y1="734.30" x2="327.40" y2="813.60" stroke="#000" stroke-width="2.2"/>
<line x1="321.80" y1="812.60" x2="405.80" y2="812.60" stroke="#000" stroke-width="2.2"/>
<line x1="321.80" y1="812.60" x2="327.40" y2="812.60" stroke="#000" stroke-width="1.9"/>
<text x="319.40" y="814.90" font-size="6.6" text-anchor="end" fill="#222">0</text>
<line x1="321.80" y1="797.12" x2="327.40" y2="797.12" stroke="#000" stroke-width="1.9"/>
<text x="319.40" y="799.42" font-size="6.6" text-anchor="end" fill="#222">1</text>
<line x1="321.80" y1="781.64" x2="327.40" y2="781.64" stroke="#000" stroke-width="1.9"/>
<text x="319.40" y="783.94" font-size="6.6" text-anchor="end" fill="#222">2</text>
<line x1="321.80" y1="766.16" x2="327.40" y2="766.16" stroke="#000" stroke-width="1.9"/>
<text x="319.40" y="768.46" font-size="6.6" text-anchor="end" fill="#222">3</text>
<line x1="321.80" y1="750.68" x2="327.40" y2="750.68" stroke="#000" stroke-width="1.9"/>
<text x="319.40" y="752.98" font-size="6.6" text-anchor="end" fill="#222">4</text>
<line x1="321.80" y1="735.20" x2="327.40" y2="735.20" stroke="#000" stroke-width="1.9"/>
<text x="319.40" y="737.50" font-size="6.6" text-anchor="end" fill="#222">5</text>
<line x1="333.80" y1="812.60" x2="333.80" y2="818.60" stroke="#000" stroke-width="1.8"/>
<line x1="346.60" y1="812.60" x2="346.60" y2="818.60" stroke="#000" stroke-width="1.8"/>
<line x1="359.40" y1="812.60" x2="359.40" y2="818.60" stroke="#000" stroke-width="1.8"/>
<line x1="372.20" y1="812.60" x2="372.20" y2="818.60" stroke="#000" stroke-width="1.8"/>
<line x1="385.00" y1="812.60" x2="385.00" y2="818.60" stroke="#000" stroke-width="1.8"/>
<line x1="397.80" y1="812.60" x2="397.80" y2="818.60" stroke="#000" stroke-width="1.8"/>
<text x="291.00" y="774.60" font-size="10.7" font-weight="bold" fill="#000" text-anchor="middle" textLength="58.6" lengthAdjust="spacingAndGlyphs" transform="rotate(-90 291.00 774.60)">CD8 T cells</text>
<text x="302.50" y="774.60" font-size="10.7" font-weight="bold" fill="#000" text-anchor="middle" textLength="63.8" lengthAdjust="spacingAndGlyphs" transform="rotate(-90 302.50 774.60)">(% in tumor)</text>
<circle cx="471.54" cy="783.88" r="2.05" fill="#8c8c8c"/>
<circle cx="475.85" cy="783.30" r="2.05" fill="#8c8c8c"/>
<circle cx="473.80" cy="782.29" r="2.05" fill="#8c8c8c"/>
<circle cx="472.60" cy="781.83" r="2.05" fill="#8c8c8c"/>
<circle cx="476.86" cy="781.21" r="2.05" fill="#8c8c8c"/>
<circle cx="474.63" cy="780.16" r="2.05" fill="#8c8c8c"/>
<circle cx="472.42" cy="778.92" r="2.05" fill="#8c8c8c"/>
<circle cx="475.97" cy="778.33" r="2.05" fill="#8c8c8c"/>
<circle cx="473.93" cy="777.66" r="2.05" fill="#8c8c8c"/>
<circle cx="472.18" cy="777.51" r="2.05" fill="#8c8c8c"/>
<circle cx="476.72" cy="776.47" r="2.05" fill="#8c8c8c"/>
<circle cx="474.70" cy="776.03" r="2.05" fill="#8c8c8c"/>
<circle cx="485.37" cy="778.15" r="2.05" fill="#1ec07e"/>
<circle cx="489.30" cy="778.06" r="2.05" fill="#1ec07e"/>
<circle cx="487.54" cy="777.03" r="2.05" fill="#1ec07e"/>
<circle cx="485.29" cy="776.32" r="2.05" fill="#1ec07e"/>
<circle cx="489.21" cy="775.83" r="2.05" fill="#1ec07e"/>
<circle cx="486.88" cy="775.49" r="2.05" fill="#1ec07e"/>
<circle cx="484.94" cy="774.57" r="2.05" fill="#1ec07e"/>
<circle cx="489.10" cy="774.28" r="2.05" fill="#1ec07e"/>
<circle cx="486.53" cy="772.85" r="2.05" fill="#1ec07e"/>
<circle cx="484.53" cy="772.27" r="2.05" fill="#1ec07e"/>
<circle cx="489.64" cy="771.92" r="2.05" fill="#1ec07e"/>
<circle cx="486.36" cy="771.51" r="2.05" fill="#1ec07e"/>
<circle cx="497.40" cy="781.90" r="2.05" fill="#c8c014"/>
<circle cx="502.35" cy="781.13" r="2.05" fill="#c8c014"/>
<circle cx="499.55" cy="780.92" r="2.05" fill="#c8c014"/>
<circle cx="497.68" cy="780.35" r="2.05" fill="#c8c014"/>
<circle cx="502.57" cy="779.96" r="2.05" fill="#c8c014"/>
<circle cx="499.24" cy="779.62" r="2.05" fill="#c8c014"/>
<circle cx="496.99" cy="778.87" r="2.05" fill="#c8c014"/>
<circle cx="501.62" cy="778.81" r="2.05" fill="#c8c014"/>
<circle cx="500.17" cy="778.32" r="2.05" fill="#c8c014"/>
<circle cx="497.76" cy="778.03" r="2.05" fill="#c8c014"/>
<circle cx="501.63" cy="777.35" r="2.05" fill="#c8c014"/>
<circle cx="499.56" cy="777.15" r="2.05" fill="#c8c014"/>
<circle cx="510.27" cy="779.48" r="2.05" fill="#ff4545"/>
<circle cx="515.42" cy="778.40" r="2.05" fill="#ff4545"/>
<circle cx="512.77" cy="778.09" r="2.05" fill="#ff4545"/>
<circle cx="510.85" cy="776.58" r="2.05" fill="#ff4545"/>
<circle cx="514.51" cy="775.59" r="2.05" fill="#ff4545"/>
<circle cx="512.17" cy="774.75" r="2.05" fill="#ff4545"/>
<circle cx="510.32" cy="774.22" r="2.05" fill="#ff4545"/>
<circle cx="514.29" cy="773.47" r="2.05" fill="#ff4545"/>
<circle cx="512.43" cy="773.19" r="2.05" fill="#ff4545"/>
<circle cx="511.05" cy="772.39" r="2.05" fill="#ff4545"/>
<circle cx="514.56" cy="770.87" r="2.05" fill="#ff4545"/>
<circle cx="511.91" cy="770.30" r="2.05" fill="#ff4545"/>
<line x1="511.20" y1="774.87" x2="514.00" y2="774.87" stroke="#fff" stroke-width="0.9"/>
<line x1="512.60" y1="773.67" x2="512.60" y2="776.07" stroke="#fff" stroke-width="0.7" stroke-opacity="0.8"/>
<circle cx="523.45" cy="771.08" r="2.05" fill="#0a10c8"/>
<circle cx="527.11" cy="770.47" r="2.05" fill="#0a10c8"/>
<circle cx="524.76" cy="769.50" r="2.05" fill="#0a10c8"/>
<circle cx="523.19" cy="769.29" r="2.05" fill="#0a10c8"/>
<circle cx="527.25" cy="768.83" r="2.05" fill="#0a10c8"/>
<circle cx="526.10" cy="768.46" r="2.05" fill="#0a10c8"/>
<circle cx="522.67" cy="767.29" r="2.05" fill="#0a10c8"/>
<circle cx="527.64" cy="767.18" r="2.05" fill="#0a10c8"/>
<circle cx="525.78" cy="766.83" r="2.05" fill="#0a10c8"/>
<circle cx="523.07" cy="766.42" r="2.05" fill="#0a10c8"/>
<circle cx="528.28" cy="765.91" r="2.05" fill="#0a10c8"/>
<circle cx="525.37" cy="765.31" r="2.05" fill="#0a10c8"/>
<circle cx="535.62" cy="759.09" r="2.05" fill="#a51ef0"/>
<circle cx="540.92" cy="758.13" r="2.05" fill="#a51ef0"/>
<circle cx="537.70" cy="757.78" r="2.05" fill="#a51ef0"/>
<circle cx="535.37" cy="756.57" r="2.05" fill="#a51ef0"/>
<circle cx="541.00" cy="755.99" r="2.05" fill="#a51ef0"/>
<circle cx="538.29" cy="754.50" r="2.05" fill="#a51ef0"/>
<circle cx="536.69" cy="753.79" r="2.05" fill="#a51ef0"/>
<circle cx="540.26" cy="753.39" r="2.05" fill="#a51ef0"/>
<circle cx="538.76" cy="753.14" r="2.05" fill="#a51ef0"/>
<circle cx="536.22" cy="752.11" r="2.05" fill="#a51ef0"/>
<circle cx="540.81" cy="751.35" r="2.05" fill="#a51ef0"/>
<circle cx="538.54" cy="750.62" r="2.05" fill="#a51ef0"/>
<line x1="536.80" y1="754.55" x2="539.60" y2="754.55" stroke="#fff" stroke-width="0.9"/>
<line x1="538.20" y1="753.35" x2="538.20" y2="755.75" stroke="#fff" stroke-width="0.7" stroke-opacity="0.8"/>
<text x="487.00" y="758.50" font-size="8.0" text-anchor="middle" fill="#222">ns</text>
<text x="499.80" y="773.00" font-size="8.0" text-anchor="middle" fill="#222">ns</text>
<text x="512.60" y="767.20" font-size="8.0" text-anchor="middle" fill="#222">ns</text>
<text x="525.40" y="759.10" font-size="6.6" font-weight="bold" text-anchor="middle" fill="#222" letter-spacing="-0.4">**</text>
<text x="538.20" y="739.80" font-size="6.6" font-weight="bold" text-anchor="middle" fill="#222" letter-spacing="-0.4">***</text>
<line x1="467.80" y1="734.30" x2="467.80" y2="813.60" stroke="#000" stroke-width="2.2"/>
<line x1="462.20" y1="812.60" x2="546.20" y2="812.60" stroke="#000" stroke-width="2.2"/>
<line x1="462.20" y1="812.60" x2="467.80" y2="812.60" stroke="#000" stroke-width="1.9"/>
<text x="459.80" y="814.90" font-size="6.6" text-anchor="end" fill="#222">0</text>
<line x1="462.20" y1="793.25" x2="467.80" y2="793.25" stroke="#000" stroke-width="1.9"/>
<text x="459.80" y="795.55" font-size="6.6" text-anchor="end" fill="#222">10</text>
<line x1="462.20" y1="773.90" x2="467.80" y2="773.90" stroke="#000" stroke-width="1.9"/>
<text x="459.80" y="776.20" font-size="6.6" text-anchor="end" fill="#222">20</text>
<line x1="462.20" y1="754.55" x2="467.80" y2="754.55" stroke="#000" stroke-width="1.9"/>
<text x="459.80" y="756.85" font-size="6.6" text-anchor="end" fill="#222">30</text>
<line x1="462.20" y1="735.20" x2="467.80" y2="735.20" stroke="#000" stroke-width="1.9"/>
<text x="459.80" y="737.50" font-size="6.6" text-anchor="end" fill="#222">40</text>
<line x1="474.20" y1="812.60" x2="474.20" y2="818.60" stroke="#000" stroke-width="1.8"/>
<line x1="487.00" y1="812.60" x2="487.00" y2="818.60" stroke="#000" stroke-width="1.8"/>
<line x1="499.80" y1="812.60" x2="499.80" y2="818.60" stroke="#000" stroke-width="1.8"/>
<line x1="512.60" y1="812.60" x2="512.60" y2="818.60" stroke="#000" stroke-width="1.8"/>
<line x1="525.40" y1="812.60" x2="525.40" y2="818.60" stroke="#000" stroke-width="1.8"/>
<line x1="538.20" y1="812.60" x2="538.20" y2="818.60" stroke="#000" stroke-width="1.8"/>
<text x="429.00" y="775.00" font-size="10.7" font-weight="bold" fill="#000" text-anchor="middle" textLength="26.7" lengthAdjust="spacingAndGlyphs" transform="rotate(-90 429.00 775.00)">IFN-<tspan font-weight="normal">&#947;</tspan></text>
<text x="440.70" y="774.60" font-size="10.7" font-weight="bold" fill="#000" text-anchor="middle" textLength="97.6" lengthAdjust="spacingAndGlyphs" transform="rotate(-90 440.70 774.60)">(% in CD8<tspan font-size="6.4" dy="-3.4">+</tspan><tspan dy="3.4"> T Cells)</tspan></text>
<circle cx="610.36" cy="786.04" r="2.05" fill="#8c8c8c"/>
<circle cx="614.45" cy="785.29" r="2.05" fill="#8c8c8c"/>
<circle cx="612.66" cy="784.59" r="2.05" fill="#8c8c8c"/>
<circle cx="610.50" cy="783.81" r="2.05" fill="#8c8c8c"/>
<circle cx="614.12" cy="783.35" r="2.05" fill="#8c8c8c"/>
<circle cx="612.20" cy="782.72" r="2.05" fill="#8c8c8c"/>
<circle cx="610.09" cy="782.54" r="2.05" fill="#8c8c8c"/>
<circle cx="615.38" cy="781.67" r="2.05" fill="#8c8c8c"/>
<circle cx="612.97" cy="780.58" r="2.05" fill="#8c8c8c"/>
<circle cx="609.92" cy="780.21" r="2.05" fill="#8c8c8c"/>
<circle cx="615.22" cy="779.42" r="2.05" fill="#8c8c8c"/>
<circle cx="612.09" cy="779.33" r="2.05" fill="#8c8c8c"/>
<circle cx="622.79" cy="779.70" r="2.05" fill="#1ec07e"/>
<circle cx="628.22" cy="779.53" r="2.05" fill="#1ec07e"/>
<circle cx="625.67" cy="779.06" r="2.05" fill="#1ec07e"/>
<circle cx="623.85" cy="777.75" r="2.05" fill="#1ec07e"/>
<circle cx="628.15" cy="777.72" r="2.05" fill="#1ec07e"/>
<circle cx="625.12" cy="777.14" r="2.05" fill="#1ec07e"/>
<circle cx="623.01" cy="775.92" r="2.05" fill="#1ec07e"/>
<circle cx="627.13" cy="775.43" r="2.05" fill="#1ec07e"/>
<circle cx="624.90" cy="775.33" r="2.05" fill="#1ec07e"/>
<circle cx="622.59" cy="774.19" r="2.05" fill="#1ec07e"/>
<circle cx="627.32" cy="773.96" r="2.05" fill="#1ec07e"/>
<circle cx="625.54" cy="773.27" r="2.05" fill="#1ec07e"/>
<line x1="638.20" y1="771.97" x2="638.20" y2="774.87" stroke="#c8c014" stroke-width="1.6"/>
<line x1="638.20" y1="781.64" x2="638.20" y2="785.51" stroke="#c8c014" stroke-width="1.6"/>
<rect x="634.00" y="774.87" width="8.40" height="6.77" fill="#fff" stroke="#c8c014" stroke-width="1.7"/>
<line x1="634.00" y1="778.74" x2="642.40" y2="778.74" stroke="#c8c014" stroke-width="1.4"/>
<circle cx="634.34" cy="782.18" r="2.0" fill="#c8c014"/>
<circle cx="641.68" cy="781.82" r="2.0" fill="#c8c014"/>
<circle cx="634.55" cy="779.04" r="2.0" fill="#c8c014"/>
<circle cx="641.86" cy="779.58" r="2.0" fill="#c8c014"/>
<circle cx="634.99" cy="776.90" r="2.0" fill="#c8c014"/>
<circle cx="641.37" cy="776.61" r="2.0" fill="#c8c014"/>
<circle cx="634.16" cy="774.60" r="2.0" fill="#c8c014"/>
<circle cx="642.18" cy="775.39" r="2.0" fill="#c8c014"/>
<circle cx="638.20" cy="771.97" r="2.1" fill="#c8c014"/>
<circle cx="638.20" cy="785.51" r="2.1" fill="#c8c014"/>
<line x1="636.60" y1="778.94" x2="639.80" y2="778.94" stroke="#fff" stroke-width="0.9"/>
<line x1="651.00" y1="771.97" x2="651.00" y2="774.87" stroke="#ff4545" stroke-width="1.6"/>
<line x1="651.00" y1="782.61" x2="651.00" y2="786.67" stroke="#ff4545" stroke-width="1.6"/>
<rect x="646.80" y="774.87" width="8.40" height="7.74" fill="#fff" stroke="#ff4545" stroke-width="1.7"/>
<line x1="646.80" y1="779.71" x2="655.20" y2="779.71" stroke="#ff4545" stroke-width="1.4"/>
<circle cx="647.24" cy="782.77" r="2.0" fill="#ff4545"/>
<circle cx="654.20" cy="783.22" r="2.0" fill="#ff4545"/>
<circle cx="646.85" cy="780.42" r="2.0" fill="#ff4545"/>
<circle cx="654.94" cy="780.40" r="2.0" fill="#ff4545"/>
<circle cx="646.86" cy="776.92" r="2.0" fill="#ff4545"/>
<circle cx="654.52" cy="777.64" r="2.0" fill="#ff4545"/>
<circle cx="647.04" cy="774.84" r="2.0" fill="#ff4545"/>
<circle cx="654.94" cy="775.35" r="2.0" fill="#ff4545"/>
<circle cx="651.00" cy="771.97" r="2.1" fill="#ff4545"/>
<circle cx="651.00" cy="786.67" r="2.1" fill="#ff4545"/>
<line x1="649.40" y1="779.91" x2="652.60" y2="779.91" stroke="#fff" stroke-width="0.9"/>
<line x1="663.80" y1="755.71" x2="663.80" y2="758.42" stroke="#0a10c8" stroke-width="1.6"/>
<line x1="663.80" y1="767.13" x2="663.80" y2="769.45" stroke="#0a10c8" stroke-width="1.6"/>
<rect x="659.60" y="758.42" width="8.40" height="8.71" fill="#fff" stroke="#0a10c8" stroke-width="1.7"/>
<line x1="659.60" y1="763.26" x2="668.00" y2="763.26" stroke="#0a10c8" stroke-width="1.4"/>
<circle cx="659.75" cy="766.71" r="2.0" fill="#0a10c8"/>
<circle cx="667.94" cy="767.77" r="2.0" fill="#0a10c8"/>
<circle cx="660.29" cy="764.79" r="2.0" fill="#0a10c8"/>
<circle cx="667.91" cy="764.07" r="2.0" fill="#0a10c8"/>
<circle cx="659.68" cy="761.55" r="2.0" fill="#0a10c8"/>
<circle cx="667.28" cy="761.26" r="2.0" fill="#0a10c8"/>
<circle cx="660.46" cy="758.68" r="2.0" fill="#0a10c8"/>
<circle cx="667.11" cy="759.01" r="2.0" fill="#0a10c8"/>
<circle cx="663.80" cy="755.71" r="2.1" fill="#0a10c8"/>
<circle cx="663.80" cy="769.45" r="2.1" fill="#0a10c8"/>
<line x1="662.20" y1="763.46" x2="665.40" y2="763.46" stroke="#fff" stroke-width="0.9"/>
<line x1="676.60" y1="753.58" x2="676.60" y2="758.42" stroke="#a51ef0" stroke-width="1.6"/>
<line x1="676.60" y1="769.06" x2="676.60" y2="771.00" stroke="#a51ef0" stroke-width="1.6"/>
<rect x="672.40" y="758.42" width="8.40" height="10.64" fill="#fff" stroke="#a51ef0" stroke-width="1.7"/>
<line x1="672.40" y1="764.23" x2="680.80" y2="764.23" stroke="#a51ef0" stroke-width="1.4"/>
<circle cx="672.40" cy="768.74" r="2.0" fill="#a51ef0"/>
<circle cx="679.80" cy="769.64" r="2.0" fill="#a51ef0"/>
<circle cx="672.89" cy="764.69" r="2.0" fill="#a51ef0"/>
<circle cx="680.00" cy="765.68" r="2.0" fill="#a51ef0"/>
<circle cx="672.58" cy="761.81" r="2.0" fill="#a51ef0"/>
<circle cx="680.19" cy="762.04" r="2.0" fill="#a51ef0"/>
<circle cx="672.49" cy="759.18" r="2.0" fill="#a51ef0"/>
<circle cx="680.27" cy="759.22" r="2.0" fill="#a51ef0"/>
<circle cx="676.60" cy="753.58" r="2.1" fill="#a51ef0"/>
<circle cx="676.60" cy="771.00" r="2.1" fill="#a51ef0"/>
<line x1="675.00" y1="764.43" x2="678.20" y2="764.43" stroke="#fff" stroke-width="0.9"/>
<text x="625.40" y="766.20" font-size="8.0" text-anchor="middle" fill="#222">ns</text>
<text x="638.20" y="769.10" font-size="8.0" text-anchor="middle" fill="#222">ns</text>
<text x="651.00" y="768.40" font-size="8.0" text-anchor="middle" fill="#222">ns</text>
<text x="663.80" y="746.60" font-size="6.6" font-weight="bold" text-anchor="middle" fill="#222" letter-spacing="-0.4">**</text>
<text x="676.60" y="746.60" font-size="6.6" font-weight="bold" text-anchor="middle" fill="#222" letter-spacing="-0.4">**</text>
<line x1="606.20" y1="734.30" x2="606.20" y2="813.60" stroke="#000" stroke-width="2.2"/>
<line x1="600.60" y1="812.60" x2="684.60" y2="812.60" stroke="#000" stroke-width="2.2"/>
<line x1="600.60" y1="812.60" x2="606.20" y2="812.60" stroke="#000" stroke-width="1.9"/>
<text x="598.20" y="814.90" font-size="6.6" text-anchor="end" fill="#222">0</text>
<line x1="600.60" y1="793.25" x2="606.20" y2="793.25" stroke="#000" stroke-width="1.9"/>
<text x="598.20" y="795.55" font-size="6.6" text-anchor="end" fill="#222">10</text>
<line x1="600.60" y1="773.90" x2="606.20" y2="773.90" stroke="#000" stroke-width="1.9"/>
<text x="598.20" y="776.20" font-size="6.6" text-anchor="end" fill="#222">20</text>
<line x1="600.60" y1="754.55" x2="606.20" y2="754.55" stroke="#000" stroke-width="1.9"/>
<text x="598.20" y="756.85" font-size="6.6" text-anchor="end" fill="#222">30</text>
<line x1="600.60" y1="735.20" x2="606.20" y2="735.20" stroke="#000" stroke-width="1.9"/>
<text x="598.20" y="737.50" font-size="6.6" text-anchor="end" fill="#222">40</text>
<line x1="612.60" y1="812.60" x2="612.60" y2="818.60" stroke="#000" stroke-width="1.8"/>
<line x1="625.40" y1="812.60" x2="625.40" y2="818.60" stroke="#000" stroke-width="1.8"/>
<line x1="638.20" y1="812.60" x2="638.20" y2="818.60" stroke="#000" stroke-width="1.8"/>
<line x1="651.00" y1="812.60" x2="651.00" y2="818.60" stroke="#000" stroke-width="1.8"/>
<line x1="663.80" y1="812.60" x2="663.80" y2="818.60" stroke="#000" stroke-width="1.8"/>
<line x1="676.60" y1="812.60" x2="676.60" y2="818.60" stroke="#000" stroke-width="1.8"/>
<text x="567.00" y="771.70" font-size="10.7" font-weight="bold" fill="#000" text-anchor="middle" textLength="63.2" lengthAdjust="spacingAndGlyphs" transform="rotate(-90 567.00 771.70)">Granzyme B</text>
<text x="581.00" y="769.80" font-size="10.7" font-weight="bold" fill="#000" text-anchor="middle" textLength="94.3" lengthAdjust="spacingAndGlyphs" transform="rotate(-90 581.00 769.80)">(% in CD8<tspan font-size="6.4" dy="-3.4">+</tspan><tspan dy="3.4"> T Cells)</tspan></text>
<circle cx="56.22" cy="911.64" r="2.05" fill="#8c8c8c"/>
<circle cx="60.18" cy="910.96" r="2.05" fill="#8c8c8c"/>
<circle cx="58.15" cy="910.63" r="2.05" fill="#8c8c8c"/>
<circle cx="56.15" cy="910.19" r="2.05" fill="#8c8c8c"/>
<circle cx="59.87" cy="909.78" r="2.05" fill="#8c8c8c"/>
<circle cx="58.18" cy="908.52" r="2.05" fill="#8c8c8c"/>
<circle cx="56.33" cy="908.05" r="2.05" fill="#8c8c8c"/>
<circle cx="59.97" cy="907.13" r="2.05" fill="#8c8c8c"/>
<circle cx="58.52" cy="906.84" r="2.05" fill="#8c8c8c"/>
<circle cx="56.16" cy="905.82" r="2.05" fill="#8c8c8c"/>
<circle cx="60.78" cy="905.64" r="2.05" fill="#8c8c8c"/>
<circle cx="57.87" cy="904.50" r="2.05" fill="#8c8c8c"/>
<circle cx="68.50" cy="908.42" r="2.05" fill="#1ec07e"/>
<circle cx="73.71" cy="906.65" r="2.05" fill="#1ec07e"/>
<circle cx="71.47" cy="905.77" r="2.05" fill="#1ec07e"/>
<circle cx="68.72" cy="905.35" r="2.05" fill="#1ec07e"/>
<circle cx="73.30" cy="904.92" r="2.05" fill="#1ec07e"/>
<circle cx="71.18" cy="903.91" r="2.05" fill="#1ec07e"/>
<circle cx="69.13" cy="902.49" r="2.05" fill="#1ec07e"/>
<circle cx="73.77" cy="902.04" r="2.05" fill="#1ec07e"/>
<circle cx="70.24" cy="900.34" r="2.05" fill="#1ec07e"/>
<circle cx="68.51" cy="899.92" r="2.05" fill="#1ec07e"/>
<circle cx="73.24" cy="899.53" r="2.05" fill="#1ec07e"/>
<circle cx="70.63" cy="898.08" r="2.05" fill="#1ec07e"/>
<line x1="69.50" y1="903.09" x2="72.30" y2="903.09" stroke="#fff" stroke-width="0.9"/>
<line x1="70.90" y1="901.89" x2="70.90" y2="904.29" stroke="#fff" stroke-width="0.7" stroke-opacity="0.8"/>
<line x1="83.70" y1="901.54" x2="83.70" y2="903.48" stroke="#c8c014" stroke-width="1.6"/>
<line x1="83.70" y1="914.18" x2="83.70" y2="919.24" stroke="#c8c014" stroke-width="1.6"/>
<rect x="79.50" y="903.48" width="8.40" height="10.70" fill="#fff" stroke="#c8c014" stroke-width="1.7"/>
<line x1="79.50" y1="907.37" x2="87.90" y2="907.37" stroke="#c8c014" stroke-width="1.4"/>
<circle cx="80.46" cy="914.03" r="2.0" fill="#c8c014"/>
<circle cx="87.40" cy="913.53" r="2.0" fill="#c8c014"/>
<circle cx="79.85" cy="911.27" r="2.0" fill="#c8c014"/>
<circle cx="87.06" cy="910.94" r="2.0" fill="#c8c014"/>
<circle cx="80.40" cy="907.08" r="2.0" fill="#c8c014"/>
<circle cx="87.76" cy="907.54" r="2.0" fill="#c8c014"/>
<circle cx="80.54" cy="903.14" r="2.0" fill="#c8c014"/>
<circle cx="86.87" cy="903.01" r="2.0" fill="#c8c014"/>
<circle cx="83.70" cy="901.54" r="2.1" fill="#c8c014"/>
<circle cx="83.70" cy="919.24" r="2.1" fill="#c8c014"/>
<line x1="82.10" y1="907.57" x2="85.30" y2="907.57" stroke="#fff" stroke-width="0.9"/>
<circle cx="94.97" cy="910.54" r="2.05" fill="#ff4545"/>
<circle cx="98.34" cy="909.53" r="2.05" fill="#ff4545"/>
<circle cx="97.17" cy="909.21" r="2.05" fill="#ff4545"/>
<circle cx="94.85" cy="908.90" r="2.05" fill="#ff4545"/>
<circle cx="98.94" cy="908.30" r="2.05" fill="#ff4545"/>
<circle cx="97.05" cy="907.74" r="2.05" fill="#ff4545"/>
<circle cx="94.23" cy="907.39" r="2.05" fill="#ff4545"/>
<circle cx="99.16" cy="906.35" r="2.05" fill="#ff4545"/>
<circle cx="96.91" cy="906.15" r="2.05" fill="#ff4545"/>
<circle cx="94.32" cy="905.50" r="2.05" fill="#ff4545"/>
<circle cx="98.66" cy="904.70" r="2.05" fill="#ff4545"/>
<circle cx="96.79" cy="904.42" r="2.05" fill="#ff4545"/>
<line x1="109.30" y1="887.92" x2="109.30" y2="891.81" stroke="#0a10c8" stroke-width="1.6"/>
<line x1="109.30" y1="898.23" x2="109.30" y2="900.95" stroke="#0a10c8" stroke-width="1.6"/>
<rect x="105.10" y="891.81" width="8.40" height="6.42" fill="#fff" stroke="#0a10c8" stroke-width="1.7"/>
<line x1="105.10" y1="894.73" x2="113.50" y2="894.73" stroke="#0a10c8" stroke-width="1.4"/>
<circle cx="106.06" cy="898.32" r="2.0" fill="#0a10c8"/>
<circle cx="112.73" cy="897.98" r="2.0" fill="#0a10c8"/>
<circle cx="105.33" cy="896.10" r="2.0" fill="#0a10c8"/>
<circle cx="112.47" cy="896.43" r="2.0" fill="#0a10c8"/>
<circle cx="105.53" cy="894.34" r="2.0" fill="#0a10c8"/>
<circle cx="112.72" cy="894.09" r="2.0" fill="#0a10c8"/>
<circle cx="105.18" cy="891.86" r="2.0" fill="#0a10c8"/>
<circle cx="112.88" cy="892.06" r="2.0" fill="#0a10c8"/>
<circle cx="109.30" cy="887.92" r="2.1" fill="#0a10c8"/>
<circle cx="109.30" cy="900.95" r="2.1" fill="#0a10c8"/>
<line x1="107.70" y1="894.93" x2="110.90" y2="894.93" stroke="#fff" stroke-width="0.9"/>
<circle cx="120.49" cy="893.07" r="2.05" fill="#a51ef0"/>
<circle cx="124.13" cy="892.55" r="2.05" fill="#a51ef0"/>
<circle cx="122.24" cy="892.13" r="2.05" fill="#a51ef0"/>
<circle cx="119.65" cy="891.03" r="2.05" fill="#a51ef0"/>
<circle cx="124.16" cy="890.19" r="2.05" fill="#a51ef0"/>
<circle cx="122.08" cy="889.75" r="2.05" fill="#a51ef0"/>
<circle cx="120.31" cy="888.62" r="2.05" fill="#a51ef0"/>
<circle cx="124.91" cy="887.87" r="2.05" fill="#a51ef0"/>
<circle cx="121.81" cy="886.42" r="2.05" fill="#a51ef0"/>
<circle cx="119.21" cy="886.16" r="2.05" fill="#a51ef0"/>
<circle cx="124.23" cy="884.91" r="2.05" fill="#a51ef0"/>
<circle cx="121.48" cy="883.69" r="2.05" fill="#a51ef0"/>
<line x1="120.70" y1="888.89" x2="123.50" y2="888.89" stroke="#fff" stroke-width="0.9"/>
<line x1="122.10" y1="887.69" x2="122.10" y2="890.10" stroke="#fff" stroke-width="0.7" stroke-opacity="0.8"/>
<text x="70.90" y="887.20" font-size="8.0" text-anchor="middle" fill="#222">ns</text>
<text x="83.70" y="895.60" font-size="8.0" text-anchor="middle" fill="#222">ns</text>
<text x="96.50" y="899.60" font-size="8.0" text-anchor="middle" fill="#222">ns</text>
<text x="109.30" y="879.30" font-size="6.6" font-weight="bold" text-anchor="middle" fill="#222" letter-spacing="-0.4">*</text>
<text x="122.10" y="872.90" font-size="6.6" font-weight="bold" text-anchor="middle" fill="#222" letter-spacing="-0.4">*</text>
<line x1="51.70" y1="866.60" x2="51.70" y2="946.30" stroke="#000" stroke-width="2.2"/>
<line x1="46.10" y1="945.30" x2="130.10" y2="945.30" stroke="#000" stroke-width="2.2"/>
<line x1="46.10" y1="945.30" x2="51.70" y2="945.30" stroke="#000" stroke-width="1.9"/>
<text x="43.70" y="947.60" font-size="6.6" text-anchor="end" fill="#222">0</text>
<line x1="46.10" y1="925.85" x2="51.70" y2="925.85" stroke="#000" stroke-width="1.9"/>
<text x="43.70" y="928.15" font-size="6.6" text-anchor="end" fill="#222">1</text>
<line x1="46.10" y1="906.40" x2="51.70" y2="906.40" stroke="#000" stroke-width="1.9"/>
<text x="43.70" y="908.70" font-size="6.6" text-anchor="end" fill="#222">2</text>
<line x1="46.10" y1="886.95" x2="51.70" y2="886.95" stroke="#000" stroke-width="1.9"/>
<text x="43.70" y="889.25" font-size="6.6" text-anchor="end" fill="#222">3</text>
<line x1="46.10" y1="867.50" x2="51.70" y2="867.50" stroke="#000" stroke-width="1.9"/>
<text x="43.70" y="869.80" font-size="6.6" text-anchor="end" fill="#222">4</text>
<line x1="58.10" y1="945.30" x2="58.10" y2="951.30" stroke="#000" stroke-width="1.8"/>
<line x1="70.90" y1="945.30" x2="70.90" y2="951.30" stroke="#000" stroke-width="1.8"/>
<line x1="83.70" y1="945.30" x2="83.70" y2="951.30" stroke="#000" stroke-width="1.8"/>
<line x1="96.50" y1="945.30" x2="96.50" y2="951.30" stroke="#000" stroke-width="1.8"/>
<line x1="109.30" y1="945.30" x2="109.30" y2="951.30" stroke="#000" stroke-width="1.8"/>
<line x1="122.10" y1="945.30" x2="122.10" y2="951.30" stroke="#000" stroke-width="1.8"/>
<text x="15.60" y="912.00" font-size="10.7" font-weight="bold" fill="#000" text-anchor="middle" textLength="58.6" lengthAdjust="spacingAndGlyphs" transform="rotate(-90 15.60 912.00)">CD4 T cells</text>
<text x="28.30" y="912.00" font-size="10.7" font-weight="bold" fill="#000" text-anchor="middle" textLength="63.8" lengthAdjust="spacingAndGlyphs" transform="rotate(-90 28.30 912.00)">(% in tumor)</text>
<line x1="197.30" y1="885.65" x2="197.30" y2="889.28" stroke="#8c8c8c" stroke-width="1.6"/>
<line x1="197.30" y1="902.25" x2="197.30" y2="906.40" stroke="#8c8c8c" stroke-width="1.6"/>
<rect x="193.10" y="889.28" width="8.40" height="12.97" fill="#fff" stroke="#8c8c8c" stroke-width="1.7"/>
<line x1="193.10" y1="897.06" x2="201.50" y2="897.06" stroke="#8c8c8c" stroke-width="1.4"/>
<circle cx="193.99" cy="902.62" r="2.0" fill="#8c8c8c"/>
<circle cx="200.53" cy="901.94" r="2.0" fill="#8c8c8c"/>
<circle cx="193.77" cy="897.85" r="2.0" fill="#8c8c8c"/>
<circle cx="200.98" cy="898.85" r="2.0" fill="#8c8c8c"/>
<circle cx="193.69" cy="894.57" r="2.0" fill="#8c8c8c"/>
<circle cx="200.55" cy="894.50" r="2.0" fill="#8c8c8c"/>
<circle cx="193.28" cy="889.44" r="2.0" fill="#8c8c8c"/>
<circle cx="200.68" cy="890.06" r="2.0" fill="#8c8c8c"/>
<circle cx="197.30" cy="885.65" r="2.1" fill="#8c8c8c"/>
<circle cx="197.30" cy="906.40" r="2.1" fill="#8c8c8c"/>
<line x1="195.70" y1="897.26" x2="198.90" y2="897.26" stroke="#fff" stroke-width="0.9"/>
<line x1="210.10" y1="910.55" x2="210.10" y2="912.62" stroke="#1ec07e" stroke-width="1.6"/>
<line x1="210.10" y1="920.40" x2="210.10" y2="924.03" stroke="#1ec07e" stroke-width="1.6"/>
<rect x="205.90" y="912.62" width="8.40" height="7.78" fill="#fff" stroke="#1ec07e" stroke-width="1.7"/>
<line x1="205.90" y1="917.81" x2="214.30" y2="917.81" stroke="#1ec07e" stroke-width="1.4"/>
<circle cx="205.95" cy="920.25" r="2.0" fill="#1ec07e"/>
<circle cx="213.67" cy="920.31" r="2.0" fill="#1ec07e"/>
<circle cx="206.90" cy="917.22" r="2.0" fill="#1ec07e"/>
<circle cx="213.55" cy="917.36" r="2.0" fill="#1ec07e"/>
<circle cx="206.83" cy="915.66" r="2.0" fill="#1ec07e"/>
<circle cx="214.11" cy="915.46" r="2.0" fill="#1ec07e"/>
<circle cx="206.34" cy="913.02" r="2.0" fill="#1ec07e"/>
<circle cx="213.64" cy="912.45" r="2.0" fill="#1ec07e"/>
<circle cx="210.10" cy="910.55" r="2.1" fill="#1ec07e"/>
<circle cx="210.10" cy="924.03" r="2.1" fill="#1ec07e"/>
<line x1="208.50" y1="918.01" x2="211.70" y2="918.01" stroke="#fff" stroke-width="0.9"/>
<line x1="222.90" y1="885.65" x2="222.90" y2="888.25" stroke="#c8c014" stroke-width="1.6"/>
<line x1="222.90" y1="906.40" x2="222.90" y2="909.51" stroke="#c8c014" stroke-width="1.6"/>
<rect x="218.70" y="888.25" width="8.40" height="18.15" fill="#fff" stroke="#c8c014" stroke-width="1.7"/>
<line x1="218.70" y1="898.62" x2="227.10" y2="898.62" stroke="#c8c014" stroke-width="1.4"/>
<circle cx="219.68" cy="906.26" r="2.0" fill="#c8c014"/>
<circle cx="226.27" cy="907.68" r="2.0" fill="#c8c014"/>
<circle cx="219.30" cy="899.82" r="2.0" fill="#c8c014"/>
<circle cx="226.66" cy="900.89" r="2.0" fill="#c8c014"/>
<circle cx="219.44" cy="894.43" r="2.0" fill="#c8c014"/>
<circle cx="226.78" cy="893.44" r="2.0" fill="#c8c014"/>
<circle cx="219.15" cy="888.99" r="2.0" fill="#c8c014"/>
<circle cx="226.97" cy="888.17" r="2.0" fill="#c8c014"/>
<circle cx="222.90" cy="885.65" r="2.1" fill="#c8c014"/>
<circle cx="222.90" cy="909.51" r="2.1" fill="#c8c014"/>
<line x1="221.30" y1="898.82" x2="224.50" y2="898.82" stroke="#fff" stroke-width="0.9"/>
<line x1="235.70" y1="883.58" x2="235.70" y2="888.77" stroke="#ff4545" stroke-width="1.6"/>
<line x1="235.70" y1="905.36" x2="235.70" y2="912.11" stroke="#ff4545" stroke-width="1.6"/>
<rect x="231.50" y="888.77" width="8.40" height="16.60" fill="#fff" stroke="#ff4545" stroke-width="1.7"/>
<line x1="231.50" y1="890.84" x2="239.90" y2="890.84" stroke="#ff4545" stroke-width="1.4"/>
<circle cx="232.25" cy="904.75" r="2.0" fill="#ff4545"/>
<circle cx="238.97" cy="904.09" r="2.0" fill="#ff4545"/>
<circle cx="231.76" cy="900.05" r="2.0" fill="#ff4545"/>
<circle cx="239.36" cy="900.75" r="2.0" fill="#ff4545"/>
<circle cx="231.85" cy="895.52" r="2.0" fill="#ff4545"/>
<circle cx="239.45" cy="893.60" r="2.0" fill="#ff4545"/>
<circle cx="232.22" cy="887.77" r="2.0" fill="#ff4545"/>
<circle cx="239.47" cy="888.25" r="2.0" fill="#ff4545"/>
<circle cx="235.70" cy="883.58" r="2.1" fill="#ff4545"/>
<circle cx="235.70" cy="912.11" r="2.1" fill="#ff4545"/>
<line x1="234.10" y1="891.04" x2="237.30" y2="891.04" stroke="#fff" stroke-width="0.9"/>
<line x1="248.50" y1="909.51" x2="248.50" y2="914.18" stroke="#0a10c8" stroke-width="1.6"/>
<line x1="248.50" y1="921.44" x2="248.50" y2="925.07" stroke="#0a10c8" stroke-width="1.6"/>
<rect x="244.30" y="914.18" width="8.40" height="7.26" fill="#fff" stroke="#0a10c8" stroke-width="1.7"/>
<line x1="244.30" y1="919.37" x2="252.70" y2="919.37" stroke="#0a10c8" stroke-width="1.4"/>
<circle cx="244.87" cy="921.35" r="2.0" fill="#0a10c8"/>
<circle cx="252.64" cy="921.05" r="2.0" fill="#0a10c8"/>
<circle cx="244.65" cy="919.05" r="2.0" fill="#0a10c8"/>
<circle cx="252.39" cy="919.53" r="2.0" fill="#0a10c8"/>
<circle cx="244.31" cy="916.43" r="2.0" fill="#0a10c8"/>
<circle cx="251.95" cy="916.23" r="2.0" fill="#0a10c8"/>
<circle cx="244.65" cy="914.31" r="2.0" fill="#0a10c8"/>
<circle cx="252.13" cy="914.73" r="2.0" fill="#0a10c8"/>
<circle cx="248.50" cy="909.51" r="2.1" fill="#0a10c8"/>
<circle cx="248.50" cy="925.07" r="2.1" fill="#0a10c8"/>
<line x1="246.90" y1="919.57" x2="250.10" y2="919.57" stroke="#fff" stroke-width="0.9"/>
<line x1="261.30" y1="912.11" x2="261.30" y2="915.22" stroke="#a51ef0" stroke-width="1.6"/>
<line x1="261.30" y1="921.44" x2="261.30" y2="925.59" stroke="#a51ef0" stroke-width="1.6"/>
<rect x="257.10" y="915.22" width="8.40" height="6.22" fill="#fff" stroke="#a51ef0" stroke-width="1.7"/>
<line x1="257.10" y1="919.37" x2="265.50" y2="919.37" stroke="#a51ef0" stroke-width="1.4"/>
<circle cx="258.03" cy="921.77" r="2.0" fill="#a51ef0"/>
<circle cx="265.26" cy="921.88" r="2.0" fill="#a51ef0"/>
<circle cx="257.89" cy="919.74" r="2.0" fill="#a51ef0"/>
<circle cx="265.36" cy="919.48" r="2.0" fill="#a51ef0"/>
<circle cx="257.68" cy="917.71" r="2.0" fill="#a51ef0"/>
<circle cx="265.38" cy="917.24" r="2.0" fill="#a51ef0"/>
<circle cx="257.24" cy="914.90" r="2.0" fill="#a51ef0"/>
<circle cx="264.89" cy="915.44" r="2.0" fill="#a51ef0"/>
<circle cx="261.30" cy="912.11" r="2.1" fill="#a51ef0"/>
<circle cx="261.30" cy="925.59" r="2.1" fill="#a51ef0"/>
<line x1="259.70" y1="919.57" x2="262.90" y2="919.57" stroke="#fff" stroke-width="0.9"/>
<text x="210.10" y="904.70" font-size="6.6" font-weight="bold" text-anchor="middle" fill="#222" letter-spacing="-0.4">**</text>
<text x="222.90" y="880.00" font-size="8.0" text-anchor="middle" fill="#222">ns</text>
<text x="235.70" y="880.00" font-size="8.0" text-anchor="middle" fill="#222">ns</text>
<text x="248.50" y="903.40" font-size="6.6" font-weight="bold" text-anchor="middle" fill="#222" letter-spacing="-0.4">**</text>
<text x="261.30" y="904.70" font-size="6.6" font-weight="bold" text-anchor="middle" fill="#222" letter-spacing="-0.4">**</text>
<line x1="190.90" y1="866.60" x2="190.90" y2="946.30" stroke="#000" stroke-width="2.2"/>
<line x1="185.30" y1="945.30" x2="269.30" y2="945.30" stroke="#000" stroke-width="2.2"/>
<line x1="185.30" y1="945.30" x2="190.90" y2="945.30" stroke="#000" stroke-width="1.9"/>
<text x="182.90" y="947.60" font-size="6.6" text-anchor="end" fill="#222">0</text>
<line x1="185.30" y1="919.37" x2="190.90" y2="919.37" stroke="#000" stroke-width="1.9"/>
<text x="182.90" y="921.67" font-size="6.6" text-anchor="end" fill="#222">5</text>
<line x1="185.30" y1="893.43" x2="190.90" y2="893.43" stroke="#000" stroke-width="1.9"/>
<text x="182.90" y="895.73" font-size="6.6" text-anchor="end" fill="#222">10</text>
<line x1="185.30" y1="867.50" x2="190.90" y2="867.50" stroke="#000" stroke-width="1.9"/>
<text x="182.90" y="869.80" font-size="6.6" text-anchor="end" fill="#222">15</text>
<line x1="197.30" y1="945.30" x2="197.30" y2="951.30" stroke="#000" stroke-width="1.8"/>
<line x1="210.10" y1="945.30" x2="210.10" y2="951.30" stroke="#000" stroke-width="1.8"/>
<line x1="222.90" y1="945.30" x2="222.90" y2="951.30" stroke="#000" stroke-width="1.8"/>
<line x1="235.70" y1="945.30" x2="235.70" y2="951.30" stroke="#000" stroke-width="1.8"/>
<line x1="248.50" y1="945.30" x2="248.50" y2="951.30" stroke="#000" stroke-width="1.8"/>
<line x1="261.30" y1="945.30" x2="261.30" y2="951.30" stroke="#000" stroke-width="1.8"/>
<text x="152.00" y="909.20" font-size="10.7" font-weight="bold" fill="#000" text-anchor="middle" textLength="137.1" lengthAdjust="spacingAndGlyphs" transform="rotate(-90 152.00 909.20)">FoxP3<tspan font-size="6.4" dy="-3.4">+</tspan><tspan dy="3.4"></tspan> CD25<tspan font-size="6.4" dy="-3.4">+</tspan><tspan dy="3.4"></tspan> TCR-<tspan font-weight="normal">&#946;</tspan><tspan font-size="6.4" dy="-3.4">+</tspan><tspan dy="3.4"> Treg</tspan></text>
<text x="164.50" y="909.90" font-size="10.7" font-weight="bold" fill="#000" text-anchor="middle" textLength="96.6" lengthAdjust="spacingAndGlyphs" transform="rotate(-90 164.50 909.90)">(% in CD4<tspan font-size="6.4" dy="-3.4">+</tspan><tspan dy="3.4"> T cells)</tspan></text>
<circle cx="331.27" cy="880.47" r="2.05" fill="#8c8c8c"/>
<circle cx="336.56" cy="879.45" r="2.05" fill="#8c8c8c"/>
<circle cx="333.33" cy="879.34" r="2.05" fill="#8c8c8c"/>
<circle cx="331.33" cy="878.44" r="2.05" fill="#8c8c8c"/>
<circle cx="335.43" cy="878.38" r="2.05" fill="#8c8c8c"/>
<circle cx="333.57" cy="877.70" r="2.05" fill="#8c8c8c"/>
<circle cx="331.57" cy="876.63" r="2.05" fill="#8c8c8c"/>
<circle cx="336.66" cy="876.55" r="2.05" fill="#8c8c8c"/>
<circle cx="333.73" cy="875.73" r="2.05" fill="#8c8c8c"/>
<circle cx="331.16" cy="875.33" r="2.05" fill="#8c8c8c"/>
<circle cx="335.76" cy="874.78" r="2.05" fill="#8c8c8c"/>
<circle cx="334.59" cy="874.20" r="2.05" fill="#8c8c8c"/>
<circle cx="345.12" cy="893.61" r="2.05" fill="#1ec07e"/>
<circle cx="348.88" cy="892.91" r="2.05" fill="#1ec07e"/>
<circle cx="346.27" cy="892.66" r="2.05" fill="#1ec07e"/>
<circle cx="345.12" cy="892.11" r="2.05" fill="#1ec07e"/>
<circle cx="349.01" cy="891.90" r="2.05" fill="#1ec07e"/>
<circle cx="347.02" cy="891.32" r="2.05" fill="#1ec07e"/>
<circle cx="345.03" cy="891.04" r="2.05" fill="#1ec07e"/>
<circle cx="348.60" cy="890.56" r="2.05" fill="#1ec07e"/>
<circle cx="346.50" cy="890.03" r="2.05" fill="#1ec07e"/>
<circle cx="345.03" cy="889.82" r="2.05" fill="#1ec07e"/>
<circle cx="348.39" cy="889.68" r="2.05" fill="#1ec07e"/>
<circle cx="347.07" cy="889.33" r="2.05" fill="#1ec07e"/>
<circle cx="357.31" cy="884.27" r="2.05" fill="#c8c014"/>
<circle cx="361.98" cy="883.31" r="2.05" fill="#c8c014"/>
<circle cx="359.11" cy="882.78" r="2.05" fill="#c8c014"/>
<circle cx="356.94" cy="882.08" r="2.05" fill="#c8c014"/>
<circle cx="361.02" cy="881.64" r="2.05" fill="#c8c014"/>
<circle cx="359.28" cy="881.37" r="2.05" fill="#c8c014"/>
<circle cx="356.97" cy="881.08" r="2.05" fill="#c8c014"/>
<circle cx="361.59" cy="880.60" r="2.05" fill="#c8c014"/>
<circle cx="359.33" cy="879.80" r="2.05" fill="#c8c014"/>
<circle cx="357.77" cy="879.29" r="2.05" fill="#c8c014"/>
<circle cx="362.25" cy="879.10" r="2.05" fill="#c8c014"/>
<circle cx="359.05" cy="877.96" r="2.05" fill="#c8c014"/>
<circle cx="369.72" cy="895.53" r="2.05" fill="#ff4545"/>
<circle cx="374.37" cy="895.21" r="2.05" fill="#ff4545"/>
<circle cx="372.22" cy="894.37" r="2.05" fill="#ff4545"/>
<circle cx="369.99" cy="893.72" r="2.05" fill="#ff4545"/>
<circle cx="374.62" cy="893.67" r="2.05" fill="#ff4545"/>
<circle cx="372.00" cy="892.84" r="2.05" fill="#ff4545"/>
<circle cx="369.53" cy="892.68" r="2.05" fill="#ff4545"/>
<circle cx="373.92" cy="892.40" r="2.05" fill="#ff4545"/>
<circle cx="371.75" cy="891.38" r="2.05" fill="#ff4545"/>
<circle cx="370.13" cy="891.19" r="2.05" fill="#ff4545"/>
<circle cx="374.30" cy="890.83" r="2.05" fill="#ff4545"/>
<circle cx="372.73" cy="890.16" r="2.05" fill="#ff4545"/>
<circle cx="383.37" cy="905.18" r="2.05" fill="#0a10c8"/>
<circle cx="386.89" cy="904.55" r="2.05" fill="#0a10c8"/>
<circle cx="385.63" cy="904.03" r="2.05" fill="#0a10c8"/>
<circle cx="382.25" cy="903.88" r="2.05" fill="#0a10c8"/>
<circle cx="387.95" cy="903.58" r="2.05" fill="#0a10c8"/>
<circle cx="385.46" cy="903.00" r="2.05" fill="#0a10c8"/>
<circle cx="383.59" cy="902.35" r="2.05" fill="#0a10c8"/>
<circle cx="387.41" cy="901.73" r="2.05" fill="#0a10c8"/>
<circle cx="384.65" cy="901.12" r="2.05" fill="#0a10c8"/>
<circle cx="383.56" cy="900.91" r="2.05" fill="#0a10c8"/>
<circle cx="387.22" cy="900.18" r="2.05" fill="#0a10c8"/>
<circle cx="384.52" cy="900.00" r="2.05" fill="#0a10c8"/>
<circle cx="395.55" cy="904.94" r="2.05" fill="#a51ef0"/>
<circle cx="399.91" cy="904.55" r="2.05" fill="#a51ef0"/>
<circle cx="397.52" cy="904.12" r="2.05" fill="#a51ef0"/>
<circle cx="395.28" cy="903.87" r="2.05" fill="#a51ef0"/>
<circle cx="400.02" cy="903.44" r="2.05" fill="#a51ef0"/>
<circle cx="397.35" cy="902.68" r="2.05" fill="#a51ef0"/>
<circle cx="396.02" cy="902.31" r="2.05" fill="#a51ef0"/>
<circle cx="400.39" cy="902.07" r="2.05" fill="#a51ef0"/>
<circle cx="398.06" cy="901.41" r="2.05" fill="#a51ef0"/>
<circle cx="395.03" cy="900.77" r="2.05" fill="#a51ef0"/>
<circle cx="399.91" cy="900.33" r="2.05" fill="#a51ef0"/>
<circle cx="397.81" cy="900.03" r="2.05" fill="#a51ef0"/>
<text x="346.70" y="883.00" font-size="6.6" font-weight="bold" text-anchor="middle" fill="#222" letter-spacing="-0.4">*</text>
<text x="359.50" y="872.50" font-size="8.0" text-anchor="middle" fill="#222">ns</text>
<text x="372.30" y="883.00" font-size="6.6" font-weight="bold" text-anchor="middle" fill="#222" letter-spacing="-0.4">*</text>
<text x="385.10" y="895.00" font-size="6.6" font-weight="bold" text-anchor="middle" fill="#222" letter-spacing="-0.4">**</text>
<text x="397.90" y="895.00" font-size="6.6" font-weight="bold" text-anchor="middle" fill="#222" letter-spacing="-0.4">**</text>
<line x1="327.50" y1="866.60" x2="327.50" y2="946.30" stroke="#000" stroke-width="2.2"/>
<line x1="321.90" y1="945.30" x2="405.90" y2="945.30" stroke="#000" stroke-width="2.2"/>
<line x1="321.90" y1="945.30" x2="327.50" y2="945.30" stroke="#000" stroke-width="1.9"/>
<text x="319.50" y="947.60" font-size="6.6" text-anchor="end" fill="#222">0</text>
<line x1="321.90" y1="925.85" x2="327.50" y2="925.85" stroke="#000" stroke-width="1.9"/>
<text x="319.50" y="928.15" font-size="6.6" text-anchor="end" fill="#222">1</text>
<line x1="321.90" y1="906.40" x2="327.50" y2="906.40" stroke="#000" stroke-width="1.9"/>
<text x="319.50" y="908.70" font-size="6.6" text-anchor="end" fill="#222">2</text>
<line x1="321.90" y1="886.95" x2="327.50" y2="886.95" stroke="#000" stroke-width="1.9"/>
<text x="319.50" y="889.25" font-size="6.6" text-anchor="end" fill="#222">3</text>
<line x1="321.90" y1="867.50" x2="327.50" y2="867.50" stroke="#000" stroke-width="1.9"/>
<text x="319.50" y="869.80" font-size="6.6" text-anchor="end" fill="#222">4</text>
<line x1="333.90" y1="945.30" x2="333.90" y2="951.30" stroke="#000" stroke-width="1.8"/>
<line x1="346.70" y1="945.30" x2="346.70" y2="951.30" stroke="#000" stroke-width="1.8"/>
<line x1="359.50" y1="945.30" x2="359.50" y2="951.30" stroke="#000" stroke-width="1.8"/>
<line x1="372.30" y1="945.30" x2="372.30" y2="951.30" stroke="#000" stroke-width="1.8"/>
<line x1="385.10" y1="945.30" x2="385.10" y2="951.30" stroke="#000" stroke-width="1.8"/>
<line x1="397.90" y1="945.30" x2="397.90" y2="951.30" stroke="#000" stroke-width="1.8"/>
<text x="290.50" y="910.00" font-size="10.7" font-weight="bold" fill="#000" text-anchor="middle" textLength="105.3" lengthAdjust="spacingAndGlyphs" transform="rotate(-90 290.50 910.00)">CD11b<tspan font-size="6.4" dy="-3.4">+</tspan><tspan dy="3.4"></tspan>Ly6G<tspan font-size="6.4" dy="-3.4">+</tspan><tspan dy="3.4"> MDSC</tspan></text>
<text x="303.00" y="910.40" font-size="10.7" font-weight="bold" fill="#000" text-anchor="middle" textLength="63.2" lengthAdjust="spacingAndGlyphs" transform="rotate(-90 303.00 910.40)">(% in tumor)</text>
<circle cx="472.28" cy="914.27" r="2.05" fill="#8c8c8c"/>
<circle cx="476.33" cy="914.08" r="2.05" fill="#8c8c8c"/>
<circle cx="474.52" cy="913.93" r="2.05" fill="#8c8c8c"/>
<circle cx="471.52" cy="913.51" r="2.05" fill="#8c8c8c"/>
<circle cx="476.03" cy="913.46" r="2.05" fill="#8c8c8c"/>
<circle cx="473.66" cy="913.13" r="2.05" fill="#8c8c8c"/>
<circle cx="472.01" cy="912.81" r="2.05" fill="#8c8c8c"/>
<circle cx="476.99" cy="912.77" r="2.05" fill="#8c8c8c"/>
<circle cx="474.33" cy="912.43" r="2.05" fill="#8c8c8c"/>
<circle cx="472.38" cy="912.18" r="2.05" fill="#8c8c8c"/>
<circle cx="476.24" cy="912.14" r="2.05" fill="#8c8c8c"/>
<circle cx="474.54" cy="911.80" r="2.05" fill="#8c8c8c"/>
<circle cx="485.33" cy="933.07" r="2.05" fill="#1ec07e"/>
<circle cx="488.58" cy="932.74" r="2.05" fill="#1ec07e"/>
<circle cx="486.83" cy="932.33" r="2.05" fill="#1ec07e"/>
<circle cx="484.79" cy="932.05" r="2.05" fill="#1ec07e"/>
<circle cx="488.53" cy="931.91" r="2.05" fill="#1ec07e"/>
<circle cx="486.89" cy="931.77" r="2.05" fill="#1ec07e"/>
<circle cx="485.37" cy="931.45" r="2.05" fill="#1ec07e"/>
<circle cx="488.66" cy="931.21" r="2.05" fill="#1ec07e"/>
<circle cx="487.14" cy="930.92" r="2.05" fill="#1ec07e"/>
<circle cx="484.27" cy="930.47" r="2.05" fill="#1ec07e"/>
<circle cx="489.31" cy="930.44" r="2.05" fill="#1ec07e"/>
<circle cx="487.55" cy="929.92" r="2.05" fill="#1ec07e"/>
<circle cx="497.71" cy="914.55" r="2.05" fill="#c8c014"/>
<circle cx="501.54" cy="914.36" r="2.05" fill="#c8c014"/>
<circle cx="499.95" cy="914.08" r="2.05" fill="#c8c014"/>
<circle cx="498.24" cy="913.65" r="2.05" fill="#c8c014"/>
<circle cx="501.38" cy="913.58" r="2.05" fill="#c8c014"/>
<circle cx="499.88" cy="913.30" r="2.05" fill="#c8c014"/>
<circle cx="497.75" cy="912.88" r="2.05" fill="#c8c014"/>
<circle cx="501.51" cy="912.47" r="2.05" fill="#c8c014"/>
<circle cx="499.48" cy="912.39" r="2.05" fill="#c8c014"/>
<circle cx="498.29" cy="912.14" r="2.05" fill="#c8c014"/>
<circle cx="502.70" cy="911.79" r="2.05" fill="#c8c014"/>
<circle cx="499.27" cy="911.74" r="2.05" fill="#c8c014"/>
<circle cx="510.52" cy="915.97" r="2.05" fill="#ff4545"/>
<circle cx="514.73" cy="915.71" r="2.05" fill="#ff4545"/>
<circle cx="512.46" cy="915.71" r="2.05" fill="#ff4545"/>
<circle cx="511.08" cy="915.41" r="2.05" fill="#ff4545"/>
<circle cx="514.90" cy="915.38" r="2.05" fill="#ff4545"/>
<circle cx="511.93" cy="915.09" r="2.05" fill="#ff4545"/>
<circle cx="510.82" cy="914.81" r="2.05" fill="#ff4545"/>
<circle cx="514.56" cy="914.64" r="2.05" fill="#ff4545"/>
<circle cx="512.51" cy="914.39" r="2.05" fill="#ff4545"/>
<circle cx="510.00" cy="914.39" r="2.05" fill="#ff4545"/>
<circle cx="514.72" cy="914.13" r="2.05" fill="#ff4545"/>
<circle cx="512.35" cy="913.79" r="2.05" fill="#ff4545"/>
<circle cx="522.82" cy="934.24" r="2.05" fill="#0a10c8"/>
<circle cx="528.25" cy="933.78" r="2.05" fill="#0a10c8"/>
<circle cx="525.26" cy="933.71" r="2.05" fill="#0a10c8"/>
<circle cx="523.02" cy="933.22" r="2.05" fill="#0a10c8"/>
<circle cx="528.10" cy="933.20" r="2.05" fill="#0a10c8"/>
<circle cx="525.22" cy="932.68" r="2.05" fill="#0a10c8"/>
<circle cx="523.43" cy="932.41" r="2.05" fill="#0a10c8"/>
<circle cx="527.14" cy="932.27" r="2.05" fill="#0a10c8"/>
<circle cx="525.88" cy="931.93" r="2.05" fill="#0a10c8"/>
<circle cx="522.86" cy="931.84" r="2.05" fill="#0a10c8"/>
<circle cx="526.97" cy="931.40" r="2.05" fill="#0a10c8"/>
<circle cx="526.07" cy="931.26" r="2.05" fill="#0a10c8"/>
<circle cx="536.09" cy="930.32" r="2.05" fill="#a51ef0"/>
<circle cx="539.89" cy="929.84" r="2.05" fill="#a51ef0"/>
<circle cx="537.62" cy="929.60" r="2.05" fill="#a51ef0"/>
<circle cx="536.08" cy="929.49" r="2.05" fill="#a51ef0"/>
<circle cx="540.67" cy="929.46" r="2.05" fill="#a51ef0"/>
<circle cx="537.59" cy="929.22" r="2.05" fill="#a51ef0"/>
<circle cx="535.93" cy="928.94" r="2.05" fill="#a51ef0"/>
<circle cx="540.69" cy="928.66" r="2.05" fill="#a51ef0"/>
<circle cx="538.57" cy="928.36" r="2.05" fill="#a51ef0"/>
<circle cx="535.84" cy="928.02" r="2.05" fill="#a51ef0"/>
<circle cx="540.94" cy="927.99" r="2.05" fill="#a51ef0"/>
<circle cx="537.74" cy="927.83" r="2.05" fill="#a51ef0"/>
<text x="487.00" y="920.70" font-size="6.6" font-weight="bold" text-anchor="middle" fill="#222" letter-spacing="-0.4">*</text>
<text x="499.80" y="902.80" font-size="8.0" text-anchor="middle" fill="#222">ns</text>
<text x="512.60" y="908.90" font-size="8.0" text-anchor="middle" fill="#222">ns</text>
<text x="525.40" y="923.90" font-size="6.6" font-weight="bold" text-anchor="middle" fill="#222" letter-spacing="-0.4">*</text>
<text x="538.20" y="920.70" font-size="6.6" font-weight="bold" text-anchor="middle" fill="#222" letter-spacing="-0.4">*</text>
<line x1="467.80" y1="866.60" x2="467.80" y2="946.30" stroke="#000" stroke-width="2.2"/>
<line x1="462.20" y1="945.30" x2="546.20" y2="945.30" stroke="#000" stroke-width="2.2"/>
<line x1="462.20" y1="945.30" x2="467.80" y2="945.30" stroke="#000" stroke-width="1.9"/>
<text x="459.80" y="947.60" font-size="6.6" text-anchor="end" fill="#222">0.0</text>
<line x1="462.20" y1="925.85" x2="467.80" y2="925.85" stroke="#000" stroke-width="1.9"/>
<text x="459.80" y="928.15" font-size="6.6" text-anchor="end" fill="#222">0.5</text>
<line x1="462.20" y1="906.40" x2="467.80" y2="906.40" stroke="#000" stroke-width="1.9"/>
<text x="459.80" y="908.70" font-size="6.6" text-anchor="end" fill="#222">1.0</text>
<line x1="462.20" y1="886.95" x2="467.80" y2="886.95" stroke="#000" stroke-width="1.9"/>
<text x="459.80" y="889.25" font-size="6.6" text-anchor="end" fill="#222">1.5</text>
<line x1="462.20" y1="867.50" x2="467.80" y2="867.50" stroke="#000" stroke-width="1.9"/>
<text x="459.80" y="869.80" font-size="6.6" text-anchor="end" fill="#222">2.0</text>
<line x1="474.20" y1="945.30" x2="474.20" y2="951.30" stroke="#000" stroke-width="1.8"/>
<line x1="487.00" y1="945.30" x2="487.00" y2="951.30" stroke="#000" stroke-width="1.8"/>
<line x1="499.80" y1="945.30" x2="499.80" y2="951.30" stroke="#000" stroke-width="1.8"/>
<line x1="512.60" y1="945.30" x2="512.60" y2="951.30" stroke="#000" stroke-width="1.8"/>
<line x1="525.40" y1="945.30" x2="525.40" y2="951.30" stroke="#000" stroke-width="1.8"/>
<line x1="538.20" y1="945.30" x2="538.20" y2="951.30" stroke="#000" stroke-width="1.8"/>
<text x="429.00" y="910.00" font-size="10.7" font-weight="bold" fill="#000" text-anchor="middle" textLength="104.8" lengthAdjust="spacingAndGlyphs" transform="rotate(-90 429.00 910.00)">CD11b<tspan font-size="6.4" dy="-3.4">+</tspan><tspan dy="3.4"></tspan>Ly6C<tspan font-size="6.4" dy="-3.4">+</tspan><tspan dy="3.4"> MDSC</tspan></text>
<text x="441.00" y="910.40" font-size="10.7" font-weight="bold" fill="#000" text-anchor="middle" textLength="63.2" lengthAdjust="spacingAndGlyphs" transform="rotate(-90 441.00 910.40)">(% in tumor)</text>
<line x1="612.70" y1="876.32" x2="612.70" y2="879.95" stroke="#8c8c8c" stroke-width="1.6"/>
<line x1="612.70" y1="894.99" x2="612.70" y2="898.10" stroke="#8c8c8c" stroke-width="1.6"/>
<rect x="608.50" y="879.95" width="8.40" height="15.04" fill="#fff" stroke="#8c8c8c" stroke-width="1.7"/>
<line x1="608.50" y1="888.25" x2="616.90" y2="888.25" stroke="#8c8c8c" stroke-width="1.4"/>
<circle cx="609.10" cy="894.82" r="2.0" fill="#8c8c8c"/>
<circle cx="616.07" cy="894.80" r="2.0" fill="#8c8c8c"/>
<circle cx="608.69" cy="889.22" r="2.0" fill="#8c8c8c"/>
<circle cx="616.02" cy="889.61" r="2.0" fill="#8c8c8c"/>
<circle cx="609.21" cy="884.91" r="2.0" fill="#8c8c8c"/>
<circle cx="616.85" cy="885.56" r="2.0" fill="#8c8c8c"/>
<circle cx="609.50" cy="878.75" r="2.0" fill="#8c8c8c"/>
<circle cx="616.48" cy="879.08" r="2.0" fill="#8c8c8c"/>
<circle cx="612.70" cy="876.32" r="2.1" fill="#8c8c8c"/>
<circle cx="612.70" cy="898.10" r="2.1" fill="#8c8c8c"/>
<line x1="611.10" y1="888.45" x2="614.30" y2="888.45" stroke="#fff" stroke-width="0.9"/>
<circle cx="622.61" cy="920.72" r="2.05" fill="#1ec07e"/>
<circle cx="627.19" cy="920.20" r="2.05" fill="#1ec07e"/>
<circle cx="626.12" cy="919.26" r="2.05" fill="#1ec07e"/>
<circle cx="623.02" cy="918.84" r="2.05" fill="#1ec07e"/>
<circle cx="627.51" cy="918.04" r="2.05" fill="#1ec07e"/>
<circle cx="626.06" cy="917.45" r="2.05" fill="#1ec07e"/>
<circle cx="623.04" cy="917.31" r="2.05" fill="#1ec07e"/>
<circle cx="627.77" cy="916.15" r="2.05" fill="#1ec07e"/>
<circle cx="625.41" cy="915.36" r="2.05" fill="#1ec07e"/>
<circle cx="622.69" cy="914.77" r="2.05" fill="#1ec07e"/>
<circle cx="627.82" cy="914.47" r="2.05" fill="#1ec07e"/>
<circle cx="625.98" cy="914.36" r="2.05" fill="#1ec07e"/>
<line x1="638.30" y1="888.25" x2="638.30" y2="891.36" stroke="#c8c014" stroke-width="1.6"/>
<line x1="638.30" y1="898.62" x2="638.30" y2="901.73" stroke="#c8c014" stroke-width="1.6"/>
<rect x="634.10" y="891.36" width="8.40" height="7.26" fill="#fff" stroke="#c8c014" stroke-width="1.7"/>
<line x1="634.10" y1="895.51" x2="642.50" y2="895.51" stroke="#c8c014" stroke-width="1.4"/>
<circle cx="634.91" cy="899.02" r="2.0" fill="#c8c014"/>
<circle cx="641.49" cy="898.72" r="2.0" fill="#c8c014"/>
<circle cx="634.29" cy="896.20" r="2.0" fill="#c8c014"/>
<circle cx="642.01" cy="896.02" r="2.0" fill="#c8c014"/>
<circle cx="634.99" cy="893.37" r="2.0" fill="#c8c014"/>
<circle cx="641.84" cy="893.70" r="2.0" fill="#c8c014"/>
<circle cx="635.03" cy="891.24" r="2.0" fill="#c8c014"/>
<circle cx="641.55" cy="891.04" r="2.0" fill="#c8c014"/>
<circle cx="638.30" cy="888.25" r="2.1" fill="#c8c014"/>
<circle cx="638.30" cy="901.73" r="2.1" fill="#c8c014"/>
<line x1="636.70" y1="895.71" x2="639.90" y2="895.71" stroke="#fff" stroke-width="0.9"/>
<line x1="651.10" y1="889.80" x2="651.10" y2="893.43" stroke="#ff4545" stroke-width="1.6"/>
<line x1="651.10" y1="905.88" x2="651.10" y2="910.55" stroke="#ff4545" stroke-width="1.6"/>
<rect x="646.90" y="893.43" width="8.40" height="12.45" fill="#fff" stroke="#ff4545" stroke-width="1.7"/>
<line x1="646.90" y1="897.06" x2="655.30" y2="897.06" stroke="#ff4545" stroke-width="1.4"/>
<circle cx="647.10" cy="906.55" r="2.0" fill="#ff4545"/>
<circle cx="654.70" cy="904.99" r="2.0" fill="#ff4545"/>
<circle cx="647.69" cy="901.90" r="2.0" fill="#ff4545"/>
<circle cx="654.90" cy="902.18" r="2.0" fill="#ff4545"/>
<circle cx="647.82" cy="898.22" r="2.0" fill="#ff4545"/>
<circle cx="654.42" cy="897.67" r="2.0" fill="#ff4545"/>
<circle cx="647.09" cy="893.14" r="2.0" fill="#ff4545"/>
<circle cx="654.75" cy="892.88" r="2.0" fill="#ff4545"/>
<circle cx="651.10" cy="889.80" r="2.1" fill="#ff4545"/>
<circle cx="651.10" cy="910.55" r="2.1" fill="#ff4545"/>
<line x1="649.50" y1="897.26" x2="652.70" y2="897.26" stroke="#fff" stroke-width="0.9"/>
<circle cx="661.34" cy="928.79" r="2.05" fill="#0a10c8"/>
<circle cx="666.14" cy="928.11" r="2.05" fill="#0a10c8"/>
<circle cx="664.47" cy="927.88" r="2.05" fill="#0a10c8"/>
<circle cx="661.73" cy="926.66" r="2.05" fill="#0a10c8"/>
<circle cx="666.24" cy="926.39" r="2.05" fill="#0a10c8"/>
<circle cx="663.29" cy="925.79" r="2.05" fill="#0a10c8"/>
<circle cx="661.69" cy="925.39" r="2.05" fill="#0a10c8"/>
<circle cx="666.05" cy="924.47" r="2.05" fill="#0a10c8"/>
<circle cx="663.76" cy="923.75" r="2.05" fill="#0a10c8"/>
<circle cx="661.59" cy="923.31" r="2.05" fill="#0a10c8"/>
<circle cx="666.22" cy="922.29" r="2.05" fill="#0a10c8"/>
<circle cx="663.95" cy="921.85" r="2.05" fill="#0a10c8"/>
<circle cx="675.19" cy="933.16" r="2.05" fill="#a51ef0"/>
<circle cx="678.88" cy="932.93" r="2.05" fill="#a51ef0"/>
<circle cx="676.64" cy="932.33" r="2.05" fill="#a51ef0"/>
<circle cx="674.41" cy="931.57" r="2.05" fill="#a51ef0"/>
<circle cx="678.90" cy="931.48" r="2.05" fill="#a51ef0"/>
<circle cx="676.63" cy="931.28" r="2.05" fill="#a51ef0"/>
<circle cx="674.82" cy="930.87" r="2.05" fill="#a51ef0"/>
<circle cx="679.46" cy="930.11" r="2.05" fill="#a51ef0"/>
<circle cx="676.98" cy="929.98" r="2.05" fill="#a51ef0"/>
<circle cx="674.39" cy="929.52" r="2.05" fill="#a51ef0"/>
<circle cx="679.11" cy="929.08" r="2.05" fill="#a51ef0"/>
<circle cx="677.27" cy="928.43" r="2.05" fill="#a51ef0"/>
<text x="625.50" y="905.80" font-size="6.6" font-weight="bold" text-anchor="middle" fill="#222" letter-spacing="-0.4">**</text>
<text x="638.30" y="882.90" font-size="8.0" text-anchor="middle" fill="#222">ns</text>
<text x="651.10" y="888.50" font-size="8.0" text-anchor="middle" fill="#222">ns</text>
<text x="663.90" y="915.40" font-size="6.6" font-weight="bold" text-anchor="middle" fill="#222" letter-spacing="-0.4">**</text>
<text x="676.70" y="923.40" font-size="6.6" font-weight="bold" text-anchor="middle" fill="#222" letter-spacing="-0.4">***</text>
<line x1="606.30" y1="866.60" x2="606.30" y2="946.30" stroke="#000" stroke-width="2.2"/>
<line x1="600.70" y1="945.30" x2="684.70" y2="945.30" stroke="#000" stroke-width="2.2"/>
<line x1="600.70" y1="945.30" x2="606.30" y2="945.30" stroke="#000" stroke-width="1.9"/>
<text x="598.30" y="947.60" font-size="6.6" text-anchor="end" fill="#222">0.0</text>
<line x1="600.70" y1="919.37" x2="606.30" y2="919.37" stroke="#000" stroke-width="1.9"/>
<text x="598.30" y="921.67" font-size="6.6" text-anchor="end" fill="#222">0.5</text>
<line x1="600.70" y1="893.43" x2="606.30" y2="893.43" stroke="#000" stroke-width="1.9"/>
<text x="598.30" y="895.73" font-size="6.6" text-anchor="end" fill="#222">1.0</text>
<line x1="600.70" y1="867.50" x2="606.30" y2="867.50" stroke="#000" stroke-width="1.9"/>
<text x="598.30" y="869.80" font-size="6.6" text-anchor="end" fill="#222">1.5</text>
<line x1="612.70" y1="945.30" x2="612.70" y2="951.30" stroke="#000" stroke-width="1.8"/>
<line x1="625.50" y1="945.30" x2="625.50" y2="951.30" stroke="#000" stroke-width="1.8"/>
<line x1="638.30" y1="945.30" x2="638.30" y2="951.30" stroke="#000" stroke-width="1.8"/>
<line x1="651.10" y1="945.30" x2="651.10" y2="951.30" stroke="#000" stroke-width="1.8"/>
<line x1="663.90" y1="945.30" x2="663.90" y2="951.30" stroke="#000" stroke-width="1.8"/>
<line x1="676.70" y1="945.30" x2="676.70" y2="951.30" stroke="#000" stroke-width="1.8"/>
<text x="567.50" y="910.10" font-size="10.7" font-weight="bold" fill="#000" text-anchor="middle" textLength="63.8" lengthAdjust="spacingAndGlyphs" transform="rotate(-90 567.50 910.10)">CD206<tspan font-size="6.4" dy="-3.4">+</tspan><tspan dy="3.4"> TAM</tspan></text>
<text x="580.30" y="910.40" font-size="10.7" font-weight="bold" fill="#000" text-anchor="middle" textLength="63.2" lengthAdjust="spacingAndGlyphs" transform="rotate(-90 580.30 910.40)">(% in tumor)</text>
<text x="50.80" y="966.40" font-size="10.8" font-weight="bold" text-anchor="end" fill="#000"><tspan font-weight="normal">&#945;</tspan>PD-L1</text>
<line x1="56.40" y1="963.10" x2="59.80" y2="963.10" stroke="#000" stroke-width="1.6"/>
<line x1="68.00" y1="963.10" x2="73.80" y2="963.10" stroke="#000" stroke-width="1.6"/>
<line x1="70.90" y1="960.20" x2="70.90" y2="966.00" stroke="#000" stroke-width="1.6"/>
<line x1="82.00" y1="963.10" x2="85.40" y2="963.10" stroke="#000" stroke-width="1.6"/>
<line x1="94.80" y1="963.10" x2="98.20" y2="963.10" stroke="#000" stroke-width="1.6"/>
<line x1="106.40" y1="963.10" x2="112.20" y2="963.10" stroke="#000" stroke-width="1.6"/>
<line x1="109.30" y1="960.20" x2="109.30" y2="966.00" stroke="#000" stroke-width="1.6"/>
<line x1="119.20" y1="963.10" x2="125.00" y2="963.10" stroke="#000" stroke-width="1.6"/>
<line x1="122.10" y1="960.20" x2="122.10" y2="966.00" stroke="#000" stroke-width="1.6"/>
<line x1="195.60" y1="963.10" x2="199.00" y2="963.10" stroke="#000" stroke-width="1.6"/>
<line x1="207.20" y1="963.10" x2="213.00" y2="963.10" stroke="#000" stroke-width="1.6"/>
<line x1="210.10" y1="960.20" x2="210.10" y2="966.00" stroke="#000" stroke-width="1.6"/>
<line x1="221.20" y1="963.10" x2="224.60" y2="963.10" stroke="#000" stroke-width="1.6"/>
<line x1="234.00" y1="963.10" x2="237.40" y2="963.10" stroke="#000" stroke-width="1.6"/>
<line x1="245.60" y1="963.10" x2="251.40" y2="963.10" stroke="#000" stroke-width="1.6"/>
<line x1="248.50" y1="960.20" x2="248.50" y2="966.00" stroke="#000" stroke-width="1.6"/>
<line x1="258.40" y1="963.10" x2="264.20" y2="963.10" stroke="#000" stroke-width="1.6"/>
<line x1="261.30" y1="960.20" x2="261.30" y2="966.00" stroke="#000" stroke-width="1.6"/>
<line x1="332.20" y1="963.10" x2="335.60" y2="963.10" stroke="#000" stroke-width="1.6"/>
<line x1="343.80" y1="963.10" x2="349.60" y2="963.10" stroke="#000" stroke-width="1.6"/>
<line x1="346.70" y1="960.20" x2="346.70" y2="966.00" stroke="#000" stroke-width="1.6"/>
<line x1="357.80" y1="963.10" x2="361.20" y2="963.10" stroke="#000" stroke-width="1.6"/>
<line x1="370.60" y1="963.10" x2="374.00" y2="963.10" stroke="#000" stroke-width="1.6"/>
<line x1="382.20" y1="963.10" x2="388.00" y2="963.10" stroke="#000" stroke-width="1.6"/>
<line x1="385.10" y1="960.20" x2="385.10" y2="966.00" stroke="#000" stroke-width="1.6"/>
<line x1="395.00" y1="963.10" x2="400.80" y2="963.10" stroke="#000" stroke-width="1.6"/>
<line x1="397.90" y1="960.20" x2="397.90" y2="966.00" stroke="#000" stroke-width="1.6"/>
<line x1="472.50" y1="963.10" x2="475.90" y2="963.10" stroke="#000" stroke-width="1.6"/>
<line x1="484.10" y1="963.10" x2="489.90" y2="963.10" stroke="#000" stroke-width="1.6"/>
<line x1="487.00" y1="960.20" x2="487.00" y2="966.00" stroke="#000" stroke-width="1.6"/>
<line x1="498.10" y1="963.10" x2="501.50" y2="963.10" stroke="#000" stroke-width="1.6"/>
<line x1="510.90" y1="963.10" x2="514.30" y2="963.10" stroke="#000" stroke-width="1.6"/>
<line x1="522.50" y1="963.10" x2="528.30" y2="963.10" stroke="#000" stroke-width="1.6"/>
<line x1="525.40" y1="960.20" x2="525.40" y2="966.00" stroke="#000" stroke-width="1.6"/>
<line x1="535.30" y1="963.10" x2="541.10" y2="963.10" stroke="#000" stroke-width="1.6"/>
<line x1="538.20" y1="960.20" x2="538.20" y2="966.00" stroke="#000" stroke-width="1.6"/>
<line x1="611.00" y1="963.10" x2="614.40" y2="963.10" stroke="#000" stroke-width="1.6"/>
<line x1="622.60" y1="963.10" x2="628.40" y2="963.10" stroke="#000" stroke-width="1.6"/>
<line x1="625.50" y1="960.20" x2="625.50" y2="966.00" stroke="#000" stroke-width="1.6"/>
<line x1="636.60" y1="963.10" x2="640.00" y2="963.10" stroke="#000" stroke-width="1.6"/>
<line x1="649.40" y1="963.10" x2="652.80" y2="963.10" stroke="#000" stroke-width="1.6"/>
<line x1="661.00" y1="963.10" x2="666.80" y2="963.10" stroke="#000" stroke-width="1.6"/>
<line x1="663.90" y1="960.20" x2="663.90" y2="966.00" stroke="#000" stroke-width="1.6"/>
<line x1="673.80" y1="963.10" x2="679.60" y2="963.10" stroke="#000" stroke-width="1.6"/>
<line x1="676.70" y1="960.20" x2="676.70" y2="966.00" stroke="#000" stroke-width="1.6"/>
<text x="50.80" y="981.90" font-size="10.8" font-weight="bold" text-anchor="end" fill="#000">V-9302</text>
<line x1="56.40" y1="978.60" x2="59.80" y2="978.60" stroke="#000" stroke-width="1.6"/>
<line x1="69.20" y1="978.60" x2="72.60" y2="978.60" stroke="#000" stroke-width="1.6"/>
<line x1="80.80" y1="978.60" x2="86.60" y2="978.60" stroke="#000" stroke-width="1.6"/>
<line x1="83.70" y1="975.70" x2="83.70" y2="981.50" stroke="#000" stroke-width="1.6"/>
<line x1="94.80" y1="978.60" x2="98.20" y2="978.60" stroke="#000" stroke-width="1.6"/>
<line x1="106.40" y1="978.60" x2="112.20" y2="978.60" stroke="#000" stroke-width="1.6"/>
<line x1="109.30" y1="975.70" x2="109.30" y2="981.50" stroke="#000" stroke-width="1.6"/>
<line x1="120.40" y1="978.60" x2="123.80" y2="978.60" stroke="#000" stroke-width="1.6"/>
<line x1="195.60" y1="978.60" x2="199.00" y2="978.60" stroke="#000" stroke-width="1.6"/>
<line x1="208.40" y1="978.60" x2="211.80" y2="978.60" stroke="#000" stroke-width="1.6"/>
<line x1="220.00" y1="978.60" x2="225.80" y2="978.60" stroke="#000" stroke-width="1.6"/>
<line x1="222.90" y1="975.70" x2="222.90" y2="981.50" stroke="#000" stroke-width="1.6"/>
<line x1="234.00" y1="978.60" x2="237.40" y2="978.60" stroke="#000" stroke-width="1.6"/>
<line x1="245.60" y1="978.60" x2="251.40" y2="978.60" stroke="#000" stroke-width="1.6"/>
<line x1="248.50" y1="975.70" x2="248.50" y2="981.50" stroke="#000" stroke-width="1.6"/>
<line x1="259.60" y1="978.60" x2="263.00" y2="978.60" stroke="#000" stroke-width="1.6"/>
<line x1="332.20" y1="978.60" x2="335.60" y2="978.60" stroke="#000" stroke-width="1.6"/>
<line x1="345.00" y1="978.60" x2="348.40" y2="978.60" stroke="#000" stroke-width="1.6"/>
<line x1="356.60" y1="978.60" x2="362.40" y2="978.60" stroke="#000" stroke-width="1.6"/>
<line x1="359.50" y1="975.70" x2="359.50" y2="981.50" stroke="#000" stroke-width="1.6"/>
<line x1="370.60" y1="978.60" x2="374.00" y2="978.60" stroke="#000" stroke-width="1.6"/>
<line x1="382.20" y1="978.60" x2="388.00" y2="978.60" stroke="#000" stroke-width="1.6"/>
<line x1="385.10" y1="975.70" x2="385.10" y2="981.50" stroke="#000" stroke-width="1.6"/>
<line x1="396.20" y1="978.60" x2="399.60" y2="978.60" stroke="#000" stroke-width="1.6"/>
<line x1="472.50" y1="978.60" x2="475.90" y2="978.60" stroke="#000" stroke-width="1.6"/>
<line x1="485.30" y1="978.60" x2="488.70" y2="978.60" stroke="#000" stroke-width="1.6"/>
<line x1="496.90" y1="978.60" x2="502.70" y2="978.60" stroke="#000" stroke-width="1.6"/>
<line x1="499.80" y1="975.70" x2="499.80" y2="981.50" stroke="#000" stroke-width="1.6"/>
<line x1="510.90" y1="978.60" x2="514.30" y2="978.60" stroke="#000" stroke-width="1.6"/>
<line x1="522.50" y1="978.60" x2="528.30" y2="978.60" stroke="#000" stroke-width="1.6"/>
<line x1="525.40" y1="975.70" x2="525.40" y2="981.50" stroke="#000" stroke-width="1.6"/>
<line x1="536.50" y1="978.60" x2="539.90" y2="978.60" stroke="#000" stroke-width="1.6"/>
<line x1="611.00" y1="978.60" x2="614.40" y2="978.60" stroke="#000" stroke-width="1.6"/>
<line x1="623.80" y1="978.60" x2="627.20" y2="978.60" stroke="#000" stroke-width="1.6"/>
<line x1="635.40" y1="978.60" x2="641.20" y2="978.60" stroke="#000" stroke-width="1.6"/>
<line x1="638.30" y1="975.70" x2="638.30" y2="981.50" stroke="#000" stroke-width="1.6"/>
<line x1="649.40" y1="978.60" x2="652.80" y2="978.60" stroke="#000" stroke-width="1.6"/>
<line x1="661.00" y1="978.60" x2="666.80" y2="978.60" stroke="#000" stroke-width="1.6"/>
<line x1="663.90" y1="975.70" x2="663.90" y2="981.50" stroke="#000" stroke-width="1.6"/>
<line x1="675.00" y1="978.60" x2="678.40" y2="978.60" stroke="#000" stroke-width="1.6"/>
<text x="50.80" y="997.40" font-size="10.8" font-weight="bold" text-anchor="end" fill="#000">iMQT_020</text>
<line x1="56.40" y1="994.10" x2="59.80" y2="994.10" stroke="#000" stroke-width="1.6"/>
<line x1="69.20" y1="994.10" x2="72.60" y2="994.10" stroke="#000" stroke-width="1.6"/>
<line x1="82.00" y1="994.10" x2="85.40" y2="994.10" stroke="#000" stroke-width="1.6"/>
<line x1="93.60" y1="994.10" x2="99.40" y2="994.10" stroke="#000" stroke-width="1.6"/>
<line x1="96.50" y1="991.20" x2="96.50" y2="997.00" stroke="#000" stroke-width="1.6"/>
<line x1="107.60" y1="994.10" x2="111.00" y2="994.10" stroke="#000" stroke-width="1.6"/>
<line x1="119.20" y1="994.10" x2="125.00" y2="994.10" stroke="#000" stroke-width="1.6"/>
<line x1="122.10" y1="991.20" x2="122.10" y2="997.00" stroke="#000" stroke-width="1.6"/>
<line x1="195.60" y1="994.10" x2="199.00" y2="994.10" stroke="#000" stroke-width="1.6"/>
<line x1="208.40" y1="994.10" x2="211.80" y2="994.10" stroke="#000" stroke-width="1.6"/>
<line x1="221.20" y1="994.10" x2="224.60" y2="994.10" stroke="#000" stroke-width="1.6"/>
<line x1="232.80" y1="994.10" x2="238.60" y2="994.10" stroke="#000" stroke-width="1.6"/>
<line x1="235.70" y1="991.20" x2="235.70" y2="997.00" stroke="#000" stroke-width="1.6"/>
<line x1="246.80" y1="994.10" x2="250.20" y2="994.10" stroke="#000" stroke-width="1.6"/>
<line x1="258.40" y1="994.10" x2="264.20" y2="994.10" stroke="#000" stroke-width="1.6"/>
<line x1="261.30" y1="991.20" x2="261.30" y2="997.00" stroke="#000" stroke-width="1.6"/>
<line x1="332.20" y1="994.10" x2="335.60" y2="994.10" stroke="#000" stroke-width="1.6"/>
<line x1="345.00" y1="994.10" x2="348.40" y2="994.10" stroke="#000" stroke-width="1.6"/>
<line x1="357.80" y1="994.10" x2="361.20" y2="994.10" stroke="#000" stroke-width="1.6"/>
<line x1="369.40" y1="994.10" x2="375.20" y2="994.10" stroke="#000" stroke-width="1.6"/>
<line x1="372.30" y1="991.20" x2="372.30" y2="997.00" stroke="#000" stroke-width="1.6"/>
<line x1="383.40" y1="994.10" x2="386.80" y2="994.10" stroke="#000" stroke-width="1.6"/>
<line x1="395.00" y1="994.10" x2="400.80" y2="994.10" stroke="#000" stroke-width="1.6"/>
<line x1="397.90" y1="991.20" x2="397.90" y2="997.00" stroke="#000" stroke-width="1.6"/>
<line x1="472.50" y1="994.10" x2="475.90" y2="994.10" stroke="#000" stroke-width="1.6"/>
<line x1="485.30" y1="994.10" x2="488.70" y2="994.10" stroke="#000" stroke-width="1.6"/>
<line x1="498.10" y1="994.10" x2="501.50" y2="994.10" stroke="#000" stroke-width="1.6"/>
<line x1="509.70" y1="994.10" x2="515.50" y2="994.10" stroke="#000" stroke-width="1.6"/>
<line x1="512.60" y1="991.20" x2="512.60" y2="997.00" stroke="#000" stroke-width="1.6"/>
<line x1="523.70" y1="994.10" x2="527.10" y2="994.10" stroke="#000" stroke-width="1.6"/>
<line x1="535.30" y1="994.10" x2="541.10" y2="994.10" stroke="#000" stroke-width="1.6"/>
<line x1="538.20" y1="991.20" x2="538.20" y2="997.00" stroke="#000" stroke-width="1.6"/>
<line x1="611.00" y1="994.10" x2="614.40" y2="994.10" stroke="#000" stroke-width="1.6"/>
<line x1="623.80" y1="994.10" x2="627.20" y2="994.10" stroke="#000" stroke-width="1.6"/>
<line x1="636.60" y1="994.10" x2="640.00" y2="994.10" stroke="#000" stroke-width="1.6"/>
<line x1="648.20" y1="994.10" x2="654.00" y2="994.10" stroke="#000" stroke-width="1.6"/>
<line x1="651.10" y1="991.20" x2="651.10" y2="997.00" stroke="#000" stroke-width="1.6"/>
<line x1="662.20" y1="994.10" x2="665.60" y2="994.10" stroke="#000" stroke-width="1.6"/>
<line x1="673.80" y1="994.10" x2="679.60" y2="994.10" stroke="#000" stroke-width="1.6"/>
<line x1="676.70" y1="991.20" x2="676.70" y2="997.00" stroke="#000" stroke-width="1.6"/>
<text x="3.40" y="27.60" font-size="16.0" font-weight="bold" text-anchor="start" fill="#000">A</text>
<text x="3.23" y="85.70" font-size="16.0" font-weight="bold" text-anchor="start" fill="#000">B</text>
<text x="3.70" y="247.00" font-size="16.0" font-weight="bold" text-anchor="start" fill="#000">C</text>
<text x="229.23" y="27.60" font-size="16.0" font-weight="bold" text-anchor="start" fill="#000">D</text>
<text x="229.53" y="86.20" font-size="16.0" font-weight="bold" text-anchor="start" fill="#000">E</text>
<text x="230.63" y="246.70" font-size="16.0" font-weight="bold" text-anchor="start" fill="#000">F</text>
<text x="455.30" y="27.80" font-size="16.0" font-weight="bold" text-anchor="start" fill="#000">G</text>
<text x="455.73" y="86.20" font-size="16.0" font-weight="bold" text-anchor="start" fill="#000">H</text>
<text x="459.81" y="246.70" font-size="16.0" font-weight="bold" text-anchor="start" fill="#000">I</text>
<text x="4.88" y="390.60" font-size="16.0" font-weight="bold" text-anchor="start" fill="#000">J</text>
<text x="321.60" y="390.30" font-size="16.0" font-weight="bold" text-anchor="start" fill="#000">K</text>
<text x="506.23" y="390.30" font-size="16.0" font-weight="bold" text-anchor="start" fill="#000">L</text>
<text x="3.28" y="558.70" font-size="16.0" font-weight="bold" text-anchor="start" fill="#000">M</text>
<text x="5.03" y="712.10" font-size="16.0" font-weight="bold" text-anchor="start" fill="#000">N</text>
<text x="126.16" y="712.40" font-size="16.0" font-weight="bold" text-anchor="start" fill="#000">O</text>
<text x="277.23" y="712.20" font-size="16.0" font-weight="bold" text-anchor="start" fill="#000">P</text>
<text x="414.56" y="712.20" font-size="16.0" font-weight="bold" text-anchor="start" fill="#000">Q</text>
<text x="550.03" y="712.20" font-size="16.0" font-weight="bold" text-anchor="start" fill="#000">R</text>
<text x="5.96" y="847.40" font-size="16.0" font-weight="bold" text-anchor="start" fill="#000">S</text>
<text x="128.28" y="847.40" font-size="16.0" font-weight="bold" text-anchor="start" fill="#000">T</text>
<text x="278.33" y="847.40" font-size="16.0" font-weight="bold" text-anchor="start" fill="#000">U</text>
<text x="415.00" y="847.40" font-size="16.0" font-weight="bold" text-anchor="start" fill="#000">V</text>
<text x="548.80" y="847.40" font-size="16.0" font-weight="bold" text-anchor="start" fill="#000">W</text>
</svg></body></html>
